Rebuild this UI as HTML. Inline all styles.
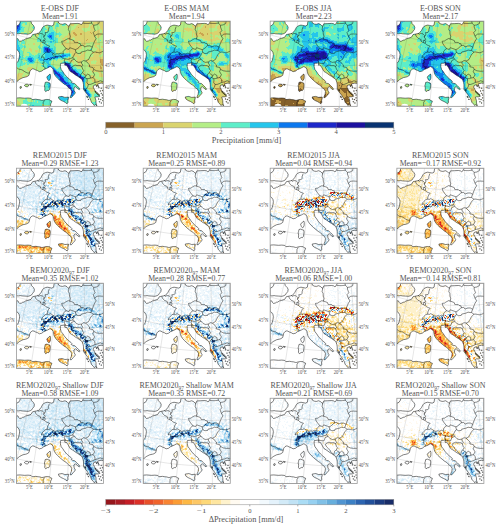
<!DOCTYPE html>
<html><head><meta charset="utf-8"><style>html,body{margin:0;padding:0;background:#fff;width:500px;height:528px;overflow:hidden}svg{display:block}</style></head><body><svg width="500" height="528" viewBox="0 0 500 528" font-family="Liberation Serif, serif" fill="#555"><defs><clipPath id="land"><path d="M0 17.5 L1.6 17.7 L2.2 19.1 L3.2 20.2 L5.1 19.9 L6.1 19.1 L7.6 18.9 L9.1 17.8 L11.6 17.2 L14.6 16.1 L16.2 13.5 L18 13.1 L20.1 12.7 L22.2 12.2 L24.6 9.4 L26.2 6.4 L27.2 5.3 L29.1 4.4 L30.8 4 L32.7 4.3 L35.3 4.9 L37.2 4 L37.8 0 L41.9 0 L42.2 1.9 L44.1 2.9 L46.1 3.2 L48.6 2.5 L50.6 3.5 L52.1 5.1 L53.1 4.4 L53.6 2.7 L57.6 2.5 L61.6 2.3 L63.6 2.7 L64.6 3.5 L65.6 3.1 L66.4 1.7 L67.1 0 L87.05 0 L87.05 62.3 L84.8 62 L82 62.6 L81.2 62.9 L81.8 64.2 L82.3 65.6 L81.5 65 L80.9 63.9 L80.3 64.6 L80.6 65.8 L79.9 65 L79.6 63.5 L77.4 64.3 L76.8 66 L78 68.3 L79.1 70.5 L80.2 72.2 L82.5 73.9 L83.6 75.1 L81.9 75.7 L79.6 75.7 L78.5 76.1 L79.1 77.9 L79.6 79.6 L79.6 81.9 L80.2 83.6 L80.5 84.8 L79.6 84.3 L79 83.3 L78.5 83.8 L77.9 84.5 L76.8 83 L75.1 81.3 L74.5 79.6 L74 77.9 L73.1 76.8 L72.8 76.2 L71.7 74.5 L70.5 72.8 L68.3 70 L67.1 68.3 L67.1 63.7 L66.8 61.6 L65.7 58.4 L63.4 56.7 L61.5 55.3 L59.4 54.1 L57.4 52.6 L55.8 51.5 L54 50.5 L52.8 48.7 L51.8 46.7 L50.6 44.9 L49.6 43.7 L48.6 44.3 L48.2 42.9 L48.9 41.6 L46.6 42.1 L44.4 42.2 L44.1 43.1 L44 45.7 L44.8 48.5 L46.4 50.5 L47.8 52.7 L48.6 53.7 L50.3 55.6 L52.5 57.7 L54.6 59.3 L55.5 60.5 L54.8 61.3 L56.4 62.1 L58.3 62.5 L60.4 64.5 L62.4 66.5 L63.4 68.1 L62.8 68.7 L61.1 67.3 L59.4 65.7 L58.2 65.9 L57.5 67.5 L57.8 69.7 L58.9 71.5 L58.4 72.7 L56.9 74.3 L55 76.5 L53.7 76.5 L54.1 75.1 L55 73 L55.3 70.3 L54.3 68.2 L52.5 66.9 L51 65.5 L49.3 63.7 L48.2 63.3 L45.8 61.4 L43.2 59.2 L41.1 57.2 L39.3 55.2 L37.8 52.9 L37.2 50.3 L36.8 48.1 L35.5 46.5 L33.8 45.5 L32.9 45.8 L31.2 46.8 L29.2 47.7 L27.4 48.4 L25.4 50 L22.9 50.6 L21 49.4 L19.2 48.8 L17.6 47.9 L16.1 47.7 L14.8 48.5 L13.6 49.9 L13 52.1 L12.6 54.2 L10.7 55.5 L9.1 56 L6.6 56.5 L4.8 57.4 L2.9 58.4 L1.2 59.9 L0 60.7 L0 41.7 L1.4 40.9 L2.2 38.9 L2.9 35.9 L3.2 33.4 L2.8 31.4 L1.6 29.4 L0 28.3Z M0 4.9 L2.1 4.1 L3.6 1.9 L3.8 0 L14.6 0 L15.2 2.5 L17.2 4.5 L18 6.3 L17.6 8.5 L16.2 10.1 L15.4 11.5 L13.8 12.5 L11.7 13.1 L8.6 12.9 L5.6 12.7 L4 12.4 L1.8 12.7 L0 12.5Z M0 76.9 L3.6 76.7 L8.3 77.1 L11.6 76.9 L14.6 77.2 L15.8 78.5 L19.4 78.1 L21.6 78.5 L23.6 78.7 L25.1 79.2 L26.6 79.2 L28.1 78.7 L30.5 78.3 L32 78.5 L32.9 78.3 L33.8 79.5 L35.5 80 L35 81.5 L34.2 82.9 L34.2 84.3 L34.6 85.25 L0 85.25Z M33.7 52.9 L34.1 54.3 L34 57.2 L33.2 59.1 L32.4 59.6 L31.3 58.5 L30.8 57 L30.4 56.1 L31 55.1 L32.4 54.2 L33.1 53.2Z M28.8 61.3 L30.6 60.9 L32 61.5 L33.5 61.9 L33.9 63.7 L33.7 65.7 L33.3 68.1 L32.2 69.5 L31.1 69.3 L29.2 70.5 L28.3 69.1 L28.5 66.9 L28 64.7 L28.5 63.1Z M42 75.9 L44.1 75.5 L45.6 75.3 L48.5 76.3 L52.1 76 L52 77.5 L51.5 79.1 L51.6 81.3 L50.6 82.7 L49.1 81.5 L47.2 80.4 L44.9 79.4 L42.7 77.9Z M7.9 64.3 L9.4 63.2 L10.9 63.1 L12.2 63.7 L12.2 64.8 L10.8 65.8 L9.2 65.4Z M13.4 63.1 L15.2 63.5 L14.7 64.2 L13.4 63.9Z M3.5 65.8 L4.8 65.3 L5.1 66.7 L3.9 67.5Z M68.2 68.3 L69.2 68.7 L69.4 70.1 L68.6 69.7Z M78.5 70 L80.1 70.9 L81.8 72.3 L83.1 73.9 L82.2 74.1 L80.4 72.7 L78.9 71.2Z M70.2 74.9 L71.2 75.5 L71.3 76.7 L70.5 76.3Z M71.6 77.9 L72.4 78.2 L72.2 78.9Z M82.9 66.6 L82.7 66.95 L82.3 66.95 L82.1 66.6 L82.3 66.25 L82.7 66.25Z M85.2 67.1 L85 67.45 L84.6 67.45 L84.4 67.1 L84.6 66.75 L85 66.75Z M85.2 72.2 L85 72.55 L84.6 72.55 L84.4 72.2 L84.6 71.85 L85 71.85Z M86.3 73.9 L86.1 74.25 L85.7 74.25 L85.5 73.9 L85.7 73.55 L86.1 73.55Z M84.6 78.5 L84.4 78.85 L84 78.85 L83.8 78.5 L84 78.15 L84.4 78.15Z M86.3 76.8 L86.1 77.15 L85.7 77.15 L85.5 76.8 L85.7 76.45 L86.1 76.45Z M85.2 81.9 L85 82.25 L84.6 82.25 L84.4 81.9 L84.6 81.55 L85 81.55Z M86.9 79.6 L86.7 79.95 L86.3 79.95 L86.1 79.6 L86.3 79.25 L86.7 79.25Z M83.5 80.7 L83.3 81.05 L82.9 81.05 L82.7 80.7 L82.9 80.35 L83.3 80.35Z M82.6 77.9 L82.4 78.25 L82 78.25 L81.8 77.9 L82 77.55 L82.4 77.55Z M86.6 69.5 L86.4 69.85 L86 69.85 L85.8 69.5 L86 69.15 L86.4 69.15Z M84.2 69.9 L84 70.25 L83.6 70.25 L83.4 69.9 L83.6 69.55 L84 69.55Z"/></clipPath><clipPath id="frm"><rect x="0" y="0" width="87.05" height="85.25"/></clipPath><path id="coast" d="M0 17.5 L1.6 17.7 L2.2 19.1 L3.2 20.2 L5.1 19.9 L6.1 19.1 L7.6 18.9 L9.1 17.8 L11.6 17.2 L14.6 16.1 L16.2 13.5 L18 13.1 L20.1 12.7 L22.2 12.2 L24.6 9.4 L26.2 6.4 L27.2 5.3 L29.1 4.4 L30.8 4 L32.7 4.3 L35.3 4.9 L37.2 4 L37.8 0 L41.9 0 L42.2 1.9 L44.1 2.9 L46.1 3.2 L48.6 2.5 L50.6 3.5 L52.1 5.1 L53.1 4.4 L53.6 2.7 L57.6 2.5 L61.6 2.3 L63.6 2.7 L64.6 3.5 L65.6 3.1 L66.4 1.7 L67.1 0 L87.05 0 L87.05 62.3 L84.8 62 L82 62.6 L81.2 62.9 L81.8 64.2 L82.3 65.6 L81.5 65 L80.9 63.9 L80.3 64.6 L80.6 65.8 L79.9 65 L79.6 63.5 L77.4 64.3 L76.8 66 L78 68.3 L79.1 70.5 L80.2 72.2 L82.5 73.9 L83.6 75.1 L81.9 75.7 L79.6 75.7 L78.5 76.1 L79.1 77.9 L79.6 79.6 L79.6 81.9 L80.2 83.6 L80.5 84.8 L79.6 84.3 L79 83.3 L78.5 83.8 L77.9 84.5 L76.8 83 L75.1 81.3 L74.5 79.6 L74 77.9 L73.1 76.8 L72.8 76.2 L71.7 74.5 L70.5 72.8 L68.3 70 L67.1 68.3 L67.1 63.7 L66.8 61.6 L65.7 58.4 L63.4 56.7 L61.5 55.3 L59.4 54.1 L57.4 52.6 L55.8 51.5 L54 50.5 L52.8 48.7 L51.8 46.7 L50.6 44.9 L49.6 43.7 L48.6 44.3 L48.2 42.9 L48.9 41.6 L46.6 42.1 L44.4 42.2 L44.1 43.1 L44 45.7 L44.8 48.5 L46.4 50.5 L47.8 52.7 L48.6 53.7 L50.3 55.6 L52.5 57.7 L54.6 59.3 L55.5 60.5 L54.8 61.3 L56.4 62.1 L58.3 62.5 L60.4 64.5 L62.4 66.5 L63.4 68.1 L62.8 68.7 L61.1 67.3 L59.4 65.7 L58.2 65.9 L57.5 67.5 L57.8 69.7 L58.9 71.5 L58.4 72.7 L56.9 74.3 L55 76.5 L53.7 76.5 L54.1 75.1 L55 73 L55.3 70.3 L54.3 68.2 L52.5 66.9 L51 65.5 L49.3 63.7 L48.2 63.3 L45.8 61.4 L43.2 59.2 L41.1 57.2 L39.3 55.2 L37.8 52.9 L37.2 50.3 L36.8 48.1 L35.5 46.5 L33.8 45.5 L32.9 45.8 L31.2 46.8 L29.2 47.7 L27.4 48.4 L25.4 50 L22.9 50.6 L21 49.4 L19.2 48.8 L17.6 47.9 L16.1 47.7 L14.8 48.5 L13.6 49.9 L13 52.1 L12.6 54.2 L10.7 55.5 L9.1 56 L6.6 56.5 L4.8 57.4 L2.9 58.4 L1.2 59.9 L0 60.7 L0 41.7 L1.4 40.9 L2.2 38.9 L2.9 35.9 L3.2 33.4 L2.8 31.4 L1.6 29.4 L0 28.3Z M0 4.9 L2.1 4.1 L3.6 1.9 L3.8 0 L14.6 0 L15.2 2.5 L17.2 4.5 L18 6.3 L17.6 8.5 L16.2 10.1 L15.4 11.5 L13.8 12.5 L11.7 13.1 L8.6 12.9 L5.6 12.7 L4 12.4 L1.8 12.7 L0 12.5Z M0 76.9 L3.6 76.7 L8.3 77.1 L11.6 76.9 L14.6 77.2 L15.8 78.5 L19.4 78.1 L21.6 78.5 L23.6 78.7 L25.1 79.2 L26.6 79.2 L28.1 78.7 L30.5 78.3 L32 78.5 L32.9 78.3 L33.8 79.5 L35.5 80 L35 81.5 L34.2 82.9 L34.2 84.3 L34.6 85.25 L0 85.25Z M33.7 52.9 L34.1 54.3 L34 57.2 L33.2 59.1 L32.4 59.6 L31.3 58.5 L30.8 57 L30.4 56.1 L31 55.1 L32.4 54.2 L33.1 53.2Z M28.8 61.3 L30.6 60.9 L32 61.5 L33.5 61.9 L33.9 63.7 L33.7 65.7 L33.3 68.1 L32.2 69.5 L31.1 69.3 L29.2 70.5 L28.3 69.1 L28.5 66.9 L28 64.7 L28.5 63.1Z M42 75.9 L44.1 75.5 L45.6 75.3 L48.5 76.3 L52.1 76 L52 77.5 L51.5 79.1 L51.6 81.3 L50.6 82.7 L49.1 81.5 L47.2 80.4 L44.9 79.4 L42.7 77.9Z M7.9 64.3 L9.4 63.2 L10.9 63.1 L12.2 63.7 L12.2 64.8 L10.8 65.8 L9.2 65.4Z M13.4 63.1 L15.2 63.5 L14.7 64.2 L13.4 63.9Z M3.5 65.8 L4.8 65.3 L5.1 66.7 L3.9 67.5Z M68.2 68.3 L69.2 68.7 L69.4 70.1 L68.6 69.7Z M78.5 70 L80.1 70.9 L81.8 72.3 L83.1 73.9 L82.2 74.1 L80.4 72.7 L78.9 71.2Z M70.2 74.9 L71.2 75.5 L71.3 76.7 L70.5 76.3Z M71.6 77.9 L72.4 78.2 L72.2 78.9Z M82.9 66.6 L82.7 66.95 L82.3 66.95 L82.1 66.6 L82.3 66.25 L82.7 66.25Z M85.2 67.1 L85 67.45 L84.6 67.45 L84.4 67.1 L84.6 66.75 L85 66.75Z M85.2 72.2 L85 72.55 L84.6 72.55 L84.4 72.2 L84.6 71.85 L85 71.85Z M86.3 73.9 L86.1 74.25 L85.7 74.25 L85.5 73.9 L85.7 73.55 L86.1 73.55Z M84.6 78.5 L84.4 78.85 L84 78.85 L83.8 78.5 L84 78.15 L84.4 78.15Z M86.3 76.8 L86.1 77.15 L85.7 77.15 L85.5 76.8 L85.7 76.45 L86.1 76.45Z M85.2 81.9 L85 82.25 L84.6 82.25 L84.4 81.9 L84.6 81.55 L85 81.55Z M86.9 79.6 L86.7 79.95 L86.3 79.95 L86.1 79.6 L86.3 79.25 L86.7 79.25Z M83.5 80.7 L83.3 81.05 L82.9 81.05 L82.7 80.7 L82.9 80.35 L83.3 80.35Z M82.6 77.9 L82.4 78.25 L82 78.25 L81.8 77.9 L82 77.55 L82.4 77.55Z M86.6 69.5 L86.4 69.85 L86 69.85 L85.8 69.5 L86 69.15 L86.4 69.15Z M84.2 69.9 L84 70.25 L83.6 70.25 L83.4 69.9 L83.6 69.55 L84 69.55Z"/><path id="bord" d="M18.54 13.07 L19.2 14.95 L20.17 16.05 L21.15 17.14 L21.84 17.38 L22.54 17.61 L23.34 18.1 L24.14 18.57 L24.07 19.94 L24.79 20.51 L25.51 21.09 L26.64 21.49 M21.17 12.17 L21.8 12.66 L22.44 13.14 L23.74 12.3 L24.72 12.47 L25.7 12.63 L26.47 13.21 L27.24 13.79 L27.73 14.32 L27.18 16.07 M27.18 16.07 L28.21 16.92 L28.87 18.39 L27.88 19.16 L27.05 18.8 M27.05 18.8 L26.67 20.35 L26.64 21.49 M27.88 19.16 L28.84 20.67 L28.32 22.2 L27.48 21.85 L26.64 21.49 M27.18 16.07 L28.2 15.08 L28.65 14 L29.09 12.92 L28.6 11.48 L29.41 11.44 L30.22 11.41 L31.03 11.37 L31.91 10.12 L32.02 8.31 L32.5 6.89 L32.97 5.46 M28.32 22.2 L29.1 23 L29.88 23.79 L30.73 24.11 L31.59 24.43 L32.44 24.75 L33.3 25.06 L31.91 26.58 L31.47 27.66 L31.03 28.75 L30.88 29.87 L30.74 30.99 M30.74 30.99 L29.79 31.21 L28.84 31.42 L28.44 32.05 L27.04 33.23 L25.56 34.84 L24.99 36.59 L26.05 35.83 L26.82 35.94 L27.58 36.05 L27.65 37.89 L27.89 38.38 M27.89 38.38 L27.15 39.19 L27.46 40.38 L27.78 41.57 L26.97 41.68 L26.15 41.8 L27.16 43.77 L26.66 45.07 L27.45 45.64 L28.24 46.2 L29.04 46.76 L28.21 48.12 M30.74 30.99 L31.64 31.11 L32.55 31.22 L33.86 30.47 L35.01 31.06 L35.87 31.61 L36.73 32.16 M27.89 38.38 L28.83 38.43 L29.77 38.48 L30.71 38.53 L31.59 37.84 L32.45 37.14 L33.12 38.14 L33.79 39.13 L34.57 37.85 L35.95 36.63 L36.82 37.18 L37.71 37.72 L38.74 36.69 L39.05 35.12 M36.73 32.16 L36.23 33.93 L37.36 34.96 L38.2 35.04 L39.05 35.12 M36.73 32.16 L37.59 32.7 L38.46 33.25 L39.56 32.9 L40.67 32.55 L41.57 32.74 L42.47 32.93 L43.58 32.45 L44.68 31.97 L45.46 32.33 L46.25 32.69 L47.04 33.05 L46.81 31.89 L46.58 30.74 L47.57 29.45 L48.55 28.15 L49.78 27.54 M39.05 35.12 L39.87 35.43 L40.69 35.73 L41.65 35.36 L42.61 34.99 L43.53 34.95 L44.46 34.91 L45.15 35.98 L45.85 37.05 L46.61 37.22 L47.38 37.38 L48.14 37.54 L48.91 37.7 M48.91 37.7 L47.9 39 L48.42 40.85 L48.84 41.78 M48.91 37.7 L49.83 37.9 L50.75 38.1 L51.67 38.3 L52.46 37.99 L53.25 37.69 L54.03 37.38 L54.82 37.06 L56.05 37.1 L56.39 36.21 M48.34 42.21 L49.28 42.26 L50.23 42.31 L51.17 42.36 L52.01 42.47 L52.84 42.58 L53.68 42.69 L54.37 41.13 L55.05 39.34 L56 38.92 L56.94 38.49 L57.88 38.06 M56.39 36.21 L57.13 37.13 L57.88 38.06 M56.39 36.21 L57.03 35.09 L57.67 33.98 L58.31 32.63 L59.54 31.29 M49.78 27.54 L50.66 27.81 L51.55 28.08 L52.43 28.35 L53.4 26.58 L54.13 26.84 L54.86 27.09 L55.6 27.34 L56.33 27.59 L57.22 27.92 L58.1 28.24 L58.99 28.57 M58.99 28.57 L59.26 29.93 L59.54 31.29 M49.78 27.54 L49.04 26.66 L48.3 25.79 L47.57 24.91 L46.77 23.72 L45.97 22.53 L45.62 21.36 L45.27 20.2 L46.05 20.11 L46.83 20.01 L47.61 19.91 L48.52 19.29 L49.42 18.67 L50.21 18.26 L51 17.85 L51.78 17.44 L52.48 17.7 L53.19 17.96 M53.19 17.96 L53.53 16.61 L53.87 15.26 L53.5 14.11 L53.13 12.96 L53.05 11.6 L52.98 10.24 L51.96 8.37 L52.22 7.02 L52.47 5.67 L52.72 4.33 M53.19 17.96 L54.18 18.22 L55.17 18.49 L55.92 18.82 L56.68 19.14 L57.44 19.47 L57.97 21.29 L58.69 21.31 L59.42 21.32 L60.43 21.34 L61.45 21.35 L62.31 22.26 L63.18 22.49 L64.06 22.72 L64.65 24.53 M58.99 28.57 L59.89 28.13 L60.79 27.69 L61.69 27.02 L62.58 26.34 L63.32 25.44 L64.06 24.53 L64.65 24.53 M64.65 24.53 L65.67 24.3 L66.7 24.06 L67.44 24.96 L68.19 25.85 L69.07 25.53 L69.95 25.21 L70.82 24.89 L71.7 24.86 L72.59 24.83 L73.47 24.8 L74.27 25.22 L75.08 25.63 L75.89 26.05 M75.89 26.05 L76.27 24.9 L76.65 23.74 L77.17 22.5 L77.69 21.27 L78.19 20.03 L78.99 18.84 L79.77 17.66 L78.97 16.35 L78.18 15.03 M78.18 15.03 L77.73 13.85 L77.29 12.67 L76.85 11.48 L77.76 10.52 L78.67 9.56 L78.23 8.37 L77.79 7.19 L77.35 6.01 L77.24 4.2 M77.24 4.2 L76.23 3.12 L75.24 2.04 L74.55 2.12 L73.86 2.2 L73.16 2.27 L72.47 2.34 L71.78 2.42 L71.11 2.4 L70.44 2.38 L69.77 2.36 L69.11 2.34 L68.44 2.32 L67.77 2.3 L66.7 2.09 M75.24 2.04 L75.05 0.91 L74.85 -0.21 M77.24 4.2 L77.91 4.1 L78.58 4 L79.25 3.9 L79.92 3.79 L80.57 3.46 L81.21 3.13 L81.86 2.79 L82.51 2.46 L82.77 0.84 L83.03 -0.77 M78.18 15.03 L78.99 14.38 L79.79 13.72 L80.59 13.06 L81.29 13.01 L81.99 12.95 L82.69 12.9 L83.39 12.84 L84.1 12.89 L84.81 12.95 L85.52 12.99 L86.23 13.04 L86.95 13.2 L87.67 13.35 L88.4 13.51 L89.12 13.66 M59.54 31.29 L60.59 31.88 L61.64 32.45 L62.55 32.38 L63.46 32.31 L64.37 32.24 L64.97 30.87 L66.02 30.64 L67.07 30.4 L68.12 30.16 L69.16 29.91 L70.2 29.44 L71.24 28.95 L72.29 29.15 L73.35 29.34 L74.54 29.29 M74.54 29.29 L75.22 27.67 L75.89 26.05 M74.54 29.29 L75.37 29.85 L76.2 30.42 L77.03 30.98 M77.03 30.98 L76.17 31.93 L75.3 32.88 L74.43 33.83 L73.87 34.98 L73.29 36.14 L72.72 37.29 L72.14 38.44 L71.22 38.93 L70.3 39.4 L69.38 39.88 M69.38 39.88 L68.28 39.67 L67.19 39.46 L66.1 40.15 L65.02 40.84 M65.02 40.84 L64.08 41 L63.14 41.15 L62.2 41.29 L61.11 40.83 L60.02 40.36 L58.94 39.21 L57.88 38.06 M65.02 40.84 L65.34 42.65 L66.61 44 L65.35 45.37 M65.35 45.37 L64.56 44.92 L63.76 44.47 L62.97 44.47 L62.18 44.46 L61.39 44.46 L60.59 44.45 L59.65 44.21 L58.7 43.97 L57.74 44.4 L56.78 44.83 L55.96 45.49 L55.15 46.14 L55.75 47.29 L56.36 48.45 L57.31 49.38 L58.26 50.3 L59.05 51.22 L59.85 52.14 L60.81 53.74 M61.14 54.2 L62.12 54.66 L62.94 55.57 L63.76 56.48 M77.03 30.98 L77.93 30.93 L78.84 30.88 L79.69 31.06 L80.55 31.23 L81.41 31.4 L82.27 31.56 L83.14 31.72 L83.95 31.38 L84.75 31.03 L85.56 30.68 L86.36 30.32 L87.21 29.67 L88.05 29.03 M69.38 39.88 L70.18 40.77 L70.98 41.65 L72.12 42.75 L73.26 43.85 L73 45.67 L73.89 45.86 L74.77 46.06 L75.66 46.24 L76.55 46.43 L77.28 48.21 M77.28 48.21 L78.16 48.69 L79.05 49.17 L79.94 49.65 L80.76 49.77 L81.58 49.89 L82.4 50.01 L83.22 50.12 L84.03 50.12 L84.84 50.11 L85.66 50.1 L86.47 50.09 L87.25 49.63 L88.02 49.16 L88.79 48.69 L89.56 48.22 L90.4 47.99 L91.24 47.75 L92.08 47.52 M65.35 45.37 L65.84 46.73 L66.33 48.08 L67.32 49.43 L66.36 51.25 L66.04 51.71 M66.04 51.71 L65.23 52.39 L64.42 53.08 L64.2 54.21 L63.98 55.34 L63.76 56.48 M66.04 51.71 L67.03 52.61 L68.02 53.5 L68.85 53.94 L69.68 54.37 L69.05 55.75 L68.06 56.22 M68.06 56.22 L66.76 58.05 L66.6 59.09 M68.06 56.22 L69.24 56.88 L70.41 57.53 L70.78 58.88 L70.64 60.24 L70.51 61.61 L71.91 63.38 M71.91 63.38 L71.6 64.53 L71.29 65.67 L70.63 66.82 L69.97 67.96 L68.95 68.89 M77.28 48.21 L76.85 49.36 L76.41 50.52 L77.3 52.06 L78.2 53.61 L77.44 55.01 L76.68 56.4 M70.41 57.53 L71.57 57.5 L72.74 57.47 L74.05 56.97 L74.93 56.78 L75.81 56.59 L76.68 56.4 M69.68 54.37 L70.49 53.68 L71.29 52.98 L72.45 53.62 L73.62 54.26 L73.84 55.61 L74.05 56.97 M71.91 63.38 L72.92 63.35 L73.94 63.32 L74.83 62.98 L75.72 62.64 L76.61 62.3 L77.61 61.8 L78.59 61.3 M78.59 61.3 L78.52 59.94 L78.45 58.58 L77.57 57.49 L76.68 56.4 M78.59 61.3 L79.6 61.09 L80.6 60.88 L81.6 60.67 L82.74 60.14 L83.88 59.61 L84.81 60 L85.74 60.38 L86.67 60.76 L87.63 60.07 L88.58 59.39 L89.53 58.69 M13.26 51.95 L12.13 51.92 L11.01 51.89 L10.18 51.5 L9.36 51.11 L8.54 50.71 L7.65 50.07 L6.61 49.39 L5.57 48.71 L4.77 48.54 L3.96 48.36 L3.16 48.18 L2.36 48 L1.33 47.31 L0.31 46.6 L-0.39 45.86 L-1.1 45.12 L-1.79 44.38 M37.67 -1.48 L38.32 -1.34 L38.97 -1.21 L39.62 -1.08 L40.28 -0.96 L41.04 -0.65 M28.17 79.29 L26.86 81.19 L26.81 82.32 L26.76 83.46 L26.72 84.59 L26.68 85.73 L26.29 86.9 L25.9 88.07 L25.5 89.24"/><path id="grid" d="M-9.16 104.85 L-8.16 100.43 L-7.17 96 L-6.18 91.58 L-5.2 87.16 L-4.22 82.73 L-3.25 78.31 L-2.28 73.88 L-1.31 69.46 L-0.35 65.04 L0.62 60.61 L1.58 56.19 L2.55 51.76 L3.51 47.34 L4.48 42.91 L5.45 38.49 L6.42 34.06 L7.39 29.64 L8.37 25.21 L9.35 20.79 L10.33 16.37 L11.32 11.94 L12.32 7.52 L13.32 3.1 L14.33 -1.32 L15.34 -5.74 L16.37 -10.16 L17.4 -14.57 L18.45 -18.99 M10.29 108.58 L11.03 104.11 L11.76 99.64 L12.49 95.16 L13.22 90.69 L13.94 86.22 L14.66 81.75 L15.37 77.27 L16.09 72.8 L16.8 68.32 L17.51 63.85 L18.22 59.38 L18.93 54.9 L19.64 50.43 L20.35 45.95 L21.06 41.48 L21.77 37.01 L22.49 32.53 L23.2 28.06 L23.92 23.59 L24.64 19.11 L25.37 14.64 L26.1 10.17 L26.83 5.7 L27.57 1.23 L28.32 -3.25 L29.07 -7.72 L29.83 -12.19 L30.59 -16.66 M29.98 111.17 L30.45 106.66 L30.92 102.16 L31.38 97.65 L31.84 93.14 L32.3 88.63 L32.75 84.13 L33.21 79.62 L33.66 75.11 L34.11 70.6 L34.56 66.09 L35.01 61.59 L35.46 57.08 L35.91 52.57 L36.36 48.06 L36.81 43.55 L37.26 39.05 L37.71 34.54 L38.17 30.03 L38.62 25.52 L39.08 21.01 L39.54 16.51 L40 12 L40.46 7.49 L40.93 2.98 L41.4 -1.52 L41.87 -6.03 L42.35 -10.54 L42.83 -15.04 M49.82 112.59 L50.02 108.07 L50.21 103.54 L50.4 99.01 L50.59 94.49 L50.78 89.96 L50.97 85.43 L51.16 80.91 L51.35 76.38 L51.53 71.85 L51.72 67.32 L51.91 62.8 L52.09 58.27 L52.28 53.74 L52.46 49.22 L52.65 44.69 L52.84 40.16 L53.02 35.64 L53.21 31.11 L53.4 26.58 L53.59 22.05 L53.78 17.53 L53.97 13 L54.16 8.47 L54.35 3.95 L54.55 -0.58 L54.74 -5.11 L54.94 -9.63 L55.14 -14.16 M69.73 112.83 L69.65 108.3 L69.57 103.77 L69.49 99.24 L69.4 94.71 L69.32 90.18 L69.24 85.65 L69.16 81.12 L69.08 76.59 L69 72.06 L68.92 67.53 L68.84 63 L68.77 58.47 L68.69 53.94 L68.61 49.41 L68.53 44.88 L68.45 40.35 L68.37 35.82 L68.29 31.29 L68.21 26.76 L68.13 22.23 L68.05 17.7 L67.97 13.17 L67.88 8.64 L67.8 4.11 L67.72 -0.42 L67.64 -4.95 L67.55 -9.48 L67.47 -14.01 M89.61 111.89 L89.25 107.37 L88.9 102.85 L88.54 98.33 L88.19 93.82 L87.84 89.3 L87.49 84.78 L87.14 80.27 L86.8 75.75 L86.45 71.23 L86.11 66.71 L85.76 62.19 L85.42 57.68 L85.08 53.16 L84.73 48.64 L84.39 44.12 L84.04 39.61 L83.7 35.09 L83.35 30.57 L83 26.05 L82.66 21.54 L82.31 17.02 L81.95 12.5 L81.6 7.98 L81.24 3.47 L80.88 -1.05 L80.52 -5.57 L80.16 -10.08 L79.79 -14.6 M-39.73 72.69 L-36.23 73.87 L-32.73 75.01 L-29.21 76.12 L-25.68 77.18 L-22.13 78.21 L-18.57 79.2 L-15 80.14 L-11.42 81.05 L-7.83 81.91 L-4.22 82.73 L-0.61 83.51 L3.01 84.25 L6.65 84.95 L10.29 85.61 L13.94 86.22 L17.6 86.79 L21.26 87.31 L24.93 87.8 L28.61 88.24 L32.3 88.63 L35.99 88.99 L39.68 89.3 L43.38 89.56 L47.08 89.78 L50.78 89.96 L54.49 90.09 L58.2 90.18 L61.91 90.23 L65.61 90.23 L69.32 90.18 L73.03 90.09 L76.74 89.96 L80.44 89.79 L84.14 89.56 L87.84 89.3 L91.53 88.99 L95.22 88.64 L98.91 88.24 L102.59 87.8 L106.26 87.32 L109.92 86.79 L113.58 86.23 M-32.47 51.25 L-29.21 52.35 L-25.94 53.42 L-22.65 54.45 L-19.36 55.44 L-16.06 56.4 L-12.74 57.32 L-9.41 58.2 L-6.08 59.04 L-2.73 59.84 L0.62 60.61 L3.98 61.34 L7.35 62.02 L10.73 62.67 L14.12 63.28 L17.51 63.85 L20.91 64.38 L24.31 64.87 L27.72 65.32 L31.14 65.73 L34.56 66.09 L37.99 66.42 L41.42 66.71 L44.85 66.96 L48.28 67.16 L51.72 67.32 L55.16 67.45 L58.6 67.53 L62.04 67.57 L65.48 67.57 L68.92 67.53 L72.36 67.45 L75.8 67.33 L79.24 67.16 L82.68 66.96 L86.11 66.71 L89.54 66.43 L92.96 66.1 L96.38 65.73 L99.8 65.32 L103.21 64.87 L106.62 64.39 L110.02 63.86 M-25.19 29.81 L-22.17 30.84 L-19.13 31.83 L-16.09 32.78 L-13.04 33.7 L-9.98 34.59 L-6.91 35.44 L-3.84 36.25 L-0.75 37.03 L2.35 37.78 L5.45 38.49 L8.56 39.16 L11.67 39.79 L14.8 40.39 L17.92 40.96 L21.06 41.48 L24.2 41.97 L27.35 42.42 L30.5 42.84 L33.65 43.21 L36.81 43.55 L39.97 43.86 L43.14 44.12 L46.31 44.35 L49.48 44.54 L52.65 44.69 L55.82 44.8 L59 44.88 L62.18 44.92 L65.35 44.92 L68.53 44.88 L71.7 44.8 L74.88 44.69 L78.05 44.54 L81.22 44.35 L84.39 44.12 L87.55 43.86 L90.72 43.56 L93.88 43.22 L97.03 42.84 L100.18 42.43 L103.33 41.98 L106.47 41.49 M-17.79 8.4 L-15.01 9.34 L-12.23 10.25 L-9.44 11.13 L-6.63 11.98 L-3.83 12.79 L-1.01 13.57 L1.82 14.32 L4.65 15.03 L7.49 15.72 L10.33 16.37 L13.18 16.98 L16.04 17.57 L18.9 18.12 L21.77 18.63 L24.64 19.11 L27.52 19.56 L30.41 19.98 L33.29 20.36 L36.18 20.7 L39.08 21.01 L41.98 21.29 L44.88 21.53 L47.78 21.74 L50.68 21.92 L53.59 22.05 L56.49 22.16 L59.4 22.23 L62.31 22.26 L65.22 22.26 L68.13 22.23 L71.04 22.16 L73.94 22.06 L76.85 21.92 L79.75 21.74 L82.66 21.54 L85.56 21.29 L88.45 21.02 L91.35 20.71 L94.24 20.36 L97.12 19.98 L100.01 19.57 L102.89 19.12 M-10.16 -12.97 L-7.64 -12.12 L-5.11 -11.29 L-2.58 -10.49 L-0.04 -9.72 L2.51 -8.99 L5.06 -8.28 L7.62 -7.6 L10.19 -6.95 L12.76 -6.33 L15.34 -5.74 L17.93 -5.18 L20.52 -4.65 L23.11 -4.15 L25.71 -3.68 L28.32 -3.25 L30.93 -2.84 L33.54 -2.46 L36.16 -2.12 L38.78 -1.81 L41.4 -1.52 L44.02 -1.27 L46.65 -1.05 L49.28 -0.86 L51.91 -0.71 L54.55 -0.58 L57.18 -0.49 L59.81 -0.42 L62.45 -0.39 L65.08 -0.39 L67.72 -0.42 L70.35 -0.48 L72.99 -0.58 L75.62 -0.7 L78.25 -0.86 L80.88 -1.05 L83.51 -1.27 L86.14 -1.52 L88.76 -1.8 L91.38 -2.11 L93.99 -2.46 L96.61 -2.83 L99.22 -3.24"/><filter id="gb" filterUnits="userSpaceOnUse" x="-12" y="-12" width="111" height="110" color-interpolation-filters="sRGB"><feGaussianBlur stdDeviation="4.2"/></filter><filter id="rb" filterUnits="userSpaceOnUse" x="-12" y="-12" width="111" height="110" color-interpolation-filters="sRGB"><feGaussianBlur stdDeviation="0.9"/></filter><filter id="fE" filterUnits="userSpaceOnUse" x="-4" y="-4" width="95" height="94" color-interpolation-filters="sRGB">
<feGaussianBlur in="SourceGraphic" stdDeviation="0.7" result="b"/>
<feColorMatrix in="b" type="matrix" values="1 0 0 0 0 1 0 0 0 0 1 0 0 0 0 0 0 0 0 1" result="v"/>
<feColorMatrix in="b" type="matrix" values="0 1 0 0 0 0 1 0 0 0 0 1 0 0 0 0 0 0 0 1" result="a"/>
<feTurbulence type="fractalNoise" baseFrequency="0.18" numOctaves="2" seed="3" result="t"/>
<feColorMatrix in="t" type="matrix" values="1 0 0 0 0 1 0 0 0 0 1 0 0 0 0 0 0 0 0 1" result="n"/>
<feComposite in="a" in2="n" operator="arithmetic" k1="0.3" k2="-0.15" k3="0" k4="0.5" result="m"/>
<feComposite in="v" in2="m" operator="arithmetic" k1="0" k2="1" k3="1" k4="-0.5" result="fv"/>
<feComponentTransfer in="fv"><feFuncR type="discrete" tableValues="0.525 0.797 0.858 0.706 0.366 0.146 0.047 0.115 0.110 0.031"/><feFuncG type="discrete" tableValues="0.380 0.647 0.831 0.933 0.933 0.779 0.471 0.159 0.069 0.200"/><feFuncB type="discrete" tableValues="0.165 0.316 0.438 0.529 0.791 0.925 0.933 0.790 0.626 0.443"/><feFuncA type="linear" slope="0" intercept="1"/></feComponentTransfer>
</filter><filter id="fD" filterUnits="userSpaceOnUse" x="-4" y="-4" width="95" height="94" color-interpolation-filters="sRGB">
<feGaussianBlur in="SourceGraphic" stdDeviation="0.45" result="b"/>
<feColorMatrix in="b" type="matrix" values="1 0 0 0 0 1 0 0 0 0 1 0 0 0 0 0 0 0 0 1" result="v"/>
<feColorMatrix in="b" type="matrix" values="0 1 0 0 0 0 1 0 0 0 0 1 0 0 0 0 0 0 0 1" result="a"/>
<feTurbulence type="fractalNoise" baseFrequency="0.42" numOctaves="2" seed="7" result="t"/>
<feColorMatrix in="t" type="matrix" values="1 0 0 0 0 1 0 0 0 0 1 0 0 0 0 0 0 0 0 1" result="n"/>
<feComposite in="a" in2="n" operator="arithmetic" k1="5.0" k2="-2.5" k3="0" k4="0.5" result="m"/>
<feComposite in="v" in2="m" operator="arithmetic" k1="0" k2="1" k3="1" k4="-0.5" result="fv"/>
<feComponentTransfer in="fv"><feFuncR type="discrete" tableValues="0.588 0.667 0.769 0.863 0.910 0.941 0.973 0.984 0.992 0.992 0.992 0.996 0.996 1.000 1.000 1.000 0.949 0.894 0.824 0.753 0.667 0.588 0.502 0.400 0.314 0.235 0.173 0.133 0.110 0.094"/><feFuncG type="discrete" tableValues="0.086 0.110 0.118 0.188 0.314 0.392 0.518 0.612 0.722 0.784 0.847 0.902 0.949 0.980 1.000 1.000 0.976 0.949 0.918 0.886 0.863 0.816 0.753 0.682 0.580 0.502 0.392 0.314 0.235 0.173"/><feFuncB type="discrete" tableValues="0.110 0.141 0.149 0.157 0.165 0.173 0.196 0.204 0.267 0.400 0.471 0.627 0.800 0.941 1.000 1.000 0.992 0.984 0.969 0.957 0.957 0.941 0.902 0.863 0.816 0.769 0.690 0.604 0.502 0.408"/><feFuncA type="linear" slope="0" intercept="1"/></feComponentTransfer>
</filter></defs><rect width="500" height="528" fill="#fff"/><g transform="translate(16.4 21.1)"><g clip-path="url(#frm)"><g clip-path="url(#land)"><g filter="url(#fE)"><g filter="url(#gb)"><g transform="translate(-8.71 -8.53) scale(8.71 8.53)"><path fill="#800000" d="M0 0h2v1h-2zM0 1h2v1h-2zM5 2h1v1h-1zM3 5h1v1h-1zM4 8h1v1h-1zM7 9h1v1h-1z"/><path fill="#520000" d="M2 0h1v1h-1zM10 0h2v1h-2zM2 1h1v1h-1zM10 1h2v1h-2zM2 2h1v1h-1zM6 2h1v1h-1zM2 4h1v1h-1zM4 6h1v1h-1zM9 6h1v1h-1zM0 10h2v1h-2zM0 11h2v1h-2z"/><path fill="#700000" d="M3 0h2v1h-2zM3 1h2v1h-2zM0 3h2v1h-2zM0 4h2v1h-2zM6 7h1v1h-1zM3 8h1v1h-1zM7 10h1v1h-1zM7 11h1v1h-1z"/><path fill="#610000" d="M5 0h2v1h-2zM5 1h2v1h-2zM3 4h1v1h-1zM8 7h1v1h-1zM8 9h1v1h-1z"/><path fill="#4c0000" d="M7 0h1v1h-1zM7 1h1v1h-1zM2 3h1v1h-1zM6 3h1v1h-1zM9 3h1v1h-1zM6 4h1v1h-1zM10 4h2v1h-2zM3 6h1v1h-1zM2 7h1v1h-1zM9 7h1v1h-1z"/><path fill="#470000" d="M8 0h2v1h-2zM8 1h2v1h-2zM7 2h1v1h-1zM10 2h2v1h-2zM8 3h1v1h-1zM7 5h1v1h-1zM9 5h1v1h-1zM10 6h2v1h-2zM10 7h2v1h-2zM9 8h3v1h-3z"/><path fill="#660000" d="M0 2h2v1h-2zM9 4h1v1h-1zM3 7h1v1h-1zM6 8h1v1h-1zM2 9h1v1h-1zM4 10h1v1h-1zM8 10h4v1h-4zM4 11h1v1h-1zM8 11h4v1h-4z"/><path fill="#6b0000" d="M3 2h1v1h-1zM5 3h1v1h-1zM2 5h1v1h-1zM7 6h1v1h-1z"/><path fill="#7a0000" d="M4 2h1v1h-1zM4 3h1v1h-1zM5 4h1v1h-1zM0 5h2v1h-2zM2 10h1v1h-1zM6 10h1v1h-1zM2 11h1v1h-1zM6 11h1v1h-1z"/><path fill="#420000" d="M8 2h2v1h-2zM8 5h1v1h-1zM5 6h1v1h-1z"/><path fill="#5c0000" d="M3 3h1v1h-1zM5 5h2v1h-2zM8 6h1v1h-1zM0 8h3v1h-3zM0 9h2v1h-2zM9 9h3v1h-3z"/><path fill="#3d0000" d="M7 3h1v1h-1zM7 4h1v1h-1z"/><path fill="#570000" d="M10 3h2v1h-2zM8 4h1v1h-1zM2 6h1v1h-1zM8 8h1v1h-1z"/><path fill="#8a0000" d="M4 4h1v1h-1z"/><path fill="#990000" d="M4 5h1v1h-1zM5 7h1v1h-1z"/><path fill="#330000" d="M10 5h2v1h-2z"/><path fill="#750000" d="M0 6h2v1h-2zM3 9h2v1h-2zM3 10h1v1h-1zM5 10h1v1h-1zM3 11h1v1h-1zM5 11h1v1h-1z"/><path fill="#8f0000" d="M6 6h1v1h-1zM4 7h1v1h-1zM7 7h1v1h-1z"/><path fill="#2e0000" d="M0 7h2v1h-2z"/><path fill="#a30000" d="M5 8h1v1h-1z"/><path fill="#850000" d="M7 8h1v1h-1zM5 9h1v1h-1z"/><path fill="#a80000" d="M6 9h1v1h-1z"/></g></g><g filter="url(#rb)"><path d="M28.82 38.51 L31.84 37.07 L33.89 36.86 L35.95 36.63 L38.02 36.16 L40.08 35.68 L41.64 35.51 L43.19 35.34 L44.75 35.16 L46.92 34.85 L49.09 34.53 L51.1 34.19 L53.1 33.82" fill="none" stroke="rgb(168,0,0)" stroke-width="3" stroke-linecap="round" stroke-linejoin="round"/><path d="M52.15 41.49 L53.97 43.38 L55.81 45.26 L57.52 47.11 L59.25 48.96 L61.17 50.35 L63.11 51.72 L64.74 53.08 L66.39 54.43 L69.08 57.56" fill="none" stroke="rgb(117,0,0)" stroke-width="3" stroke-linecap="round" stroke-linejoin="round"/><path d="M32.74 45.62 L34.57 46.62 L36.41 47.61 L38.73 50.57 L40.24 52.07 L41.76 53.56 L44.46 57.39 L46.03 59.09 L47.61 60.77 L49.22 62.22 L50.85 63.66 L53.13 66.47 L54.73 70.16 L54.96 74.24" fill="none" stroke="rgb(199,0,0)" stroke-width="3.5" stroke-linecap="round" stroke-linejoin="round"/><ellipse cx="14.73" cy="39" rx="4" ry="3" fill="rgb(153,0,0)"/><ellipse cx="29.24" cy="28.51" rx="2" ry="3" fill="rgb(189,0,0)"/><ellipse cx="32.47" cy="29.39" rx="2" ry="3" fill="rgb(189,0,0)"/><ellipse cx="55.74" cy="71.54" rx="2" ry="3" fill="rgb(184,0,0)"/><ellipse cx="32.58" cy="55.86" rx="1.5" ry="3" fill="rgb(163,0,0)"/><path d="M0 0 L4 0 L4 4 L0 8Z" fill="rgb(184,0,0)"/><ellipse cx="34.17" cy="15.67" rx="2.2" ry="1.8" fill="rgb(199,0,0)"/><path d="M49.23 43.16 L51.38 44.63 L53.18 47.43 L55.34 50.23 L58.22 52.12 L59.83 53.28 L61.46 54.43 L64.09 56.7 L66.44 58.96" fill="none" stroke="rgb(219,0,0)" stroke-width="4.0" stroke-linecap="round" stroke-linejoin="round"/><path d="M61.46 54.43 L64.09 56.7 L66.44 58.96 L67.14 62.12 L67.18 65.74 L69.65 69.33 L71.8 72 L73.28 74.67" fill="none" stroke="rgb(173,0,0)" stroke-width="3.0" stroke-linecap="round" stroke-linejoin="round"/><path d="M0 0 L3 0 L2.6 6 L2.2 11 L0 12.5Z" fill="rgb(189,0,0)"/><path d="M0 18 L2.2 19 L2.8 28 L2.4 36 L0 40Z" fill="rgb(153,0,0)"/></g><rect x="-4" y="-4" width="95" height="94" fill="rgb(0,255,0)" style="mix-blend-mode:lighten"/></g></g><ellipse cx="7.8" cy="84.3" rx="3.3" ry="1.7" fill="#fff"/><use href="#grid" fill="none" stroke="#000" stroke-opacity="0.22" stroke-width="0.45"/><use href="#coast" fill="none" stroke="#000" stroke-width="0.5"/><use href="#bord" fill="none" stroke="#111" stroke-width="0.5"/></g><rect x="0" y="0" width="87.05" height="85.25" fill="none" stroke="#999" stroke-width="0.8"/><text x="-1.8" y="15.1" font-size="5.1" text-anchor="end" textLength="9.76" lengthAdjust="spacingAndGlyphs">50°N</text><text x="-1.8" y="38.4" font-size="5.1" text-anchor="end" textLength="9.76" lengthAdjust="spacingAndGlyphs">45°N</text><text x="-1.8" y="62.4" font-size="5.1" text-anchor="end" textLength="9.76" lengthAdjust="spacingAndGlyphs">40°N</text><text x="-1.8" y="84.9" font-size="5.1" text-anchor="end" textLength="9.76" lengthAdjust="spacingAndGlyphs">35°N</text><text x="88.6" y="22.7" font-size="5.1" textLength="9.76" lengthAdjust="spacingAndGlyphs">50°N</text><text x="88.6" y="45.7" font-size="5.1" textLength="9.76" lengthAdjust="spacingAndGlyphs">45°N</text><text x="88.6" y="68.3" font-size="5.1" textLength="9.76" lengthAdjust="spacingAndGlyphs">40°N</text><text x="13" y="90.7" font-size="5.1" text-anchor="middle" textLength="6.95" lengthAdjust="spacingAndGlyphs">5°E</text><text x="32.1" y="90.7" font-size="5.1" text-anchor="middle" textLength="9.25" lengthAdjust="spacingAndGlyphs">10°E</text><text x="50.7" y="90.7" font-size="5.1" text-anchor="middle" textLength="9.25" lengthAdjust="spacingAndGlyphs">15°E</text><text x="68.2" y="90.7" font-size="5.1" text-anchor="middle" textLength="9.25" lengthAdjust="spacingAndGlyphs">20°E</text><text x="43.52" y="-10.3" font-size="9.2" text-anchor="middle" textLength="38.21" lengthAdjust="spacingAndGlyphs">E-OBS DJF</text><text x="43.52" y="-1.95" font-size="9.2" text-anchor="middle" textLength="35.81" lengthAdjust="spacingAndGlyphs">Mean=1.91</text></g><g transform="translate(143.2 21.1)"><g clip-path="url(#frm)"><g clip-path="url(#land)"><g filter="url(#fE)"><g filter="url(#gb)"><g transform="translate(-8.71 -8.53) scale(8.71 8.53)"><path fill="#700000" d="M0 0h2v1h-2zM0 1h2v1h-2zM4 2h1v1h-1zM4 7h1v1h-1z"/><path fill="#4c0000" d="M2 0h1v1h-1zM6 0h1v1h-1zM2 1h1v1h-1zM6 1h1v1h-1zM2 7h1v1h-1zM9 7h3v1h-3zM2 9h1v1h-1zM3 10h1v1h-1zM6 10h1v1h-1zM3 11h1v1h-1zM6 11h1v1h-1z"/><path fill="#5c0000" d="M3 0h2v1h-2zM3 1h2v1h-2zM0 2h2v1h-2zM3 2h1v1h-1zM5 2h1v1h-1zM3 3h1v1h-1zM6 3h1v1h-1zM5 6h1v1h-1zM3 8h2v1h-2zM7 9h1v1h-1zM2 10h1v1h-1zM2 11h1v1h-1z"/><path fill="#570000" d="M5 0h1v1h-1zM5 1h1v1h-1zM2 2h1v1h-1zM3 9h1v1h-1z"/><path fill="#450000" d="M7 0h2v1h-2zM7 1h2v1h-2zM7 2h1v1h-1zM9 2h1v1h-1zM7 3h1v1h-1zM10 5h2v1h-2z"/><path fill="#4a0000" d="M9 0h1v1h-1zM9 1h1v1h-1z"/><path fill="#540000" d="M10 0h2v1h-2zM10 1h2v1h-2zM10 2h2v1h-2zM8 5h1v1h-1zM10 6h2v1h-2z"/><path fill="#520000" d="M6 2h1v1h-1zM2 3h1v1h-1zM2 4h1v1h-1zM6 8h1v1h-1zM4 9h1v1h-1z"/><path fill="#400000" d="M8 2h1v1h-1z"/><path fill="#610000" d="M0 3h2v1h-2zM5 3h1v1h-1zM0 4h2v1h-2zM3 4h1v1h-1z"/><path fill="#750000" d="M4 3h1v1h-1zM6 7h1v1h-1z"/><path fill="#590000" d="M8 3h1v1h-1zM10 3h2v1h-2zM7 5h1v1h-1zM9 5h1v1h-1z"/><path fill="#5e0000" d="M9 3h1v1h-1zM7 4h1v1h-1zM9 6h1v1h-1z"/><path fill="#8a0000" d="M4 4h1v1h-1zM3 5h1v1h-1zM6 5h1v1h-1z"/><path fill="#7a0000" d="M5 4h1v1h-1zM0 6h2v1h-2zM7 7h1v1h-1z"/><path fill="#660000" d="M6 4h1v1h-1zM2 6h2v1h-2zM3 7h1v1h-1zM8 7h1v1h-1zM5 8h1v1h-1zM7 8h1v1h-1zM5 9h2v1h-2z"/><path fill="#7d0000" d="M8 4h1v1h-1z"/><path fill="#820000" d="M9 4h1v1h-1z"/><path fill="#630000" d="M10 4h2v1h-2z"/><path fill="#800000" d="M0 5h2v1h-2zM4 6h1v1h-1zM5 7h1v1h-1z"/><path fill="#850000" d="M2 5h1v1h-1z"/><path fill="#b80000" d="M4 5h1v1h-1z"/><path fill="#b20000" d="M5 5h1v1h-1z"/><path fill="#8f0000" d="M6 6h1v1h-1z"/><path fill="#8c0000" d="M7 6h1v1h-1z"/><path fill="#6e0000" d="M8 6h1v1h-1z"/><path fill="#3d0000" d="M0 7h2v1h-2zM9 8h3v1h-3zM8 9h1v1h-1zM5 10h1v1h-1zM7 10h2v1h-2zM5 11h1v1h-1zM7 11h2v1h-2z"/><path fill="#420000" d="M0 8h2v1h-2zM0 10h2v1h-2zM4 10h1v1h-1zM0 11h2v1h-2zM4 11h1v1h-1z"/><path fill="#470000" d="M2 8h1v1h-1zM8 8h1v1h-1zM0 9h2v1h-2z"/><path fill="#330000" d="M9 9h1v1h-1z"/><path fill="#380000" d="M10 9h2v1h-2zM9 10h3v1h-3zM9 11h3v1h-3z"/></g></g><g filter="url(#rb)"><path d="M26.54 45.97 L27.35 42.42 L28.82 38.51 L31.84 37.07 L33.89 36.86 L35.95 36.63 L38.02 36.16 L40.08 35.68 L41.64 35.51 L43.19 35.34 L44.75 35.16 L46.92 34.85 L49.09 34.53 L51.1 34.19 L53.1 33.82 L55.58 32.56" fill="none" stroke="rgb(194,0,0)" stroke-width="4.5" stroke-linecap="round" stroke-linejoin="round"/><path d="M49.23 43.16 L51.38 44.63 L53.18 47.43 L55.34 50.23 L58.22 52.12 L59.83 53.28 L61.46 54.43 L64.09 56.7 L66.44 58.96 L67.14 62.12 L67.18 65.74 L69.65 69.33 L71.8 72 L73.28 74.67" fill="none" stroke="rgb(189,0,0)" stroke-width="2.5" stroke-linecap="round" stroke-linejoin="round"/><path d="M52.15 41.49 L53.97 43.38 L55.81 45.26 L57.52 47.11 L59.25 48.96 L61.17 50.35 L63.11 51.72 L64.74 53.08 L66.39 54.43 L69.08 57.56" fill="none" stroke="rgb(117,0,0)" stroke-width="3" stroke-linecap="round" stroke-linejoin="round"/><path d="M31.07 46.1 L33.03 45.88 L34.99 45.64 L36.52 46.48 L38.05 47.32 L39.74 48.38 L41.43 49.44 L42.95 50.92 L44.48 52.4 L46.9 55.74 L49.38 59.05 L50.97 60.94 L52.58 62.83 L54.52 66.07 L55.44 69.72 L55.69 73.36" fill="none" stroke="rgb(158,0,0)" stroke-width="2.5" stroke-linecap="round" stroke-linejoin="round"/><path d="M-1.4 45.27 L0.2 46.35 L1.81 47.42 L3.48 48.26 L5.16 49.09 L6.7 49.76 L8.26 50.43 L9.84 50.97 L11.42 51.51" fill="none" stroke="rgb(184,0,0)" stroke-width="3" stroke-linecap="round" stroke-linejoin="round"/><ellipse cx="14.73" cy="39" rx="4" ry="3" fill="rgb(178,0,0)"/><path d="M61.69 27.24 L63.77 26.35 L65.83 25.43 L67.75 25.63 L69.67 25.82 L71.15 26.08 L72.64 26.34 L74.13 26.58 L76.11 27.63 L78.11 28.65 L79.85 30.14 L81.61 31.61 L84.31 35.04 L85.26 37.24 L86.22 39.43 L85.47 41.77 L83.76 42.13 L82.05 42.48 L80 42.61 L77.95 42.73 L75.79 43.74" fill="none" stroke="rgb(143,0,0)" stroke-width="3" stroke-linecap="round" stroke-linejoin="round"/><ellipse cx="29.24" cy="28.51" rx="2" ry="3" fill="rgb(153,0,0)"/><ellipse cx="25.94" cy="34.44" rx="2" ry="3" fill="rgb(173,0,0)"/><ellipse cx="34.17" cy="15.67" rx="2.2" ry="1.8" fill="rgb(153,0,0)"/><path d="M45.91 19.34 L47.65 19.24 L49.39 19.12 L50.94 18.98 L52.48 18.83 L54.02 18.67 L56 19.54 L57.99 20.39 L60 21.11 L62.02 21.81" fill="none" stroke="rgb(133,0,0)" stroke-width="2.5" stroke-linecap="round" stroke-linejoin="round"/></g><rect x="-4" y="-4" width="95" height="94" fill="rgb(0,255,0)" style="mix-blend-mode:lighten"/></g></g><ellipse cx="7.8" cy="84.3" rx="3.3" ry="1.7" fill="#fff"/><use href="#grid" fill="none" stroke="#000" stroke-opacity="0.22" stroke-width="0.45"/><use href="#coast" fill="none" stroke="#000" stroke-width="0.5"/><use href="#bord" fill="none" stroke="#111" stroke-width="0.5"/></g><rect x="0" y="0" width="87.05" height="85.25" fill="none" stroke="#999" stroke-width="0.8"/><text x="-1.8" y="15.1" font-size="5.1" text-anchor="end" textLength="9.76" lengthAdjust="spacingAndGlyphs">50°N</text><text x="-1.8" y="38.4" font-size="5.1" text-anchor="end" textLength="9.76" lengthAdjust="spacingAndGlyphs">45°N</text><text x="-1.8" y="62.4" font-size="5.1" text-anchor="end" textLength="9.76" lengthAdjust="spacingAndGlyphs">40°N</text><text x="-1.8" y="84.9" font-size="5.1" text-anchor="end" textLength="9.76" lengthAdjust="spacingAndGlyphs">35°N</text><text x="88.6" y="22.7" font-size="5.1" textLength="9.76" lengthAdjust="spacingAndGlyphs">50°N</text><text x="88.6" y="45.7" font-size="5.1" textLength="9.76" lengthAdjust="spacingAndGlyphs">45°N</text><text x="88.6" y="68.3" font-size="5.1" textLength="9.76" lengthAdjust="spacingAndGlyphs">40°N</text><text x="13" y="90.7" font-size="5.1" text-anchor="middle" textLength="6.95" lengthAdjust="spacingAndGlyphs">5°E</text><text x="32.1" y="90.7" font-size="5.1" text-anchor="middle" textLength="9.25" lengthAdjust="spacingAndGlyphs">10°E</text><text x="50.7" y="90.7" font-size="5.1" text-anchor="middle" textLength="9.25" lengthAdjust="spacingAndGlyphs">15°E</text><text x="68.2" y="90.7" font-size="5.1" text-anchor="middle" textLength="9.25" lengthAdjust="spacingAndGlyphs">20°E</text><text x="43.52" y="-10.3" font-size="9.2" text-anchor="middle" textLength="44.84" lengthAdjust="spacingAndGlyphs">E-OBS MAM</text><text x="43.52" y="-1.95" font-size="9.2" text-anchor="middle" textLength="35.81" lengthAdjust="spacingAndGlyphs">Mean=1.94</text></g><g transform="translate(270.15 21.1)"><g clip-path="url(#frm)"><g clip-path="url(#land)"><g filter="url(#fE)"><g filter="url(#gb)"><g transform="translate(-8.71 -8.53) scale(8.71 8.53)"><path fill="#700000" d="M0 0h2v1h-2zM3 0h1v1h-1zM8 0h1v1h-1zM0 1h2v1h-2zM3 1h1v1h-1zM8 1h1v1h-1zM3 3h1v1h-1zM10 5h2v1h-2z"/><path fill="#5c0000" d="M2 0h1v1h-1zM2 1h1v1h-1zM2 2h1v1h-1zM10 7h2v1h-2z"/><path fill="#7a0000" d="M4 0h1v1h-1zM9 0h1v1h-1zM4 1h1v1h-1zM9 1h1v1h-1zM6 2h1v1h-1zM10 2h2v1h-2zM2 5h1v1h-1zM9 5h1v1h-1z"/><path fill="#850000" d="M5 0h1v1h-1zM5 1h1v1h-1zM4 2h1v1h-1zM9 2h1v1h-1zM4 3h2v1h-2zM7 3h1v1h-1zM7 5h1v1h-1zM7 6h1v1h-1z"/><path fill="#800000" d="M6 0h1v1h-1zM10 0h2v1h-2zM6 1h1v1h-1zM10 1h2v1h-2zM8 3h1v1h-1zM10 3h2v1h-2z"/><path fill="#750000" d="M7 0h1v1h-1zM7 1h1v1h-1zM3 2h1v1h-1zM7 2h2v1h-2zM3 4h1v1h-1zM8 5h1v1h-1zM8 6h4v1h-4z"/><path fill="#610000" d="M0 2h2v1h-2zM2 4h1v1h-1z"/><path fill="#8a0000" d="M5 2h1v1h-1zM9 3h1v1h-1z"/><path fill="#520000" d="M0 3h2v1h-2z"/><path fill="#570000" d="M2 3h1v1h-1zM9 7h1v1h-1z"/><path fill="#8f0000" d="M6 3h1v1h-1zM7 4h1v1h-1zM3 5h1v1h-1zM6 6h1v1h-1z"/><path fill="#4c0000" d="M0 4h2v1h-2z"/><path fill="#940000" d="M4 4h1v1h-1z"/><path fill="#a30000" d="M5 4h1v1h-1zM8 4h1v1h-1z"/><path fill="#990000" d="M6 4h1v1h-1zM10 4h2v1h-2z"/><path fill="#b80000" d="M9 4h1v1h-1z"/><path fill="#660000" d="M0 5h2v1h-2zM0 6h2v1h-2zM7 7h2v1h-2z"/><path fill="#cc0000" d="M4 5h1v1h-1z"/><path fill="#d60000" d="M5 5h1v1h-1z"/><path fill="#c20000" d="M6 5h1v1h-1z"/><path fill="#470000" d="M2 6h1v1h-1zM6 7h1v1h-1z"/><path fill="#330000" d="M3 6h1v1h-1z"/><path fill="#420000" d="M4 6h2v1h-2z"/><path fill="#290000" d="M0 7h2v1h-2zM4 7h1v1h-1zM5 8h2v1h-2zM6 9h2v1h-2z"/><path fill="#1f0000" d="M2 7h2v1h-2zM0 8h5v1h-5zM5 9h1v1h-1z"/><path fill="#3d0000" d="M5 7h1v1h-1zM7 8h1v1h-1z"/><path fill="#2e0000" d="M8 8h1v1h-1z"/><path fill="#240000" d="M9 8h3v1h-3z"/><path fill="#1a0000" d="M0 9h5v1h-5zM8 9h4v1h-4zM5 10h2v1h-2zM5 11h2v1h-2z"/><path fill="#0f0000" d="M0 10h4v1h-4zM0 11h4v1h-4z"/><path fill="#140000" d="M4 10h1v1h-1zM7 10h5v1h-5zM4 11h1v1h-1zM7 11h5v1h-5z"/></g></g><g filter="url(#rb)"><path d="M49.23 43.16 L51.38 44.63 L53.18 47.43 L55.34 50.23 L58.22 52.12 L59.83 53.28 L61.46 54.43 L64.09 56.7 L66.44 58.96 L67.14 62.12 L67.18 65.74 L69.65 69.33 L71.8 72 L73.28 74.67" fill="none" stroke="rgb(51,0,0)" stroke-width="2.5" stroke-linecap="round" stroke-linejoin="round"/><path d="M28.82 38.51 L31.84 37.07 L33.89 36.86 L35.95 36.63 L38.02 36.16 L40.08 35.68 L41.64 35.51 L43.19 35.34 L44.75 35.16 L46.92 34.85 L49.09 34.53 L51.1 34.19 L53.1 33.82" fill="none" stroke="rgb(224,0,0)" stroke-width="8.0" stroke-linecap="round" stroke-linejoin="round"/><path d="M26.54 45.97 L27.35 42.42 L28.82 38.51 L31.84 37.07 L33.89 36.86 L35.95 36.63 L38.02 36.16 L40.08 35.68" fill="none" stroke="rgb(168,0,0)" stroke-width="3" stroke-linecap="round" stroke-linejoin="round"/><path d="M60.81 25.87 L62.49 25.74 L64.16 25.59 L65.83 25.43 L67.9 25.86 L69.97 26.27 L72.05 26.43 L74.13 26.58 L76.09 27.17 L78.06 27.75 L79.9 28.55 L81.75 29.33" fill="none" stroke="rgb(209,0,0)" stroke-width="4" stroke-linecap="round" stroke-linejoin="round"/><path d="M52.15 41.49 L53.97 43.38 L55.81 45.26 L57.52 47.11 L59.25 48.96 L61.17 50.35 L63.11 51.72 L64.74 53.08 L66.39 54.43 L69.08 57.56" fill="none" stroke="rgb(143,0,0)" stroke-width="3" stroke-linecap="round" stroke-linejoin="round"/><path d="M-1.4 45.27 L0.2 46.35 L1.81 47.42 L3.48 48.26 L5.16 49.09 L6.7 49.76 L8.26 50.43 L9.84 50.97 L11.42 51.51" fill="none" stroke="rgb(148,0,0)" stroke-width="3" stroke-linecap="round" stroke-linejoin="round"/><ellipse cx="14.73" cy="39" rx="4" ry="3" fill="rgb(143,0,0)"/><ellipse cx="34.17" cy="15.67" rx="2.2" ry="1.8" fill="rgb(153,0,0)"/><path d="M45.91 19.34 L47.65 19.24 L49.39 19.12 L50.94 18.98 L52.48 18.83 L54.02 18.67 L56 19.54 L57.99 20.39 L60 21.11 L62.02 21.81" fill="none" stroke="rgb(173,0,0)" stroke-width="2.5" stroke-linecap="round" stroke-linejoin="round"/></g><rect x="-4" y="-4" width="95" height="94" fill="rgb(0,255,0)" style="mix-blend-mode:lighten"/></g></g><ellipse cx="7.8" cy="84.3" rx="3.3" ry="1.7" fill="#fff"/><use href="#grid" fill="none" stroke="#000" stroke-opacity="0.22" stroke-width="0.45"/><use href="#coast" fill="none" stroke="#000" stroke-width="0.5"/><use href="#bord" fill="none" stroke="#111" stroke-width="0.5"/></g><rect x="0" y="0" width="87.05" height="85.25" fill="none" stroke="#999" stroke-width="0.8"/><text x="-1.8" y="15.1" font-size="5.1" text-anchor="end" textLength="9.76" lengthAdjust="spacingAndGlyphs">50°N</text><text x="-1.8" y="38.4" font-size="5.1" text-anchor="end" textLength="9.76" lengthAdjust="spacingAndGlyphs">45°N</text><text x="-1.8" y="62.4" font-size="5.1" text-anchor="end" textLength="9.76" lengthAdjust="spacingAndGlyphs">40°N</text><text x="-1.8" y="84.9" font-size="5.1" text-anchor="end" textLength="9.76" lengthAdjust="spacingAndGlyphs">35°N</text><text x="88.6" y="22.7" font-size="5.1" textLength="9.76" lengthAdjust="spacingAndGlyphs">50°N</text><text x="88.6" y="45.7" font-size="5.1" textLength="9.76" lengthAdjust="spacingAndGlyphs">45°N</text><text x="88.6" y="68.3" font-size="5.1" textLength="9.76" lengthAdjust="spacingAndGlyphs">40°N</text><text x="13" y="90.7" font-size="5.1" text-anchor="middle" textLength="6.95" lengthAdjust="spacingAndGlyphs">5°E</text><text x="32.1" y="90.7" font-size="5.1" text-anchor="middle" textLength="9.25" lengthAdjust="spacingAndGlyphs">10°E</text><text x="50.7" y="90.7" font-size="5.1" text-anchor="middle" textLength="9.25" lengthAdjust="spacingAndGlyphs">15°E</text><text x="68.2" y="90.7" font-size="5.1" text-anchor="middle" textLength="9.25" lengthAdjust="spacingAndGlyphs">20°E</text><text x="43.52" y="-10.3" font-size="9.2" text-anchor="middle" textLength="36.89" lengthAdjust="spacingAndGlyphs">E-OBS JJA</text><text x="43.52" y="-1.95" font-size="9.2" text-anchor="middle" textLength="35.81" lengthAdjust="spacingAndGlyphs">Mean=2.23</text></g><g transform="translate(396.85 21.1)"><g clip-path="url(#frm)"><g clip-path="url(#land)"><g filter="url(#fE)"><g filter="url(#gb)"><g transform="translate(-8.71 -8.53) scale(8.71 8.53)"><path fill="#990000" d="M0 0h2v1h-2zM0 1h2v1h-2zM5 5h1v1h-1zM5 7h1v1h-1zM6 9h1v1h-1z"/><path fill="#610000" d="M2 0h1v1h-1zM2 1h1v1h-1zM6 3h1v1h-1zM2 9h1v1h-1zM3 10h1v1h-1zM3 11h1v1h-1z"/><path fill="#660000" d="M3 0h1v1h-1zM5 0h1v1h-1zM3 1h1v1h-1zM5 1h1v1h-1zM5 2h1v1h-1zM2 7h1v1h-1zM7 10h1v1h-1zM7 11h1v1h-1z"/><path fill="#6b0000" d="M4 0h1v1h-1zM4 1h1v1h-1zM6 4h1v1h-1zM6 8h1v1h-1zM3 9h1v1h-1z"/><path fill="#5c0000" d="M6 0h1v1h-1zM6 1h1v1h-1zM6 2h1v1h-1zM0 8h3v1h-3zM8 8h1v1h-1zM0 9h2v1h-2zM2 10h1v1h-1zM8 10h1v1h-1zM2 11h1v1h-1zM8 11h1v1h-1z"/><path fill="#590000" d="M7 0h1v1h-1zM7 1h1v1h-1zM3 3h1v1h-1zM10 6h2v1h-2z"/><path fill="#4f0000" d="M8 0h1v1h-1zM8 1h1v1h-1zM2 3h1v1h-1zM8 5h1v1h-1z"/><path fill="#540000" d="M9 0h1v1h-1zM9 1h1v1h-1zM7 2h1v1h-1zM9 3h1v1h-1zM2 4h1v1h-1zM9 5h1v1h-1z"/><path fill="#630000" d="M10 0h2v1h-2zM10 1h2v1h-2zM10 2h2v1h-2zM0 3h2v1h-2zM10 3h2v1h-2zM7 4h1v1h-1zM7 5h1v1h-1zM9 6h1v1h-1zM10 7h2v1h-2z"/><path fill="#690000" d="M0 2h2v1h-2zM10 4h2v1h-2z"/><path fill="#5e0000" d="M2 2h2v1h-2zM8 3h1v1h-1zM0 4h2v1h-2zM3 4h1v1h-1zM9 7h1v1h-1z"/><path fill="#850000" d="M4 2h1v1h-1zM4 3h1v1h-1zM2 6h1v1h-1zM4 7h1v1h-1z"/><path fill="#450000" d="M8 2h1v1h-1z"/><path fill="#4a0000" d="M9 2h1v1h-1zM7 3h1v1h-1z"/><path fill="#700000" d="M5 3h1v1h-1zM3 8h1v1h-1zM4 9h1v1h-1zM5 10h2v1h-2zM5 11h2v1h-2z"/><path fill="#940000" d="M4 4h1v1h-1z"/><path fill="#800000" d="M5 4h1v1h-1zM3 7h1v1h-1zM7 9h1v1h-1z"/><path fill="#780000" d="M8 4h1v1h-1zM8 7h1v1h-1z"/><path fill="#7d0000" d="M9 4h1v1h-1zM2 5h2v1h-2z"/><path fill="#730000" d="M0 5h2v1h-2z"/><path fill="#b80000" d="M4 5h1v1h-1zM6 6h1v1h-1z"/><path fill="#8f0000" d="M6 5h1v1h-1zM3 6h1v1h-1zM5 8h1v1h-1z"/><path fill="#400000" d="M10 5h2v1h-2z"/><path fill="#750000" d="M0 6h2v1h-2zM5 6h1v1h-1zM6 7h1v1h-1zM4 8h1v1h-1z"/><path fill="#a30000" d="M4 6h1v1h-1z"/><path fill="#a10000" d="M7 6h1v1h-1z"/><path fill="#6e0000" d="M8 6h1v1h-1z"/><path fill="#420000" d="M0 7h2v1h-2zM9 9h3v1h-3z"/><path fill="#ab0000" d="M7 7h1v1h-1z"/><path fill="#8a0000" d="M7 8h1v1h-1z"/><path fill="#470000" d="M9 8h3v1h-3zM0 10h2v1h-2zM0 11h2v1h-2z"/><path fill="#7a0000" d="M5 9h1v1h-1z"/><path fill="#4c0000" d="M8 9h1v1h-1z"/><path fill="#520000" d="M4 10h1v1h-1zM9 10h3v1h-3zM4 11h1v1h-1zM9 11h3v1h-3z"/></g></g><g filter="url(#rb)"><path d="M26.54 45.97 L27.35 42.42 L28.82 38.51 L31.84 37.07 L33.89 36.86 L35.95 36.63 L38.02 36.16 L40.08 35.68 L41.64 35.51 L43.19 35.34 L44.75 35.16 L46.92 34.85 L49.09 34.53 L51.1 34.19 L53.1 33.82 L55.58 32.56" fill="none" stroke="rgb(194,0,0)" stroke-width="4.5" stroke-linecap="round" stroke-linejoin="round"/><path d="M28.72 46.72 L31.76 45.73 L33.35 45.92 L34.94 46.09 L37.05 47.68" fill="none" stroke="rgb(199,0,0)" stroke-width="3" stroke-linecap="round" stroke-linejoin="round"/><path d="M52.15 41.49 L53.97 43.38 L55.81 45.26 L57.52 47.11 L59.25 48.96 L61.17 50.35 L63.11 51.72 L64.74 53.08 L66.39 54.43 L69.08 57.56" fill="none" stroke="rgb(143,0,0)" stroke-width="3" stroke-linecap="round" stroke-linejoin="round"/><path d="M32.74 45.62 L34.57 46.62 L36.41 47.61 L38.73 50.57 L40.24 52.07 L41.76 53.56 L44.46 57.39 L46.03 59.09 L47.61 60.77 L49.22 62.22 L50.85 63.66 L53.13 66.47 L54.73 70.16 L54.96 74.24" fill="none" stroke="rgb(184,0,0)" stroke-width="3.5" stroke-linecap="round" stroke-linejoin="round"/><ellipse cx="17.07" cy="44.03" rx="3" ry="2.5" fill="rgb(199,0,0)"/><path d="M-1.4 45.27 L0.2 46.35 L1.81 47.42 L3.48 48.26 L5.16 49.09 L6.7 49.76 L8.26 50.43 L9.84 50.97 L11.42 51.51" fill="none" stroke="rgb(143,0,0)" stroke-width="2.5" stroke-linecap="round" stroke-linejoin="round"/><ellipse cx="55.74" cy="71.54" rx="2" ry="3" fill="rgb(178,0,0)"/><path d="M0 0 L4 0 L4 4 L0 8Z" fill="rgb(184,0,0)"/><ellipse cx="34.17" cy="15.67" rx="2.2" ry="1.8" fill="rgb(189,0,0)"/><path d="M49.23 43.16 L51.38 44.63 L53.18 47.43 L55.34 50.23 L58.22 52.12 L59.83 53.28 L61.46 54.43 L64.09 56.7 L66.44 58.96" fill="none" stroke="rgb(219,0,0)" stroke-width="4.0" stroke-linecap="round" stroke-linejoin="round"/><path d="M61.46 54.43 L64.09 56.7 L66.44 58.96 L67.14 62.12 L67.18 65.74 L69.65 69.33 L71.8 72 L73.28 74.67" fill="none" stroke="rgb(168,0,0)" stroke-width="3.0" stroke-linecap="round" stroke-linejoin="round"/><ellipse cx="20.14" cy="43.17" rx="4" ry="2.5" transform="rotate(-20 20.14 43.17)" fill="rgb(168,0,0)"/><path d="M0 0 L3 0 L2.6 6 L2.2 11 L0 12.5Z" fill="rgb(194,0,0)"/><path d="M0 18 L2.2 19 L2.8 28 L2.4 36 L0 40Z" fill="rgb(153,0,0)"/></g><rect x="-4" y="-4" width="95" height="94" fill="rgb(0,255,0)" style="mix-blend-mode:lighten"/></g></g><ellipse cx="7.8" cy="84.3" rx="3.3" ry="1.7" fill="#fff"/><use href="#grid" fill="none" stroke="#000" stroke-opacity="0.22" stroke-width="0.45"/><use href="#coast" fill="none" stroke="#000" stroke-width="0.5"/><use href="#bord" fill="none" stroke="#111" stroke-width="0.5"/></g><rect x="0" y="0" width="87.05" height="85.25" fill="none" stroke="#999" stroke-width="0.8"/><text x="-1.8" y="15.1" font-size="5.1" text-anchor="end" textLength="9.76" lengthAdjust="spacingAndGlyphs">50°N</text><text x="-1.8" y="38.4" font-size="5.1" text-anchor="end" textLength="9.76" lengthAdjust="spacingAndGlyphs">45°N</text><text x="-1.8" y="62.4" font-size="5.1" text-anchor="end" textLength="9.76" lengthAdjust="spacingAndGlyphs">40°N</text><text x="-1.8" y="84.9" font-size="5.1" text-anchor="end" textLength="9.76" lengthAdjust="spacingAndGlyphs">35°N</text><text x="88.6" y="22.7" font-size="5.1" textLength="9.76" lengthAdjust="spacingAndGlyphs">50°N</text><text x="88.6" y="45.7" font-size="5.1" textLength="9.76" lengthAdjust="spacingAndGlyphs">45°N</text><text x="88.6" y="68.3" font-size="5.1" textLength="9.76" lengthAdjust="spacingAndGlyphs">40°N</text><text x="13" y="90.7" font-size="5.1" text-anchor="middle" textLength="6.95" lengthAdjust="spacingAndGlyphs">5°E</text><text x="32.1" y="90.7" font-size="5.1" text-anchor="middle" textLength="9.25" lengthAdjust="spacingAndGlyphs">10°E</text><text x="50.7" y="90.7" font-size="5.1" text-anchor="middle" textLength="9.25" lengthAdjust="spacingAndGlyphs">15°E</text><text x="68.2" y="90.7" font-size="5.1" text-anchor="middle" textLength="9.25" lengthAdjust="spacingAndGlyphs">20°E</text><text x="43.52" y="-10.3" font-size="9.2" text-anchor="middle" textLength="40.86" lengthAdjust="spacingAndGlyphs">E-OBS SON</text><text x="43.52" y="-1.95" font-size="9.2" text-anchor="middle" textLength="35.81" lengthAdjust="spacingAndGlyphs">Mean=2.17</text></g><g transform="translate(16.4 168.2)"><g clip-path="url(#frm)"><g clip-path="url(#land)"><g filter="url(#fD)"><g filter="url(#gb)"><g transform="translate(-8.71 -8.53) scale(8.71 8.53)"><path fill="#880000" d="M0 0h4v1h-4zM0 1h4v1h-4z"/><path fill="#930000" d="M4 0h3v1h-3zM4 1h3v1h-3zM4 2h3v1h-3zM4 3h3v1h-3zM4 4h3v1h-3z"/><path fill="#9d0000" d="M7 0h5v1h-5zM7 1h5v1h-5zM7 2h5v1h-5zM7 3h5v1h-5zM7 4h5v1h-5zM10 5h2v1h-2z"/><path fill="#950000" d="M0 2h4v1h-4zM0 3h4v1h-4zM0 4h4v1h-4zM0 5h4v1h-4zM6 5h1v1h-1zM2 6h2v1h-2zM7 6h1v1h-1zM10 6h2v1h-2zM7 7h5v1h-5zM7 8h5v1h-5zM7 9h5v1h-5zM7 10h5v1h-5zM7 11h5v1h-5z"/><path fill="#bb0000" d="M4 5h1v1h-1z"/><path fill="#b30000" d="M5 5h1v1h-1z"/><path fill="#8c0000" d="M7 5h3v1h-3zM8 6h2v1h-2z"/><path fill="#5e0000" d="M0 6h2v1h-2zM0 7h4v1h-4zM0 8h4v1h-4zM0 9h4v1h-4zM0 10h5v1h-5zM6 10h1v1h-1zM0 11h5v1h-5zM6 11h1v1h-1z"/><path fill="#730000" d="M4 6h2v1h-2z"/><path fill="#6a0000" d="M6 6h1v1h-1z"/><path fill="#400000" d="M4 7h1v1h-1zM4 8h1v1h-1zM4 9h1v1h-1z"/><path fill="#440000" d="M5 7h2v1h-2zM5 8h2v1h-2zM5 9h2v1h-2zM5 10h1v1h-1zM5 11h1v1h-1z"/></g></g><g filter="url(#rb)"><path d="M26.54 45.97 L27.35 42.42 L28.82 38.51 L31.84 37.07 L33.89 36.86 L35.95 36.63 L38.02 36.16 L40.08 35.68 L41.64 35.51 L43.19 35.34 L44.75 35.16 L46.92 34.85 L49.09 34.53 L51.1 34.19 L53.1 33.82 L55.58 32.56" fill="none" stroke="rgb(204,0,0)" stroke-width="5" stroke-linecap="round" stroke-linejoin="round"/><path d="M49.23 43.16 L51.38 44.63 L53.18 47.43 L55.34 50.23 L58.22 52.12 L59.83 53.28 L61.46 54.43 L64.09 56.7 L66.44 58.96 L67.14 62.12 L67.18 65.74 L69.65 69.33 L71.8 72 L73.28 74.67" fill="none" stroke="rgb(42,0,0)" stroke-width="2" stroke-linecap="round" stroke-linejoin="round"/><path d="M52.15 41.49 L53.97 43.38 L55.81 45.26 L57.52 47.11 L59.25 48.96 L61.17 50.35 L63.11 51.72 L64.74 53.08 L66.39 54.43 L69.08 57.56 L70.84 61.6 L72.31 65.64 L73.8 69.22 L75.33 72.79 L76.3 75.02 L77.28 77.24" fill="none" stroke="rgb(234,0,0)" stroke-width="3.5" stroke-linecap="round" stroke-linejoin="round"/><path d="M32.74 45.62 L34.57 46.62 L36.41 47.61 L38.73 50.57 L40.24 52.07 L41.76 53.56 L44.46 57.39 L46.03 59.09 L47.61 60.77 L49.22 62.22 L50.85 63.66 L53.13 66.47 L54.73 70.16 L54.96 74.24" fill="none" stroke="rgb(42,0,0)" stroke-width="2" stroke-linecap="round" stroke-linejoin="round"/><path d="M-1.4 45.27 L0.2 46.35 L1.81 47.42 L3.48 48.26 L5.16 49.09 L6.7 49.76 L8.26 50.43 L9.84 50.97 L11.42 51.51" fill="none" stroke="rgb(191,0,0)" stroke-width="2.5" stroke-linecap="round" stroke-linejoin="round"/><path d="M2.37 78.12 L4.23 78.03 L6.1 77.93 L7.96 77.82 L9.74 78.15 L11.52 78.46 L13.3 78.77 L15.13 78.76 L16.96 78.75 L18.79 78.72 L20.58 78.98 L22.37 79.23 L24.15 79.48 L25.96 79.56 L27.77 79.63 L29.58 79.68" fill="none" stroke="rgb(59,0,0)" stroke-width="2.5" stroke-linecap="round" stroke-linejoin="round"/><path d="M61.69 27.24 L63.77 26.35 L65.83 25.43 L67.75 25.63 L69.67 25.82 L71.15 26.08 L72.64 26.34 L74.13 26.58 L76.11 27.63 L78.11 28.65 L79.85 30.14 L81.61 31.61 L84.31 35.04 L85.26 37.24 L86.22 39.43 L85.47 41.77 L83.76 42.13 L82.05 42.48 L80 42.61 L77.95 42.73 L75.79 43.74" fill="none" stroke="rgb(179,0,0)" stroke-width="2.5" stroke-linecap="round" stroke-linejoin="round"/><path d="M0 0 L4 0 L4 4 L0 8Z" fill="rgb(85,0,0)"/><ellipse cx="34.17" cy="15.67" rx="3" ry="2.5" fill="rgb(140,0,0)"/></g><g style="mix-blend-mode:lighten"><g filter="url(#gb)"><g transform="translate(-8.71 -8.53) scale(8.71 8.53)"><path fill="#002200" d="M0 0h2v1h-2zM0 1h2v1h-2zM4 3h1v1h-1zM4 4h1v1h-1zM0 6h2v1h-2zM4 6h1v1h-1zM8 9h1v1h-1zM7 10h1v1h-1zM7 11h1v1h-1z"/><path fill="#000d00" d="M2 0h1v1h-1zM2 1h1v1h-1zM0 3h2v1h-2zM3 3h1v1h-1zM6 3h3v1h-3zM0 4h2v1h-2zM3 4h1v1h-1zM6 4h2v1h-2zM7 5h2v1h-2zM2 7h2v1h-2zM2 8h2v1h-2zM2 9h2v1h-2z"/><path fill="#000800" d="M3 0h9v1h-9zM3 1h9v1h-9zM2 2h2v1h-2zM6 2h6v1h-6zM2 3h1v1h-1zM9 3h3v1h-3zM2 4h1v1h-1z"/><path fill="#001100" d="M0 2h2v1h-2zM8 4h1v1h-1zM10 4h2v1h-2zM0 5h3v1h-3zM9 5h1v1h-1zM5 6h1v1h-1zM9 6h3v1h-3zM9 7h3v1h-3zM10 8h2v1h-2zM0 9h2v1h-2zM10 9h2v1h-2zM9 10h3v1h-3zM9 11h3v1h-3z"/><path fill="#001500" d="M4 2h2v1h-2zM5 3h1v1h-1zM9 4h1v1h-1zM2 6h2v1h-2zM8 6h1v1h-1zM0 7h2v1h-2zM6 7h1v1h-1zM8 7h1v1h-1zM0 8h2v1h-2zM9 8h1v1h-1zM9 9h1v1h-1zM6 10h1v1h-1zM6 11h1v1h-1z"/><path fill="#001900" d="M5 4h1v1h-1zM6 5h1v1h-1zM10 5h2v1h-2zM4 7h2v1h-2zM4 8h3v1h-3zM8 8h1v1h-1zM4 9h3v1h-3zM0 10h6v1h-6zM8 10h1v1h-1zM0 11h6v1h-6zM8 11h1v1h-1z"/><path fill="#002600" d="M3 5h1v1h-1z"/><path fill="#002a00" d="M4 5h2v1h-2zM6 6h2v1h-2zM7 7h1v1h-1zM7 8h1v1h-1zM7 9h1v1h-1z"/></g></g><g filter="url(#rb)"><path d="M26.54 45.97 L27.35 42.42 L28.82 38.51 L31.84 37.07 L33.89 36.86 L35.95 36.63 L38.02 36.16 L40.08 35.68 L41.64 35.51 L43.19 35.34 L44.75 35.16 L46.92 34.85 L49.09 34.53 L51.1 34.19 L53.1 33.82 L55.58 32.56" fill="none" stroke="rgb(0,126,0)" stroke-width="5" stroke-linecap="round" stroke-linejoin="round"/><path d="M49.23 43.16 L51.38 44.63 L53.18 47.43 L55.34 50.23 L58.22 52.12 L59.83 53.28 L61.46 54.43 L64.09 56.7 L66.44 58.96 L67.14 62.12 L67.18 65.74 L69.65 69.33 L71.8 72 L73.28 74.67" fill="none" stroke="rgb(0,34,0)" stroke-width="2" stroke-linecap="round" stroke-linejoin="round"/><path d="M52.15 41.49 L53.97 43.38 L55.81 45.26 L57.52 47.11 L59.25 48.96 L61.17 50.35 L63.11 51.72 L64.74 53.08 L66.39 54.43 L69.08 57.56 L70.84 61.6 L72.31 65.64 L73.8 69.22 L75.33 72.79 L76.3 75.02 L77.28 77.24" fill="none" stroke="rgb(0,84,0)" stroke-width="3.5" stroke-linecap="round" stroke-linejoin="round"/><path d="M32.74 45.62 L34.57 46.62 L36.41 47.61 L38.73 50.57 L40.24 52.07 L41.76 53.56 L44.46 57.39 L46.03 59.09 L47.61 60.77 L49.22 62.22 L50.85 63.66 L53.13 66.47 L54.73 70.16 L54.96 74.24" fill="none" stroke="rgb(0,34,0)" stroke-width="2" stroke-linecap="round" stroke-linejoin="round"/><path d="M-1.4 45.27 L0.2 46.35 L1.81 47.42 L3.48 48.26 L5.16 49.09 L6.7 49.76 L8.26 50.43 L9.84 50.97 L11.42 51.51" fill="none" stroke="rgb(0,42,0)" stroke-width="2.5" stroke-linecap="round" stroke-linejoin="round"/><path d="M2.37 78.12 L4.23 78.03 L6.1 77.93 L7.96 77.82 L9.74 78.15 L11.52 78.46 L13.3 78.77 L15.13 78.76 L16.96 78.75 L18.79 78.72 L20.58 78.98 L22.37 79.23 L24.15 79.48 L25.96 79.56 L27.77 79.63 L29.58 79.68" fill="none" stroke="rgb(0,34,0)" stroke-width="2.5" stroke-linecap="round" stroke-linejoin="round"/><path d="M61.69 27.24 L63.77 26.35 L65.83 25.43 L67.75 25.63 L69.67 25.82 L71.15 26.08 L72.64 26.34 L74.13 26.58 L76.11 27.63 L78.11 28.65 L79.85 30.14 L81.61 31.61 L84.31 35.04 L85.26 37.24 L86.22 39.43 L85.47 41.77 L83.76 42.13 L82.05 42.48 L80 42.61 L77.95 42.73 L75.79 43.74" fill="none" stroke="rgb(0,59,0)" stroke-width="2.5" stroke-linecap="round" stroke-linejoin="round"/><path d="M0 0 L4 0 L4 4 L0 8Z" fill="rgb(0,76,0)"/><ellipse cx="34.17" cy="15.67" rx="3" ry="2.5" fill="rgb(0,84,0)"/></g></g></g></g><ellipse cx="7.8" cy="84.3" rx="3.3" ry="1.7" fill="#fff"/><use href="#grid" fill="none" stroke="#000" stroke-opacity="0.22" stroke-width="0.45"/><use href="#coast" fill="none" stroke="#000" stroke-width="0.5"/><use href="#bord" fill="none" stroke="#111" stroke-width="0.5"/></g><rect x="0" y="0" width="87.05" height="85.25" fill="none" stroke="#999" stroke-width="0.8"/><text x="-1.8" y="15.1" font-size="5.1" text-anchor="end" textLength="9.76" lengthAdjust="spacingAndGlyphs">50°N</text><text x="-1.8" y="38.4" font-size="5.1" text-anchor="end" textLength="9.76" lengthAdjust="spacingAndGlyphs">45°N</text><text x="-1.8" y="62.4" font-size="5.1" text-anchor="end" textLength="9.76" lengthAdjust="spacingAndGlyphs">40°N</text><text x="-1.8" y="84.9" font-size="5.1" text-anchor="end" textLength="9.76" lengthAdjust="spacingAndGlyphs">35°N</text><text x="88.6" y="22.7" font-size="5.1" textLength="9.76" lengthAdjust="spacingAndGlyphs">50°N</text><text x="88.6" y="45.7" font-size="5.1" textLength="9.76" lengthAdjust="spacingAndGlyphs">45°N</text><text x="88.6" y="68.3" font-size="5.1" textLength="9.76" lengthAdjust="spacingAndGlyphs">40°N</text><text x="13" y="90.7" font-size="5.1" text-anchor="middle" textLength="6.95" lengthAdjust="spacingAndGlyphs">5°E</text><text x="32.1" y="90.7" font-size="5.1" text-anchor="middle" textLength="9.25" lengthAdjust="spacingAndGlyphs">10°E</text><text x="50.7" y="90.7" font-size="5.1" text-anchor="middle" textLength="9.25" lengthAdjust="spacingAndGlyphs">15°E</text><text x="68.2" y="90.7" font-size="5.1" text-anchor="middle" textLength="9.25" lengthAdjust="spacingAndGlyphs">20°E</text><text x="43.52" y="-10.3" font-size="9.2" text-anchor="middle" textLength="54.11" lengthAdjust="spacingAndGlyphs">REMO2015 DJF</text><text x="43.52" y="-1.95" font-size="9.2" text-anchor="middle" textLength="77.05" lengthAdjust="spacingAndGlyphs">Mean=0.29 RMSE=1.23</text></g><g transform="translate(143.2 168.2)"><g clip-path="url(#frm)"><g clip-path="url(#land)"><g filter="url(#fD)"><g filter="url(#gb)"><g transform="translate(-8.71 -8.53) scale(8.71 8.53)"><path fill="#880000" d="M0 0h7v1h-7zM0 1h7v1h-7zM4 2h3v1h-3zM4 3h3v1h-3zM4 4h3v1h-3z"/><path fill="#8e0000" d="M7 0h5v1h-5zM7 1h5v1h-5zM7 2h5v1h-5zM7 3h5v1h-5zM7 4h5v1h-5z"/><path fill="#8c0000" d="M0 2h4v1h-4zM0 3h4v1h-4zM0 4h4v1h-4zM0 5h4v1h-4zM2 6h2v1h-2z"/><path fill="#a20000" d="M4 5h1v1h-1zM10 5h2v1h-2z"/><path fill="#a60000" d="M5 5h1v1h-1z"/><path fill="#900000" d="M6 5h1v1h-1zM7 6h1v1h-1zM10 6h2v1h-2zM7 7h5v1h-5zM7 8h1v1h-1zM9 8h3v1h-3zM9 9h3v1h-3zM9 10h3v1h-3zM9 11h3v1h-3z"/><path fill="#840000" d="M7 5h3v1h-3zM8 6h2v1h-2z"/><path fill="#6e0000" d="M0 6h2v1h-2zM0 7h4v1h-4zM0 8h4v1h-4zM0 9h4v1h-4z"/><path fill="#730000" d="M4 6h2v1h-2zM6 10h1v1h-1zM6 11h1v1h-1z"/><path fill="#660000" d="M6 6h1v1h-1zM5 7h2v1h-2zM5 8h2v1h-2zM5 9h2v1h-2zM5 10h1v1h-1zM5 11h1v1h-1z"/><path fill="#5e0000" d="M4 7h1v1h-1zM4 8h1v1h-1zM4 9h1v1h-1z"/><path fill="#950000" d="M8 8h1v1h-1zM7 9h2v1h-2zM7 10h2v1h-2zM7 11h2v1h-2z"/><path fill="#6a0000" d="M0 10h5v1h-5zM0 11h5v1h-5z"/></g></g><g filter="url(#rb)"><path d="M26.54 45.97 L27.35 42.42 L28.82 38.51 L31.84 37.07 L33.89 36.86 L35.95 36.63 L38.02 36.16 L40.08 35.68 L41.64 35.51 L43.19 35.34 L44.75 35.16 L46.92 34.85 L49.09 34.53 L51.1 34.19 L53.1 33.82 L55.58 32.56" fill="none" stroke="rgb(187,0,0)" stroke-width="5" stroke-linecap="round" stroke-linejoin="round"/><path d="M49.23 43.16 L51.38 44.63 L53.18 47.43 L55.34 50.23 L58.22 52.12 L59.83 53.28 L61.46 54.43 L64.09 56.7 L66.44 58.96 L67.14 62.12 L67.18 65.74 L69.65 69.33 L71.8 72 L73.28 74.67" fill="none" stroke="rgb(47,0,0)" stroke-width="2.5" stroke-linecap="round" stroke-linejoin="round"/><path d="M52.15 41.49 L53.97 43.38 L55.81 45.26 L57.52 47.11 L59.25 48.96 L61.17 50.35 L63.11 51.72 L64.74 53.08 L66.39 54.43 L69.08 57.56 L70.84 61.6 L72.31 65.64 L73.8 69.22 L75.33 72.79 L76.3 75.02 L77.28 77.24" fill="none" stroke="rgb(212,0,0)" stroke-width="3.5" stroke-linecap="round" stroke-linejoin="round"/><path d="M31.07 46.1 L33.03 45.88 L34.99 45.64 L36.52 46.48 L38.05 47.32 L39.74 48.38 L41.43 49.44 L42.95 50.92 L44.48 52.4 L46.9 55.74 L49.38 59.05 L50.97 60.94 L52.58 62.83 L54.52 66.07 L55.44 69.72 L55.69 73.36" fill="none" stroke="rgb(59,0,0)" stroke-width="2.5" stroke-linecap="round" stroke-linejoin="round"/><path d="M-1.4 45.27 L0.2 46.35 L1.81 47.42 L3.48 48.26 L5.16 49.09 L6.7 49.76 L8.26 50.43 L9.84 50.97 L11.42 51.51" fill="none" stroke="rgb(212,0,0)" stroke-width="2.5" stroke-linecap="round" stroke-linejoin="round"/><path d="M61.69 27.24 L63.77 26.35 L65.83 25.43 L67.75 25.63 L69.67 25.82 L71.15 26.08 L72.64 26.34 L74.13 26.58 L76.11 27.63 L78.11 28.65 L79.85 30.14 L81.61 31.61 L84.31 35.04 L85.26 37.24 L86.22 39.43 L85.47 41.77 L83.76 42.13 L82.05 42.48 L80 42.61 L77.95 42.73 L75.79 43.74" fill="none" stroke="rgb(195,0,0)" stroke-width="3" stroke-linecap="round" stroke-linejoin="round"/><ellipse cx="34.17" cy="15.67" rx="3" ry="2.5" fill="rgb(128,0,0)"/></g><g style="mix-blend-mode:lighten"><g filter="url(#gb)"><g transform="translate(-8.71 -8.53) scale(8.71 8.53)"><path fill="#001500" d="M0 0h2v1h-2zM0 1h2v1h-2zM4 2h2v1h-2zM4 3h2v1h-2zM5 4h1v1h-1zM9 5h1v1h-1zM8 6h1v1h-1zM4 7h1v1h-1zM8 7h1v1h-1zM5 8h2v1h-2zM9 8h3v1h-3zM5 9h1v1h-1zM10 9h2v1h-2zM0 10h4v1h-4zM9 10h3v1h-3zM0 11h4v1h-4zM9 11h3v1h-3z"/><path fill="#000800" d="M2 0h10v1h-10zM2 1h10v1h-10zM2 2h1v1h-1zM7 2h5v1h-5zM2 3h1v1h-1zM8 3h2v1h-2z"/><path fill="#000d00" d="M0 2h2v1h-2zM3 2h1v1h-1zM6 2h1v1h-1zM0 3h2v1h-2zM3 3h1v1h-1zM6 3h2v1h-2zM10 3h2v1h-2zM0 4h4v1h-4zM6 4h2v1h-2zM0 5h2v1h-2zM7 5h2v1h-2zM2 7h2v1h-2zM2 8h2v1h-2zM2 9h2v1h-2z"/><path fill="#001900" d="M4 4h1v1h-1zM9 4h3v1h-3zM4 6h1v1h-1zM5 7h1v1h-1zM8 8h1v1h-1zM6 9h1v1h-1zM9 9h1v1h-1zM8 10h1v1h-1zM8 11h1v1h-1z"/><path fill="#001100" d="M8 4h1v1h-1zM2 5h1v1h-1zM2 6h2v1h-2zM5 6h1v1h-1zM9 6h3v1h-3zM0 7h2v1h-2zM6 7h1v1h-1zM9 7h3v1h-3zM0 8h2v1h-2zM4 8h1v1h-1zM0 9h2v1h-2zM4 9h1v1h-1zM4 10h3v1h-3zM4 11h3v1h-3z"/><path fill="#002600" d="M3 5h1v1h-1zM7 7h1v1h-1z"/><path fill="#002a00" d="M4 5h2v1h-2zM6 6h2v1h-2zM7 8h1v1h-1zM7 9h1v1h-1z"/><path fill="#001d00" d="M6 5h1v1h-1zM10 5h2v1h-2z"/><path fill="#002200" d="M0 6h2v1h-2zM8 9h1v1h-1zM7 10h1v1h-1zM7 11h1v1h-1z"/></g></g><g filter="url(#rb)"><path d="M26.54 45.97 L27.35 42.42 L28.82 38.51 L31.84 37.07 L33.89 36.86 L35.95 36.63 L38.02 36.16 L40.08 35.68 L41.64 35.51 L43.19 35.34 L44.75 35.16 L46.92 34.85 L49.09 34.53 L51.1 34.19 L53.1 33.82 L55.58 32.56" fill="none" stroke="rgb(0,126,0)" stroke-width="5" stroke-linecap="round" stroke-linejoin="round"/><path d="M49.23 43.16 L51.38 44.63 L53.18 47.43 L55.34 50.23 L58.22 52.12 L59.83 53.28 L61.46 54.43 L64.09 56.7 L66.44 58.96 L67.14 62.12 L67.18 65.74 L69.65 69.33 L71.8 72 L73.28 74.67" fill="none" stroke="rgb(0,42,0)" stroke-width="2.5" stroke-linecap="round" stroke-linejoin="round"/><path d="M52.15 41.49 L53.97 43.38 L55.81 45.26 L57.52 47.11 L59.25 48.96 L61.17 50.35 L63.11 51.72 L64.74 53.08 L66.39 54.43 L69.08 57.56 L70.84 61.6 L72.31 65.64 L73.8 69.22 L75.33 72.79 L76.3 75.02 L77.28 77.24" fill="none" stroke="rgb(0,84,0)" stroke-width="3.5" stroke-linecap="round" stroke-linejoin="round"/><path d="M31.07 46.1 L33.03 45.88 L34.99 45.64 L36.52 46.48 L38.05 47.32 L39.74 48.38 L41.43 49.44 L42.95 50.92 L44.48 52.4 L46.9 55.74 L49.38 59.05 L50.97 60.94 L52.58 62.83 L54.52 66.07 L55.44 69.72 L55.69 73.36" fill="none" stroke="rgb(0,50,0)" stroke-width="2.5" stroke-linecap="round" stroke-linejoin="round"/><path d="M-1.4 45.27 L0.2 46.35 L1.81 47.42 L3.48 48.26 L5.16 49.09 L6.7 49.76 L8.26 50.43 L9.84 50.97 L11.42 51.51" fill="none" stroke="rgb(0,63,0)" stroke-width="2.5" stroke-linecap="round" stroke-linejoin="round"/><path d="M61.69 27.24 L63.77 26.35 L65.83 25.43 L67.75 25.63 L69.67 25.82 L71.15 26.08 L72.64 26.34 L74.13 26.58 L76.11 27.63 L78.11 28.65 L79.85 30.14 L81.61 31.61 L84.31 35.04 L85.26 37.24 L86.22 39.43 L85.47 41.77 L83.76 42.13 L82.05 42.48 L80 42.61 L77.95 42.73 L75.79 43.74" fill="none" stroke="rgb(0,84,0)" stroke-width="3" stroke-linecap="round" stroke-linejoin="round"/><ellipse cx="34.17" cy="15.67" rx="3" ry="2.5" fill="rgb(0,67,0)"/></g></g></g></g><ellipse cx="7.8" cy="84.3" rx="3.3" ry="1.7" fill="#fff"/><use href="#grid" fill="none" stroke="#000" stroke-opacity="0.22" stroke-width="0.45"/><use href="#coast" fill="none" stroke="#000" stroke-width="0.5"/><use href="#bord" fill="none" stroke="#111" stroke-width="0.5"/></g><rect x="0" y="0" width="87.05" height="85.25" fill="none" stroke="#999" stroke-width="0.8"/><text x="-1.8" y="15.1" font-size="5.1" text-anchor="end" textLength="9.76" lengthAdjust="spacingAndGlyphs">50°N</text><text x="-1.8" y="38.4" font-size="5.1" text-anchor="end" textLength="9.76" lengthAdjust="spacingAndGlyphs">45°N</text><text x="-1.8" y="62.4" font-size="5.1" text-anchor="end" textLength="9.76" lengthAdjust="spacingAndGlyphs">40°N</text><text x="-1.8" y="84.9" font-size="5.1" text-anchor="end" textLength="9.76" lengthAdjust="spacingAndGlyphs">35°N</text><text x="88.6" y="22.7" font-size="5.1" textLength="9.76" lengthAdjust="spacingAndGlyphs">50°N</text><text x="88.6" y="45.7" font-size="5.1" textLength="9.76" lengthAdjust="spacingAndGlyphs">45°N</text><text x="88.6" y="68.3" font-size="5.1" textLength="9.76" lengthAdjust="spacingAndGlyphs">40°N</text><text x="13" y="90.7" font-size="5.1" text-anchor="middle" textLength="6.95" lengthAdjust="spacingAndGlyphs">5°E</text><text x="32.1" y="90.7" font-size="5.1" text-anchor="middle" textLength="9.25" lengthAdjust="spacingAndGlyphs">10°E</text><text x="50.7" y="90.7" font-size="5.1" text-anchor="middle" textLength="9.25" lengthAdjust="spacingAndGlyphs">15°E</text><text x="68.2" y="90.7" font-size="5.1" text-anchor="middle" textLength="9.25" lengthAdjust="spacingAndGlyphs">20°E</text><text x="43.52" y="-10.3" font-size="9.2" text-anchor="middle" textLength="60.74" lengthAdjust="spacingAndGlyphs">REMO2015 MAM</text><text x="43.52" y="-1.95" font-size="9.2" text-anchor="middle" textLength="77.05" lengthAdjust="spacingAndGlyphs">Mean=0.25 RMSE=0.89</text></g><g transform="translate(270.15 168.2)"><g clip-path="url(#frm)"><g clip-path="url(#land)"><g filter="url(#fD)"><g filter="url(#gb)"><g transform="translate(-8.71 -8.53) scale(8.71 8.53)"><path fill="#800000" d="M0 0h4v1h-4zM0 1h4v1h-4zM4 5h2v1h-2zM0 6h2v1h-2zM0 7h5v1h-5zM0 8h5v1h-5zM0 9h5v1h-5zM0 10h5v1h-5zM0 11h5v1h-5z"/><path fill="#880000" d="M4 0h8v1h-8zM4 1h8v1h-8zM4 2h8v1h-8zM4 3h8v1h-8zM4 4h8v1h-8zM6 10h1v1h-1zM6 11h1v1h-1z"/><path fill="#7b0000" d="M0 2h4v1h-4zM0 3h4v1h-4zM0 4h4v1h-4zM0 5h4v1h-4zM2 6h2v1h-2z"/><path fill="#740000" d="M6 5h1v1h-1z"/><path fill="#660000" d="M7 5h3v1h-3zM8 6h2v1h-2z"/><path fill="#900000" d="M10 5h2v1h-2zM5 7h2v1h-2zM5 8h2v1h-2zM5 9h2v1h-2zM5 10h1v1h-1zM5 11h1v1h-1z"/><path fill="#840000" d="M4 6h2v1h-2z"/><path fill="#6e0000" d="M6 6h1v1h-1z"/><path fill="#950000" d="M7 6h1v1h-1zM10 6h2v1h-2zM7 7h5v1h-5zM7 8h1v1h-1zM9 8h3v1h-3zM9 9h3v1h-3zM9 10h3v1h-3zM9 11h3v1h-3z"/><path fill="#a60000" d="M8 8h1v1h-1zM7 9h2v1h-2zM7 10h2v1h-2zM7 11h2v1h-2z"/></g></g><g filter="url(#rb)"><path d="M26.73 35.47 L28.38 34.79 L30.03 34.1 L31.65 33.54 L33.26 32.98 L34.86 32.41 L36.41 32.28 L37.96 32.13 L39.5 31.98 L41.04 31.82 L42.57 31.65 L44.11 31.47 L45.63 31.43 L47.15 31.39 L48.67 31.33 L50.18 31.27 L51.7 31.19 L53.21 31.11" fill="none" stroke="rgb(89,0,0)" stroke-width="4" stroke-linecap="round" stroke-linejoin="round"/><path d="M28.82 38.51 L31.84 37.07 L33.89 36.86 L35.95 36.63 L38.02 36.16 L40.08 35.68 L41.64 35.51 L43.19 35.34 L44.75 35.16 L46.92 34.85 L49.09 34.53 L51.1 34.19 L53.1 33.82" fill="none" stroke="rgb(115,0,0)" stroke-width="6.5" stroke-linecap="round" stroke-linejoin="round"/><path d="M26.54 45.97 L27.35 42.42 L28.82 38.51 L31.84 37.07 L33.89 36.86 L35.95 36.63 L38.02 36.16 L40.08 35.68" fill="none" stroke="rgb(128,0,0)" stroke-width="5" stroke-linecap="round" stroke-linejoin="round"/><path d="M60.81 25.87 L62.49 25.74 L64.16 25.59 L65.83 25.43 L67.9 25.86 L69.97 26.27 L72.05 26.43 L74.13 26.58 L76.09 27.17 L78.06 27.75 L79.9 28.55 L81.75 29.33" fill="none" stroke="rgb(102,0,0)" stroke-width="4" stroke-linecap="round" stroke-linejoin="round"/><path d="M52.15 41.49 L53.97 43.38 L55.81 45.26 L57.52 47.11 L59.25 48.96 L61.17 50.35 L63.11 51.72 L64.74 53.08 L66.39 54.43 L69.08 57.56 L70.84 61.6 L72.31 65.64 L73.8 69.22 L75.33 72.79 L76.3 75.02 L77.28 77.24" fill="none" stroke="rgb(162,0,0)" stroke-width="3" stroke-linecap="round" stroke-linejoin="round"/><path d="M-1.4 45.27 L0.2 46.35 L1.81 47.42 L3.48 48.26 L5.16 49.09 L6.7 49.76 L8.26 50.43 L9.84 50.97 L11.42 51.51" fill="none" stroke="rgb(204,0,0)" stroke-width="2" stroke-linecap="round" stroke-linejoin="round"/><path d="M70.97 66.58 L72.79 70.16 L74.64 73.27 L76.19 76.83 L77.4 79.96" fill="none" stroke="rgb(179,0,0)" stroke-width="3" stroke-linecap="round" stroke-linejoin="round"/><path d="M49.23 43.16 L51.38 44.63 L53.18 47.43 L55.34 50.23 L58.22 52.12 L59.83 53.28 L61.46 54.43" fill="none" stroke="rgb(195,0,0)" stroke-width="2" stroke-linecap="round" stroke-linejoin="round"/></g><g style="mix-blend-mode:lighten"><g filter="url(#gb)"><g transform="translate(-8.71 -8.53) scale(8.71 8.53)"><path fill="#000d00" d="M0 0h2v1h-2zM0 1h2v1h-2zM4 2h2v1h-2zM4 3h2v1h-2zM8 3h1v1h-1zM10 3h2v1h-2zM3 4h1v1h-1zM2 6h2v1h-2zM0 7h2v1h-2zM0 8h2v1h-2zM5 9h1v1h-1zM5 10h2v1h-2zM5 11h2v1h-2z"/><path fill="#000a00" d="M2 0h1v1h-1zM4 0h2v1h-2zM2 1h1v1h-1zM4 1h2v1h-2zM0 2h2v1h-2zM3 2h1v1h-1zM0 3h4v1h-4zM6 3h1v1h-1zM0 4h3v1h-3z"/><path fill="#000700" d="M3 0h1v1h-1zM6 0h1v1h-1zM3 1h1v1h-1zM6 1h1v1h-1zM2 2h1v1h-1zM6 2h1v1h-1z"/><path fill="#000800" d="M7 0h5v1h-5zM7 1h5v1h-5zM7 2h5v1h-5zM9 3h1v1h-1zM2 7h3v1h-3zM2 8h3v1h-3zM0 9h5v1h-5zM0 10h5v1h-5zM0 11h5v1h-5z"/><path fill="#001100" d="M7 3h1v1h-1zM4 4h3v1h-3zM0 5h2v1h-2zM7 5h2v1h-2zM4 6h2v1h-2zM9 6h3v1h-3zM5 7h2v1h-2zM9 7h3v1h-3zM5 8h2v1h-2zM10 8h2v1h-2zM6 9h1v1h-1zM10 9h2v1h-2zM10 10h2v1h-2zM10 11h2v1h-2z"/><path fill="#001500" d="M7 4h1v1h-1zM2 5h1v1h-1zM9 5h1v1h-1zM9 8h1v1h-1zM9 10h1v1h-1zM9 11h1v1h-1z"/><path fill="#001d00" d="M8 4h1v1h-1zM10 5h2v1h-2zM8 8h1v1h-1zM8 10h1v1h-1zM8 11h1v1h-1z"/><path fill="#002200" d="M9 4h1v1h-1zM0 6h2v1h-2zM6 6h2v1h-2zM7 7h1v1h-1zM8 9h1v1h-1zM7 10h1v1h-1zM7 11h1v1h-1z"/><path fill="#001900" d="M10 4h2v1h-2zM8 6h1v1h-1zM8 7h1v1h-1zM9 9h1v1h-1z"/><path fill="#002600" d="M3 5h1v1h-1zM7 8h1v1h-1zM7 9h1v1h-1z"/><path fill="#003200" d="M4 5h2v1h-2z"/><path fill="#002a00" d="M6 5h1v1h-1z"/></g></g><g filter="url(#rb)"><path d="M26.73 35.47 L28.38 34.79 L30.03 34.1 L31.65 33.54 L33.26 32.98 L34.86 32.41 L36.41 32.28 L37.96 32.13 L39.5 31.98 L41.04 31.82 L42.57 31.65 L44.11 31.47 L45.63 31.43 L47.15 31.39 L48.67 31.33 L50.18 31.27 L51.7 31.19 L53.21 31.11" fill="none" stroke="rgb(0,63,0)" stroke-width="4" stroke-linecap="round" stroke-linejoin="round"/><path d="M28.82 38.51 L31.84 37.07 L33.89 36.86 L35.95 36.63 L38.02 36.16 L40.08 35.68 L41.64 35.51 L43.19 35.34 L44.75 35.16 L46.92 34.85 L49.09 34.53 L51.1 34.19 L53.1 33.82" fill="none" stroke="rgb(0,252,0)" stroke-width="6.5" stroke-linecap="round" stroke-linejoin="round"/><path d="M26.54 45.97 L27.35 42.42 L28.82 38.51 L31.84 37.07 L33.89 36.86 L35.95 36.63 L38.02 36.16 L40.08 35.68" fill="none" stroke="rgb(0,126,0)" stroke-width="5" stroke-linecap="round" stroke-linejoin="round"/><path d="M60.81 25.87 L62.49 25.74 L64.16 25.59 L65.83 25.43 L67.9 25.86 L69.97 26.27 L72.05 26.43 L74.13 26.58 L76.09 27.17 L78.06 27.75 L79.9 28.55 L81.75 29.33" fill="none" stroke="rgb(0,126,0)" stroke-width="4" stroke-linecap="round" stroke-linejoin="round"/><path d="M52.15 41.49 L53.97 43.38 L55.81 45.26 L57.52 47.11 L59.25 48.96 L61.17 50.35 L63.11 51.72 L64.74 53.08 L66.39 54.43 L69.08 57.56 L70.84 61.6 L72.31 65.64 L73.8 69.22 L75.33 72.79 L76.3 75.02 L77.28 77.24" fill="none" stroke="rgb(0,76,0)" stroke-width="3" stroke-linecap="round" stroke-linejoin="round"/><path d="M-1.4 45.27 L0.2 46.35 L1.81 47.42 L3.48 48.26 L5.16 49.09 L6.7 49.76 L8.26 50.43 L9.84 50.97 L11.42 51.51" fill="none" stroke="rgb(0,42,0)" stroke-width="2" stroke-linecap="round" stroke-linejoin="round"/><path d="M70.97 66.58 L72.79 70.16 L74.64 73.27 L76.19 76.83 L77.4 79.96" fill="none" stroke="rgb(0,50,0)" stroke-width="3" stroke-linecap="round" stroke-linejoin="round"/><path d="M49.23 43.16 L51.38 44.63 L53.18 47.43 L55.34 50.23 L58.22 52.12 L59.83 53.28 L61.46 54.43" fill="none" stroke="rgb(0,63,0)" stroke-width="2" stroke-linecap="round" stroke-linejoin="round"/></g></g></g></g><ellipse cx="7.8" cy="84.3" rx="3.3" ry="1.7" fill="#fff"/><use href="#grid" fill="none" stroke="#000" stroke-opacity="0.22" stroke-width="0.45"/><use href="#coast" fill="none" stroke="#000" stroke-width="0.5"/><use href="#bord" fill="none" stroke="#111" stroke-width="0.5"/></g><rect x="0" y="0" width="87.05" height="85.25" fill="none" stroke="#999" stroke-width="0.8"/><text x="-1.8" y="15.1" font-size="5.1" text-anchor="end" textLength="9.76" lengthAdjust="spacingAndGlyphs">50°N</text><text x="-1.8" y="38.4" font-size="5.1" text-anchor="end" textLength="9.76" lengthAdjust="spacingAndGlyphs">45°N</text><text x="-1.8" y="62.4" font-size="5.1" text-anchor="end" textLength="9.76" lengthAdjust="spacingAndGlyphs">40°N</text><text x="-1.8" y="84.9" font-size="5.1" text-anchor="end" textLength="9.76" lengthAdjust="spacingAndGlyphs">35°N</text><text x="88.6" y="22.7" font-size="5.1" textLength="9.76" lengthAdjust="spacingAndGlyphs">50°N</text><text x="88.6" y="45.7" font-size="5.1" textLength="9.76" lengthAdjust="spacingAndGlyphs">45°N</text><text x="88.6" y="68.3" font-size="5.1" textLength="9.76" lengthAdjust="spacingAndGlyphs">40°N</text><text x="13" y="90.7" font-size="5.1" text-anchor="middle" textLength="6.95" lengthAdjust="spacingAndGlyphs">5°E</text><text x="32.1" y="90.7" font-size="5.1" text-anchor="middle" textLength="9.25" lengthAdjust="spacingAndGlyphs">10°E</text><text x="50.7" y="90.7" font-size="5.1" text-anchor="middle" textLength="9.25" lengthAdjust="spacingAndGlyphs">15°E</text><text x="68.2" y="90.7" font-size="5.1" text-anchor="middle" textLength="9.25" lengthAdjust="spacingAndGlyphs">20°E</text><text x="43.52" y="-10.3" font-size="9.2" text-anchor="middle" textLength="52.79" lengthAdjust="spacingAndGlyphs">REMO2015 JJA</text><text x="43.52" y="-1.95" font-size="9.2" text-anchor="middle" textLength="77.05" lengthAdjust="spacingAndGlyphs">Mean=0.04 RMSE=0.94</text></g><g transform="translate(396.85 168.2)"><g clip-path="url(#frm)"><g clip-path="url(#land)"><g filter="url(#fD)"><g filter="url(#gb)"><g transform="translate(-8.71 -8.53) scale(8.71 8.53)"><path fill="#6a0000" d="M0 0h4v1h-4zM0 1h4v1h-4z"/><path fill="#770000" d="M4 0h3v1h-3zM4 1h3v1h-3zM4 2h3v1h-3zM4 3h3v1h-3zM4 4h3v1h-3z"/><path fill="#840000" d="M7 0h5v1h-5zM7 1h5v1h-5zM7 2h5v1h-5zM7 3h5v1h-5zM7 4h5v1h-5z"/><path fill="#660000" d="M0 2h4v1h-4zM0 3h4v1h-4zM0 4h4v1h-4zM0 5h4v1h-4zM2 6h2v1h-2z"/><path fill="#900000" d="M4 5h1v1h-1zM10 5h2v1h-2z"/><path fill="#880000" d="M5 5h1v1h-1zM8 8h1v1h-1zM7 9h2v1h-2zM7 10h2v1h-2zM7 11h2v1h-2z"/><path fill="#6e0000" d="M6 5h1v1h-1zM7 6h1v1h-1zM10 6h2v1h-2zM7 7h5v1h-5zM7 8h1v1h-1zM9 8h3v1h-3zM9 9h3v1h-3zM9 10h3v1h-3zM9 11h3v1h-3z"/><path fill="#7b0000" d="M7 5h3v1h-3zM8 6h2v1h-2z"/><path fill="#5e0000" d="M0 6h2v1h-2zM4 6h2v1h-2zM0 7h4v1h-4zM0 8h4v1h-4zM0 9h4v1h-4zM0 10h5v1h-5zM6 10h1v1h-1zM0 11h5v1h-5zM6 11h1v1h-1z"/><path fill="#400000" d="M6 6h1v1h-1z"/><path fill="#4c0000" d="M4 7h1v1h-1zM4 8h1v1h-1zM4 9h1v1h-1z"/><path fill="#480000" d="M5 7h2v1h-2zM5 8h2v1h-2zM5 9h2v1h-2zM5 10h1v1h-1zM5 11h1v1h-1z"/></g></g><g filter="url(#rb)"><path d="M26.54 45.97 L27.35 42.42 L28.82 38.51 L31.84 37.07 L33.89 36.86 L35.95 36.63 L38.02 36.16 L40.08 35.68 L41.64 35.51 L43.19 35.34 L44.75 35.16 L46.92 34.85 L49.09 34.53 L51.1 34.19 L53.1 33.82 L55.58 32.56" fill="none" stroke="rgb(153,0,0)" stroke-width="5" stroke-linecap="round" stroke-linejoin="round"/><path d="M49.23 43.16 L51.38 44.63 L53.18 47.43 L55.34 50.23 L58.22 52.12 L59.83 53.28 L61.46 54.43 L64.09 56.7 L66.44 58.96 L67.14 62.12 L67.18 65.74 L69.65 69.33 L71.8 72 L73.28 74.67" fill="none" stroke="rgb(34,0,0)" stroke-width="2.5" stroke-linecap="round" stroke-linejoin="round"/><path d="M52.15 41.49 L53.97 43.38 L55.81 45.26 L57.52 47.11 L59.25 48.96 L61.17 50.35 L63.11 51.72 L64.74 53.08 L66.39 54.43 L69.08 57.56 L70.84 61.6 L72.31 65.64 L73.8 69.22 L75.33 72.79 L76.3 75.02 L77.28 77.24" fill="none" stroke="rgb(149,0,0)" stroke-width="3" stroke-linecap="round" stroke-linejoin="round"/><path d="M32.74 45.62 L34.57 46.62 L36.41 47.61 L38.73 50.57 L40.24 52.07 L41.76 53.56 L44.46 57.39 L46.03 59.09 L47.61 60.77 L49.22 62.22 L50.85 63.66 L53.13 66.47 L54.73 70.16 L54.96 74.24" fill="none" stroke="rgb(42,0,0)" stroke-width="2.5" stroke-linecap="round" stroke-linejoin="round"/><path d="M28.72 46.72 L31.76 45.73 L33.35 45.92 L34.94 46.09 L37.05 47.68" fill="none" stroke="rgb(42,0,0)" stroke-width="3" stroke-linecap="round" stroke-linejoin="round"/><ellipse cx="17.07" cy="44.03" rx="3" ry="2.5" fill="rgb(51,0,0)"/><path d="M0 0 L4 0 L4 4 L0 8Z" fill="rgb(42,0,0)"/><ellipse cx="34.17" cy="15.67" rx="3" ry="2.5" fill="rgb(128,0,0)"/></g><g style="mix-blend-mode:lighten"><g filter="url(#gb)"><g transform="translate(-8.71 -8.53) scale(8.71 8.53)"><path fill="#001200" d="M0 0h2v1h-2zM0 1h2v1h-2zM4 4h1v1h-1zM9 4h1v1h-1zM3 5h1v1h-1zM10 5h2v1h-2zM4 7h1v1h-1zM4 8h1v1h-1zM6 8h1v1h-1zM8 8h1v1h-1zM4 9h2v1h-2zM5 10h1v1h-1zM8 10h1v1h-1zM5 11h1v1h-1zM8 11h1v1h-1z"/><path fill="#000800" d="M2 0h1v1h-1zM2 1h1v1h-1zM0 3h2v1h-2zM0 4h2v1h-2zM3 4h1v1h-1z"/><path fill="#000600" d="M3 0h1v1h-1zM6 0h6v1h-6zM3 1h1v1h-1zM6 1h6v1h-6zM2 2h2v1h-2zM7 2h5v1h-5zM2 3h2v1h-2zM8 3h4v1h-4zM2 4h1v1h-1z"/><path fill="#000900" d="M4 0h2v1h-2zM4 1h2v1h-2zM6 2h1v1h-1zM6 3h2v1h-2zM7 4h1v1h-1zM7 5h2v1h-2z"/><path fill="#000a00" d="M0 2h2v1h-2zM0 5h3v1h-3z"/><path fill="#000c00" d="M4 2h2v1h-2zM5 3h1v1h-1zM6 4h1v1h-1zM8 4h1v1h-1zM9 5h1v1h-1zM2 6h2v1h-2zM9 6h3v1h-3zM2 7h2v1h-2zM9 7h3v1h-3zM2 8h2v1h-2zM10 8h2v1h-2zM0 9h4v1h-4zM10 9h2v1h-2zM9 10h3v1h-3zM9 11h3v1h-3z"/><path fill="#000f00" d="M4 3h1v1h-1zM5 4h1v1h-1zM10 4h2v1h-2zM5 6h1v1h-1zM8 6h1v1h-1zM0 7h2v1h-2zM6 7h1v1h-1zM8 7h1v1h-1zM0 8h2v1h-2zM9 8h1v1h-1zM9 9h1v1h-1zM0 10h5v1h-5zM6 10h1v1h-1zM0 11h5v1h-5zM6 11h1v1h-1z"/><path fill="#002000" d="M4 5h2v1h-2z"/><path fill="#001800" d="M6 5h1v1h-1zM4 6h1v1h-1zM7 6h1v1h-1zM8 9h1v1h-1zM7 10h1v1h-1zM7 11h1v1h-1z"/><path fill="#000e00" d="M0 6h2v1h-2z"/><path fill="#001d00" d="M6 6h1v1h-1zM7 8h1v1h-1zM7 9h1v1h-1z"/><path fill="#001500" d="M5 7h1v1h-1zM5 8h1v1h-1zM6 9h1v1h-1z"/><path fill="#001a00" d="M7 7h1v1h-1z"/></g></g><g filter="url(#rb)"><path d="M26.54 45.97 L27.35 42.42 L28.82 38.51 L31.84 37.07 L33.89 36.86 L35.95 36.63 L38.02 36.16 L40.08 35.68 L41.64 35.51 L43.19 35.34 L44.75 35.16 L46.92 34.85 L49.09 34.53 L51.1 34.19 L53.1 33.82 L55.58 32.56" fill="none" stroke="rgb(0,134,0)" stroke-width="5" stroke-linecap="round" stroke-linejoin="round"/><path d="M49.23 43.16 L51.38 44.63 L53.18 47.43 L55.34 50.23 L58.22 52.12 L59.83 53.28 L61.46 54.43 L64.09 56.7 L66.44 58.96 L67.14 62.12 L67.18 65.74 L69.65 69.33 L71.8 72 L73.28 74.67" fill="none" stroke="rgb(0,42,0)" stroke-width="2.5" stroke-linecap="round" stroke-linejoin="round"/><path d="M52.15 41.49 L53.97 43.38 L55.81 45.26 L57.52 47.11 L59.25 48.96 L61.17 50.35 L63.11 51.72 L64.74 53.08 L66.39 54.43 L69.08 57.56 L70.84 61.6 L72.31 65.64 L73.8 69.22 L75.33 72.79 L76.3 75.02 L77.28 77.24" fill="none" stroke="rgb(0,84,0)" stroke-width="3" stroke-linecap="round" stroke-linejoin="round"/><path d="M32.74 45.62 L34.57 46.62 L36.41 47.61 L38.73 50.57 L40.24 52.07 L41.76 53.56 L44.46 57.39 L46.03 59.09 L47.61 60.77 L49.22 62.22 L50.85 63.66 L53.13 66.47 L54.73 70.16 L54.96 74.24" fill="none" stroke="rgb(0,42,0)" stroke-width="2.5" stroke-linecap="round" stroke-linejoin="round"/><path d="M28.72 46.72 L31.76 45.73 L33.35 45.92 L34.94 46.09 L37.05 47.68" fill="none" stroke="rgb(0,42,0)" stroke-width="3" stroke-linecap="round" stroke-linejoin="round"/><ellipse cx="17.07" cy="44.03" rx="3" ry="2.5" fill="rgb(0,50,0)"/><path d="M0 0 L4 0 L4 4 L0 8Z" fill="rgb(0,50,0)"/><ellipse cx="34.17" cy="15.67" rx="3" ry="2.5" fill="rgb(0,67,0)"/></g></g></g></g><ellipse cx="7.8" cy="84.3" rx="3.3" ry="1.7" fill="#fff"/><use href="#grid" fill="none" stroke="#000" stroke-opacity="0.22" stroke-width="0.45"/><use href="#coast" fill="none" stroke="#000" stroke-width="0.5"/><use href="#bord" fill="none" stroke="#111" stroke-width="0.5"/></g><rect x="0" y="0" width="87.05" height="85.25" fill="none" stroke="#999" stroke-width="0.8"/><text x="-1.8" y="15.1" font-size="5.1" text-anchor="end" textLength="9.76" lengthAdjust="spacingAndGlyphs">50°N</text><text x="-1.8" y="38.4" font-size="5.1" text-anchor="end" textLength="9.76" lengthAdjust="spacingAndGlyphs">45°N</text><text x="-1.8" y="62.4" font-size="5.1" text-anchor="end" textLength="9.76" lengthAdjust="spacingAndGlyphs">40°N</text><text x="-1.8" y="84.9" font-size="5.1" text-anchor="end" textLength="9.76" lengthAdjust="spacingAndGlyphs">35°N</text><text x="88.6" y="22.7" font-size="5.1" textLength="9.76" lengthAdjust="spacingAndGlyphs">50°N</text><text x="88.6" y="45.7" font-size="5.1" textLength="9.76" lengthAdjust="spacingAndGlyphs">45°N</text><text x="88.6" y="68.3" font-size="5.1" textLength="9.76" lengthAdjust="spacingAndGlyphs">40°N</text><text x="13" y="90.7" font-size="5.1" text-anchor="middle" textLength="6.95" lengthAdjust="spacingAndGlyphs">5°E</text><text x="32.1" y="90.7" font-size="5.1" text-anchor="middle" textLength="9.25" lengthAdjust="spacingAndGlyphs">10°E</text><text x="50.7" y="90.7" font-size="5.1" text-anchor="middle" textLength="9.25" lengthAdjust="spacingAndGlyphs">15°E</text><text x="68.2" y="90.7" font-size="5.1" text-anchor="middle" textLength="9.25" lengthAdjust="spacingAndGlyphs">20°E</text><text x="43.52" y="-10.3" font-size="9.2" text-anchor="middle" textLength="56.76" lengthAdjust="spacingAndGlyphs">REMO2015 SON</text><text x="43.52" y="-1.95" font-size="9.2" text-anchor="middle" textLength="81.45" lengthAdjust="spacingAndGlyphs">Mean=−0.17 RMSE=0.92</text></g><g transform="translate(16.4 283.2)"><g clip-path="url(#frm)"><g clip-path="url(#land)"><g filter="url(#fD)"><g filter="url(#gb)"><g transform="translate(-8.71 -8.53) scale(8.71 8.53)"><path fill="#8c0000" d="M0 0h4v1h-4zM0 1h4v1h-4zM7 5h3v1h-3zM8 6h2v1h-2z"/><path fill="#950000" d="M4 0h3v1h-3zM4 1h3v1h-3zM0 2h7v1h-7zM0 3h7v1h-7zM0 4h7v1h-7zM0 5h4v1h-4zM2 6h2v1h-2zM7 6h1v1h-1zM10 6h2v1h-2zM7 7h5v1h-5zM7 8h1v1h-1zM9 8h3v1h-3zM9 9h3v1h-3zM9 10h3v1h-3zM9 11h3v1h-3z"/><path fill="#990000" d="M7 0h5v1h-5zM7 1h5v1h-5zM7 2h5v1h-5zM7 3h5v1h-5zM7 4h5v1h-5zM6 5h1v1h-1zM8 8h1v1h-1zM7 9h2v1h-2zM7 10h2v1h-2zM7 11h2v1h-2z"/><path fill="#c30000" d="M4 5h1v1h-1z"/><path fill="#b70000" d="M5 5h1v1h-1z"/><path fill="#aa0000" d="M10 5h2v1h-2z"/><path fill="#6a0000" d="M0 6h2v1h-2zM0 7h4v1h-4zM0 8h4v1h-4zM0 9h4v1h-4z"/><path fill="#770000" d="M4 6h2v1h-2z"/><path fill="#6e0000" d="M6 6h1v1h-1z"/><path fill="#480000" d="M4 7h1v1h-1zM4 8h1v1h-1zM4 9h1v1h-1z"/><path fill="#4c0000" d="M5 7h2v1h-2zM5 8h2v1h-2zM5 9h2v1h-2zM5 10h1v1h-1zM5 11h1v1h-1z"/><path fill="#620000" d="M0 10h5v1h-5zM0 11h5v1h-5z"/><path fill="#5e0000" d="M6 10h1v1h-1zM6 11h1v1h-1z"/></g></g><g filter="url(#rb)"><path d="M26.54 45.97 L27.35 42.42 L28.82 38.51 L31.84 37.07 L33.89 36.86 L35.95 36.63 L38.02 36.16 L40.08 35.68 L41.64 35.51 L43.19 35.34 L44.75 35.16 L46.92 34.85 L49.09 34.53 L51.1 34.19 L53.1 33.82 L55.58 32.56" fill="none" stroke="rgb(212,0,0)" stroke-width="5" stroke-linecap="round" stroke-linejoin="round"/><path d="M49.23 43.16 L51.38 44.63 L53.18 47.43 L55.34 50.23 L58.22 52.12 L59.83 53.28 L61.46 54.43 L64.09 56.7 L66.44 58.96 L67.14 62.12 L67.18 65.74 L69.65 69.33 L71.8 72 L73.28 74.67" fill="none" stroke="rgb(64,0,0)" stroke-width="2" stroke-linecap="round" stroke-linejoin="round"/><path d="M52.15 41.49 L53.97 43.38 L55.81 45.26 L57.52 47.11 L59.25 48.96 L61.17 50.35 L63.11 51.72 L64.74 53.08 L66.39 54.43 L69.08 57.56 L70.84 61.6 L72.31 65.64 L73.8 69.22 L75.33 72.79 L76.3 75.02 L77.28 77.24" fill="none" stroke="rgb(238,0,0)" stroke-width="3.5" stroke-linecap="round" stroke-linejoin="round"/><path d="M32.74 45.62 L34.57 46.62 L36.41 47.61 L38.73 50.57 L40.24 52.07 L41.76 53.56 L44.46 57.39 L46.03 59.09 L47.61 60.77 L49.22 62.22 L50.85 63.66 L53.13 66.47 L54.73 70.16 L54.96 74.24" fill="none" stroke="rgb(59,0,0)" stroke-width="2" stroke-linecap="round" stroke-linejoin="round"/><path d="M-1.4 45.27 L0.2 46.35 L1.81 47.42 L3.48 48.26 L5.16 49.09 L6.7 49.76 L8.26 50.43 L9.84 50.97 L11.42 51.51" fill="none" stroke="rgb(191,0,0)" stroke-width="2.5" stroke-linecap="round" stroke-linejoin="round"/><path d="M2.37 78.12 L4.23 78.03 L6.1 77.93 L7.96 77.82 L9.74 78.15 L11.52 78.46 L13.3 78.77 L15.13 78.76 L16.96 78.75 L18.79 78.72 L20.58 78.98 L22.37 79.23 L24.15 79.48 L25.96 79.56 L27.77 79.63 L29.58 79.68" fill="none" stroke="rgb(72,0,0)" stroke-width="2.5" stroke-linecap="round" stroke-linejoin="round"/><path d="M61.69 27.24 L63.77 26.35 L65.83 25.43 L67.75 25.63 L69.67 25.82 L71.15 26.08 L72.64 26.34 L74.13 26.58 L76.11 27.63 L78.11 28.65 L79.85 30.14 L81.61 31.61 L84.31 35.04 L85.26 37.24 L86.22 39.43 L85.47 41.77 L83.76 42.13 L82.05 42.48 L80 42.61 L77.95 42.73 L75.79 43.74" fill="none" stroke="rgb(191,0,0)" stroke-width="2.5" stroke-linecap="round" stroke-linejoin="round"/><path d="M0 0 L4 0 L4 4 L0 8Z" fill="rgb(85,0,0)"/><ellipse cx="34.17" cy="15.67" rx="3" ry="2.5" fill="rgb(140,0,0)"/></g><g style="mix-blend-mode:lighten"><g filter="url(#gb)"><g transform="translate(-8.71 -8.53) scale(8.71 8.53)"><path fill="#001500" d="M0 0h2v1h-2zM0 1h2v1h-2zM6 5h1v1h-1zM8 6h1v1h-1zM6 7h1v1h-1zM8 7h1v1h-1zM9 8h1v1h-1zM9 9h1v1h-1zM6 10h1v1h-1zM6 11h1v1h-1z"/><path fill="#000800" d="M2 0h10v1h-10zM2 1h10v1h-10zM2 2h2v1h-2zM6 2h6v1h-6zM0 3h4v1h-4zM6 3h6v1h-6zM0 4h3v1h-3zM7 4h1v1h-1z"/><path fill="#000d00" d="M0 2h2v1h-2zM4 2h2v1h-2zM5 3h1v1h-1zM3 4h1v1h-1zM6 4h1v1h-1zM8 4h1v1h-1zM0 5h2v1h-2zM7 5h2v1h-2zM2 7h2v1h-2zM2 8h2v1h-2zM2 9h2v1h-2z"/><path fill="#001100" d="M4 3h1v1h-1zM5 4h1v1h-1zM9 4h1v1h-1zM2 5h1v1h-1zM9 5h1v1h-1zM2 6h2v1h-2zM5 6h1v1h-1zM9 6h3v1h-3zM0 7h2v1h-2zM9 7h3v1h-3zM0 8h2v1h-2zM10 8h2v1h-2zM0 9h2v1h-2zM10 9h2v1h-2zM9 10h3v1h-3zM9 11h3v1h-3z"/><path fill="#001900" d="M4 4h1v1h-1zM10 4h2v1h-2zM4 7h2v1h-2zM4 8h3v1h-3zM8 8h1v1h-1zM4 9h3v1h-3zM0 10h6v1h-6zM8 10h1v1h-1zM0 11h6v1h-6zM8 11h1v1h-1z"/><path fill="#002200" d="M3 5h1v1h-1zM8 9h1v1h-1zM7 10h1v1h-1zM7 11h1v1h-1z"/><path fill="#002a00" d="M4 5h1v1h-1zM6 6h2v1h-2zM7 7h1v1h-1zM7 8h1v1h-1zM7 9h1v1h-1z"/><path fill="#002600" d="M5 5h1v1h-1z"/><path fill="#001d00" d="M10 5h2v1h-2zM0 6h2v1h-2zM4 6h1v1h-1z"/></g></g><g filter="url(#rb)"><path d="M26.54 45.97 L27.35 42.42 L28.82 38.51 L31.84 37.07 L33.89 36.86 L35.95 36.63 L38.02 36.16 L40.08 35.68 L41.64 35.51 L43.19 35.34 L44.75 35.16 L46.92 34.85 L49.09 34.53 L51.1 34.19 L53.1 33.82 L55.58 32.56" fill="none" stroke="rgb(0,118,0)" stroke-width="5" stroke-linecap="round" stroke-linejoin="round"/><path d="M49.23 43.16 L51.38 44.63 L53.18 47.43 L55.34 50.23 L58.22 52.12 L59.83 53.28 L61.46 54.43 L64.09 56.7 L66.44 58.96 L67.14 62.12 L67.18 65.74 L69.65 69.33 L71.8 72 L73.28 74.67" fill="none" stroke="rgb(0,34,0)" stroke-width="2" stroke-linecap="round" stroke-linejoin="round"/><path d="M52.15 41.49 L53.97 43.38 L55.81 45.26 L57.52 47.11 L59.25 48.96 L61.17 50.35 L63.11 51.72 L64.74 53.08 L66.39 54.43 L69.08 57.56 L70.84 61.6 L72.31 65.64 L73.8 69.22 L75.33 72.79 L76.3 75.02 L77.28 77.24" fill="none" stroke="rgb(0,76,0)" stroke-width="3.5" stroke-linecap="round" stroke-linejoin="round"/><path d="M32.74 45.62 L34.57 46.62 L36.41 47.61 L38.73 50.57 L40.24 52.07 L41.76 53.56 L44.46 57.39 L46.03 59.09 L47.61 60.77 L49.22 62.22 L50.85 63.66 L53.13 66.47 L54.73 70.16 L54.96 74.24" fill="none" stroke="rgb(0,34,0)" stroke-width="2" stroke-linecap="round" stroke-linejoin="round"/><path d="M-1.4 45.27 L0.2 46.35 L1.81 47.42 L3.48 48.26 L5.16 49.09 L6.7 49.76 L8.26 50.43 L9.84 50.97 L11.42 51.51" fill="none" stroke="rgb(0,42,0)" stroke-width="2.5" stroke-linecap="round" stroke-linejoin="round"/><path d="M2.37 78.12 L4.23 78.03 L6.1 77.93 L7.96 77.82 L9.74 78.15 L11.52 78.46 L13.3 78.77 L15.13 78.76 L16.96 78.75 L18.79 78.72 L20.58 78.98 L22.37 79.23 L24.15 79.48 L25.96 79.56 L27.77 79.63 L29.58 79.68" fill="none" stroke="rgb(0,34,0)" stroke-width="2.5" stroke-linecap="round" stroke-linejoin="round"/><path d="M61.69 27.24 L63.77 26.35 L65.83 25.43 L67.75 25.63 L69.67 25.82 L71.15 26.08 L72.64 26.34 L74.13 26.58 L76.11 27.63 L78.11 28.65 L79.85 30.14 L81.61 31.61 L84.31 35.04 L85.26 37.24 L86.22 39.43 L85.47 41.77 L83.76 42.13 L82.05 42.48 L80 42.61 L77.95 42.73 L75.79 43.74" fill="none" stroke="rgb(0,59,0)" stroke-width="2.5" stroke-linecap="round" stroke-linejoin="round"/><path d="M0 0 L4 0 L4 4 L0 8Z" fill="rgb(0,76,0)"/><ellipse cx="34.17" cy="15.67" rx="3" ry="2.5" fill="rgb(0,84,0)"/></g></g></g></g><ellipse cx="7.8" cy="84.3" rx="3.3" ry="1.7" fill="#fff"/><use href="#grid" fill="none" stroke="#000" stroke-opacity="0.22" stroke-width="0.45"/><use href="#coast" fill="none" stroke="#000" stroke-width="0.5"/><use href="#bord" fill="none" stroke="#111" stroke-width="0.5"/></g><rect x="0" y="0" width="87.05" height="85.25" fill="none" stroke="#999" stroke-width="0.8"/><text x="-1.8" y="15.1" font-size="5.1" text-anchor="end" textLength="9.76" lengthAdjust="spacingAndGlyphs">50°N</text><text x="-1.8" y="38.4" font-size="5.1" text-anchor="end" textLength="9.76" lengthAdjust="spacingAndGlyphs">45°N</text><text x="-1.8" y="62.4" font-size="5.1" text-anchor="end" textLength="9.76" lengthAdjust="spacingAndGlyphs">40°N</text><text x="-1.8" y="84.9" font-size="5.1" text-anchor="end" textLength="9.76" lengthAdjust="spacingAndGlyphs">35°N</text><text x="88.6" y="22.7" font-size="5.1" textLength="9.76" lengthAdjust="spacingAndGlyphs">50°N</text><text x="88.6" y="45.7" font-size="5.1" textLength="9.76" lengthAdjust="spacingAndGlyphs">45°N</text><text x="88.6" y="68.3" font-size="5.1" textLength="9.76" lengthAdjust="spacingAndGlyphs">40°N</text><text x="13" y="90.7" font-size="5.1" text-anchor="middle" textLength="6.95" lengthAdjust="spacingAndGlyphs">5°E</text><text x="32.1" y="90.7" font-size="5.1" text-anchor="middle" textLength="9.25" lengthAdjust="spacingAndGlyphs">10°E</text><text x="50.7" y="90.7" font-size="5.1" text-anchor="middle" textLength="9.25" lengthAdjust="spacingAndGlyphs">15°E</text><text x="68.2" y="90.7" font-size="5.1" text-anchor="middle" textLength="9.25" lengthAdjust="spacingAndGlyphs">20°E</text><text x="43.52" y="-10.3" font-size="9.2" text-anchor="middle" textLength="59.71" lengthAdjust="spacingAndGlyphs">REMO2020<tspan font-size="6.2" dy="1.7">97</tspan><tspan dy="-1.7"> DJF</tspan></text><text x="43.52" y="-1.95" font-size="9.2" text-anchor="middle" textLength="77.05" lengthAdjust="spacingAndGlyphs">Mean=0.35 RMSE=1.02</text></g><g transform="translate(143.2 283.2)"><g clip-path="url(#frm)"><g clip-path="url(#land)"><g filter="url(#fD)"><g filter="url(#gb)"><g transform="translate(-8.71 -8.53) scale(8.71 8.53)"><path fill="#8c0000" d="M0 0h4v1h-4zM7 0h5v1h-5zM0 1h4v1h-4zM7 1h5v1h-5zM0 2h4v1h-4zM7 2h5v1h-5zM0 3h4v1h-4zM7 3h5v1h-5zM0 4h4v1h-4zM7 4h5v1h-5zM0 5h4v1h-4zM2 6h2v1h-2z"/><path fill="#880000" d="M4 0h3v1h-3zM4 1h3v1h-3zM4 2h3v1h-3zM4 3h3v1h-3zM4 4h3v1h-3z"/><path fill="#a60000" d="M4 5h2v1h-2z"/><path fill="#900000" d="M6 5h1v1h-1z"/><path fill="#840000" d="M7 5h3v1h-3zM8 6h2v1h-2z"/><path fill="#aa0000" d="M10 5h2v1h-2z"/><path fill="#800000" d="M0 6h2v1h-2zM0 7h4v1h-4zM0 8h4v1h-4zM0 9h4v1h-4z"/><path fill="#770000" d="M4 6h2v1h-2zM6 10h1v1h-1zM6 11h1v1h-1z"/><path fill="#6a0000" d="M6 6h1v1h-1zM4 7h1v1h-1zM4 8h1v1h-1zM4 9h1v1h-1z"/><path fill="#950000" d="M7 6h1v1h-1zM10 6h2v1h-2zM7 7h5v1h-5zM7 8h1v1h-1zM9 8h3v1h-3zM9 9h3v1h-3zM9 10h3v1h-3zM9 11h3v1h-3z"/><path fill="#710000" d="M5 7h2v1h-2zM5 8h2v1h-2zM5 9h2v1h-2zM5 10h1v1h-1zM5 11h1v1h-1z"/><path fill="#990000" d="M8 8h1v1h-1zM7 9h2v1h-2zM7 10h2v1h-2zM7 11h2v1h-2z"/><path fill="#730000" d="M0 10h5v1h-5zM0 11h5v1h-5z"/></g></g><g filter="url(#rb)"><path d="M26.54 45.97 L27.35 42.42 L28.82 38.51 L31.84 37.07 L33.89 36.86 L35.95 36.63 L38.02 36.16 L40.08 35.68 L41.64 35.51 L43.19 35.34 L44.75 35.16 L46.92 34.85 L49.09 34.53 L51.1 34.19 L53.1 33.82 L55.58 32.56" fill="none" stroke="rgb(191,0,0)" stroke-width="5" stroke-linecap="round" stroke-linejoin="round"/><path d="M49.23 43.16 L51.38 44.63 L53.18 47.43 L55.34 50.23 L58.22 52.12 L59.83 53.28 L61.46 54.43 L64.09 56.7 L66.44 58.96 L67.14 62.12 L67.18 65.74 L69.65 69.33 L71.8 72 L73.28 74.67" fill="none" stroke="rgb(59,0,0)" stroke-width="2.5" stroke-linecap="round" stroke-linejoin="round"/><path d="M52.15 41.49 L53.97 43.38 L55.81 45.26 L57.52 47.11 L59.25 48.96 L61.17 50.35 L63.11 51.72 L64.74 53.08 L66.39 54.43 L69.08 57.56 L70.84 61.6 L72.31 65.64 L73.8 69.22 L75.33 72.79 L76.3 75.02 L77.28 77.24" fill="none" stroke="rgb(221,0,0)" stroke-width="3.5" stroke-linecap="round" stroke-linejoin="round"/><path d="M31.07 46.1 L33.03 45.88 L34.99 45.64 L36.52 46.48 L38.05 47.32 L39.74 48.38 L41.43 49.44 L42.95 50.92 L44.48 52.4 L46.9 55.74 L49.38 59.05 L50.97 60.94 L52.58 62.83 L54.52 66.07 L55.44 69.72 L55.69 73.36" fill="none" stroke="rgb(64,0,0)" stroke-width="2.5" stroke-linecap="round" stroke-linejoin="round"/><path d="M-1.4 45.27 L0.2 46.35 L1.81 47.42 L3.48 48.26 L5.16 49.09 L6.7 49.76 L8.26 50.43 L9.84 50.97 L11.42 51.51" fill="none" stroke="rgb(221,0,0)" stroke-width="2.5" stroke-linecap="round" stroke-linejoin="round"/><path d="M61.69 27.24 L63.77 26.35 L65.83 25.43 L67.75 25.63 L69.67 25.82 L71.15 26.08 L72.64 26.34 L74.13 26.58 L76.11 27.63 L78.11 28.65 L79.85 30.14 L81.61 31.61 L84.31 35.04 L85.26 37.24 L86.22 39.43 L85.47 41.77 L83.76 42.13 L82.05 42.48 L80 42.61 L77.95 42.73 L75.79 43.74" fill="none" stroke="rgb(208,0,0)" stroke-width="3" stroke-linecap="round" stroke-linejoin="round"/><ellipse cx="34.17" cy="15.67" rx="3" ry="2.5" fill="rgb(128,0,0)"/></g><g style="mix-blend-mode:lighten"><g filter="url(#gb)"><g transform="translate(-8.71 -8.53) scale(8.71 8.53)"><path fill="#000d00" d="M0 0h2v1h-2zM0 1h2v1h-2zM4 2h2v1h-2zM3 3h1v1h-1zM6 3h1v1h-1zM2 4h2v1h-2zM7 4h1v1h-1zM0 5h2v1h-2zM7 5h2v1h-2zM2 6h2v1h-2zM0 7h2v1h-2zM0 8h2v1h-2zM4 8h1v1h-1zM0 9h2v1h-2zM4 9h1v1h-1zM4 10h3v1h-3zM4 11h3v1h-3z"/><path fill="#000800" d="M2 0h10v1h-10zM2 1h10v1h-10zM0 2h4v1h-4zM6 2h6v1h-6zM0 3h3v1h-3zM7 3h5v1h-5zM0 4h2v1h-2zM2 7h2v1h-2zM2 8h2v1h-2zM2 9h2v1h-2z"/><path fill="#001100" d="M4 3h2v1h-2zM5 4h2v1h-2zM8 4h1v1h-1zM2 5h1v1h-1zM5 6h1v1h-1zM9 6h3v1h-3zM4 7h1v1h-1zM6 7h1v1h-1zM9 7h3v1h-3zM5 9h1v1h-1zM0 10h4v1h-4zM0 11h4v1h-4z"/><path fill="#001500" d="M4 4h1v1h-1zM9 4h1v1h-1zM9 5h1v1h-1zM4 6h1v1h-1zM8 6h1v1h-1zM5 7h1v1h-1zM8 7h1v1h-1zM5 8h2v1h-2zM9 8h3v1h-3zM6 9h1v1h-1zM10 9h2v1h-2zM9 10h3v1h-3zM9 11h3v1h-3z"/><path fill="#001d00" d="M10 4h2v1h-2zM10 5h2v1h-2z"/><path fill="#002200" d="M3 5h1v1h-1zM0 6h2v1h-2zM8 9h1v1h-1zM7 10h1v1h-1zM7 11h1v1h-1z"/><path fill="#002a00" d="M4 5h2v1h-2zM7 6h1v1h-1zM7 8h1v1h-1zM7 9h1v1h-1z"/><path fill="#001900" d="M6 5h1v1h-1zM8 8h1v1h-1zM9 9h1v1h-1zM8 10h1v1h-1zM8 11h1v1h-1z"/><path fill="#002600" d="M6 6h1v1h-1zM7 7h1v1h-1z"/></g></g><g filter="url(#rb)"><path d="M26.54 45.97 L27.35 42.42 L28.82 38.51 L31.84 37.07 L33.89 36.86 L35.95 36.63 L38.02 36.16 L40.08 35.68 L41.64 35.51 L43.19 35.34 L44.75 35.16 L46.92 34.85 L49.09 34.53 L51.1 34.19 L53.1 33.82 L55.58 32.56" fill="none" stroke="rgb(0,118,0)" stroke-width="5" stroke-linecap="round" stroke-linejoin="round"/><path d="M49.23 43.16 L51.38 44.63 L53.18 47.43 L55.34 50.23 L58.22 52.12 L59.83 53.28 L61.46 54.43 L64.09 56.7 L66.44 58.96 L67.14 62.12 L67.18 65.74 L69.65 69.33 L71.8 72 L73.28 74.67" fill="none" stroke="rgb(0,42,0)" stroke-width="2.5" stroke-linecap="round" stroke-linejoin="round"/><path d="M52.15 41.49 L53.97 43.38 L55.81 45.26 L57.52 47.11 L59.25 48.96 L61.17 50.35 L63.11 51.72 L64.74 53.08 L66.39 54.43 L69.08 57.56 L70.84 61.6 L72.31 65.64 L73.8 69.22 L75.33 72.79 L76.3 75.02 L77.28 77.24" fill="none" stroke="rgb(0,76,0)" stroke-width="3.5" stroke-linecap="round" stroke-linejoin="round"/><path d="M31.07 46.1 L33.03 45.88 L34.99 45.64 L36.52 46.48 L38.05 47.32 L39.74 48.38 L41.43 49.44 L42.95 50.92 L44.48 52.4 L46.9 55.74 L49.38 59.05 L50.97 60.94 L52.58 62.83 L54.52 66.07 L55.44 69.72 L55.69 73.36" fill="none" stroke="rgb(0,50,0)" stroke-width="2.5" stroke-linecap="round" stroke-linejoin="round"/><path d="M-1.4 45.27 L0.2 46.35 L1.81 47.42 L3.48 48.26 L5.16 49.09 L6.7 49.76 L8.26 50.43 L9.84 50.97 L11.42 51.51" fill="none" stroke="rgb(0,63,0)" stroke-width="2.5" stroke-linecap="round" stroke-linejoin="round"/><path d="M61.69 27.24 L63.77 26.35 L65.83 25.43 L67.75 25.63 L69.67 25.82 L71.15 26.08 L72.64 26.34 L74.13 26.58 L76.11 27.63 L78.11 28.65 L79.85 30.14 L81.61 31.61 L84.31 35.04 L85.26 37.24 L86.22 39.43 L85.47 41.77 L83.76 42.13 L82.05 42.48 L80 42.61 L77.95 42.73 L75.79 43.74" fill="none" stroke="rgb(0,84,0)" stroke-width="3" stroke-linecap="round" stroke-linejoin="round"/><ellipse cx="34.17" cy="15.67" rx="3" ry="2.5" fill="rgb(0,67,0)"/></g></g></g></g><ellipse cx="7.8" cy="84.3" rx="3.3" ry="1.7" fill="#fff"/><use href="#grid" fill="none" stroke="#000" stroke-opacity="0.22" stroke-width="0.45"/><use href="#coast" fill="none" stroke="#000" stroke-width="0.5"/><use href="#bord" fill="none" stroke="#111" stroke-width="0.5"/></g><rect x="0" y="0" width="87.05" height="85.25" fill="none" stroke="#999" stroke-width="0.8"/><text x="-1.8" y="15.1" font-size="5.1" text-anchor="end" textLength="9.76" lengthAdjust="spacingAndGlyphs">50°N</text><text x="-1.8" y="38.4" font-size="5.1" text-anchor="end" textLength="9.76" lengthAdjust="spacingAndGlyphs">45°N</text><text x="-1.8" y="62.4" font-size="5.1" text-anchor="end" textLength="9.76" lengthAdjust="spacingAndGlyphs">40°N</text><text x="-1.8" y="84.9" font-size="5.1" text-anchor="end" textLength="9.76" lengthAdjust="spacingAndGlyphs">35°N</text><text x="88.6" y="22.7" font-size="5.1" textLength="9.76" lengthAdjust="spacingAndGlyphs">50°N</text><text x="88.6" y="45.7" font-size="5.1" textLength="9.76" lengthAdjust="spacingAndGlyphs">45°N</text><text x="88.6" y="68.3" font-size="5.1" textLength="9.76" lengthAdjust="spacingAndGlyphs">40°N</text><text x="13" y="90.7" font-size="5.1" text-anchor="middle" textLength="6.95" lengthAdjust="spacingAndGlyphs">5°E</text><text x="32.1" y="90.7" font-size="5.1" text-anchor="middle" textLength="9.25" lengthAdjust="spacingAndGlyphs">10°E</text><text x="50.7" y="90.7" font-size="5.1" text-anchor="middle" textLength="9.25" lengthAdjust="spacingAndGlyphs">15°E</text><text x="68.2" y="90.7" font-size="5.1" text-anchor="middle" textLength="9.25" lengthAdjust="spacingAndGlyphs">20°E</text><text x="43.52" y="-10.3" font-size="9.2" text-anchor="middle" textLength="66.34" lengthAdjust="spacingAndGlyphs">REMO2020<tspan font-size="6.2" dy="1.7">97</tspan><tspan dy="-1.7"> MAM</tspan></text><text x="43.52" y="-1.95" font-size="9.2" text-anchor="middle" textLength="77.05" lengthAdjust="spacingAndGlyphs">Mean=0.28 RMSE=0.77</text></g><g transform="translate(270.15 283.2)"><g clip-path="url(#frm)"><g clip-path="url(#land)"><g filter="url(#fD)"><g filter="url(#gb)"><g transform="translate(-8.71 -8.53) scale(8.71 8.53)"><path fill="#840000" d="M0 0h4v1h-4zM7 0h5v1h-5zM0 1h4v1h-4zM7 1h5v1h-5zM7 2h5v1h-5zM7 3h5v1h-5zM7 4h5v1h-5z"/><path fill="#7b0000" d="M4 0h3v1h-3zM4 1h3v1h-3zM4 2h3v1h-3zM4 3h3v1h-3zM4 4h3v1h-3z"/><path fill="#800000" d="M0 2h4v1h-4zM0 3h4v1h-4zM0 4h4v1h-4zM0 5h4v1h-4zM0 6h4v1h-4zM0 7h5v1h-5zM0 8h5v1h-5zM0 9h5v1h-5zM0 10h5v1h-5zM0 11h5v1h-5z"/><path fill="#680000" d="M4 5h3v1h-3z"/><path fill="#620000" d="M7 5h3v1h-3zM8 6h2v1h-2z"/><path fill="#900000" d="M10 5h2v1h-2z"/><path fill="#880000" d="M4 6h2v1h-2zM6 10h1v1h-1zM6 11h1v1h-1z"/><path fill="#6a0000" d="M6 6h2v1h-2zM10 6h2v1h-2zM7 7h5v1h-5zM8 8h4v1h-4zM9 9h3v1h-3zM9 10h3v1h-3zM9 11h3v1h-3z"/><path fill="#950000" d="M5 7h2v1h-2zM5 8h2v1h-2zM5 9h2v1h-2zM5 10h1v1h-1zM5 11h1v1h-1z"/><path fill="#a20000" d="M7 8h1v1h-1z"/><path fill="#a60000" d="M7 9h2v1h-2zM7 10h2v1h-2zM7 11h2v1h-2z"/></g></g><g filter="url(#rb)"><path d="M26.73 35.47 L28.38 34.79 L30.03 34.1 L31.65 33.54 L33.26 32.98 L34.86 32.41 L36.41 32.28 L37.96 32.13 L39.5 31.98 L41.04 31.82 L42.57 31.65 L44.11 31.47 L45.63 31.43 L47.15 31.39 L48.67 31.33 L50.18 31.27 L51.7 31.19 L53.21 31.11" fill="none" stroke="rgb(76,0,0)" stroke-width="4" stroke-linecap="round" stroke-linejoin="round"/><path d="M28.82 38.51 L31.84 37.07 L33.89 36.86 L35.95 36.63 L38.02 36.16 L40.08 35.68 L41.64 35.51 L43.19 35.34 L44.75 35.16 L46.92 34.85 L49.09 34.53 L51.1 34.19 L53.1 33.82" fill="none" stroke="rgb(72,0,0)" stroke-width="6.5" stroke-linecap="round" stroke-linejoin="round"/><path d="M26.54 45.97 L27.35 42.42 L28.82 38.51 L31.84 37.07 L33.89 36.86 L35.95 36.63 L38.02 36.16 L40.08 35.68" fill="none" stroke="rgb(110,0,0)" stroke-width="5" stroke-linecap="round" stroke-linejoin="round"/><path d="M60.81 25.87 L62.49 25.74 L64.16 25.59 L65.83 25.43 L67.9 25.86 L69.97 26.27 L72.05 26.43 L74.13 26.58 L76.09 27.17 L78.06 27.75 L79.9 28.55 L81.75 29.33" fill="none" stroke="rgb(85,0,0)" stroke-width="4" stroke-linecap="round" stroke-linejoin="round"/><path d="M52.15 41.49 L53.97 43.38 L55.81 45.26 L57.52 47.11 L59.25 48.96 L61.17 50.35 L63.11 51.72 L64.74 53.08 L66.39 54.43 L69.08 57.56 L70.84 61.6 L72.31 65.64 L73.8 69.22 L75.33 72.79 L76.3 75.02 L77.28 77.24" fill="none" stroke="rgb(119,0,0)" stroke-width="3" stroke-linecap="round" stroke-linejoin="round"/><path d="M-1.4 45.27 L0.2 46.35 L1.81 47.42 L3.48 48.26 L5.16 49.09 L6.7 49.76 L8.26 50.43 L9.84 50.97 L11.42 51.51" fill="none" stroke="rgb(212,0,0)" stroke-width="2" stroke-linecap="round" stroke-linejoin="round"/><path d="M70.97 66.58 L72.79 70.16 L74.64 73.27 L76.19 76.83 L77.4 79.96" fill="none" stroke="rgb(170,0,0)" stroke-width="3" stroke-linecap="round" stroke-linejoin="round"/><path d="M49.23 43.16 L51.38 44.63 L53.18 47.43 L55.34 50.23 L58.22 52.12 L59.83 53.28 L61.46 54.43" fill="none" stroke="rgb(204,0,0)" stroke-width="2" stroke-linecap="round" stroke-linejoin="round"/></g><g style="mix-blend-mode:lighten"><g filter="url(#gb)"><g transform="translate(-8.71 -8.53) scale(8.71 8.53)"><path fill="#000a00" d="M0 0h2v1h-2zM4 0h2v1h-2zM0 1h2v1h-2zM4 1h2v1h-2zM4 2h2v1h-2zM3 3h1v1h-1zM6 3h1v1h-1zM0 4h3v1h-3z"/><path fill="#000700" d="M2 0h2v1h-2zM6 0h1v1h-1zM2 1h2v1h-2zM6 1h1v1h-1zM0 2h4v1h-4zM6 2h1v1h-1zM0 3h3v1h-3z"/><path fill="#000800" d="M7 0h5v1h-5zM7 1h5v1h-5zM7 2h5v1h-5zM8 3h4v1h-4zM2 6h2v1h-2zM0 7h5v1h-5zM0 8h5v1h-5zM0 9h5v1h-5zM0 10h5v1h-5zM0 11h5v1h-5z"/><path fill="#000d00" d="M4 3h2v1h-2zM7 3h1v1h-1zM3 4h1v1h-1zM4 6h1v1h-1zM5 9h1v1h-1zM5 10h2v1h-2zM5 11h2v1h-2z"/><path fill="#001400" d="M4 4h3v1h-3z"/><path fill="#001500" d="M7 4h1v1h-1zM7 5h1v1h-1zM9 5h1v1h-1zM9 8h1v1h-1zM9 10h1v1h-1zM9 11h1v1h-1z"/><path fill="#001900" d="M8 4h1v1h-1zM10 4h2v1h-2zM2 5h1v1h-1zM8 6h1v1h-1zM8 7h1v1h-1zM9 9h1v1h-1z"/><path fill="#002200" d="M9 4h1v1h-1zM0 6h2v1h-2zM6 6h2v1h-2zM7 7h1v1h-1zM7 8h1v1h-1zM8 9h1v1h-1zM7 10h1v1h-1zM7 11h1v1h-1z"/><path fill="#001100" d="M0 5h2v1h-2zM8 5h1v1h-1zM5 6h1v1h-1zM9 6h3v1h-3zM5 7h2v1h-2zM9 7h3v1h-3zM5 8h2v1h-2zM10 8h2v1h-2zM6 9h1v1h-1zM10 9h2v1h-2zM10 10h2v1h-2zM10 11h2v1h-2z"/><path fill="#002a00" d="M3 5h1v1h-1z"/><path fill="#003700" d="M4 5h2v1h-2z"/><path fill="#002e00" d="M6 5h1v1h-1z"/><path fill="#001d00" d="M10 5h2v1h-2zM8 8h1v1h-1zM8 10h1v1h-1zM8 11h1v1h-1z"/><path fill="#002600" d="M7 9h1v1h-1z"/></g></g><g filter="url(#rb)"><path d="M26.73 35.47 L28.38 34.79 L30.03 34.1 L31.65 33.54 L33.26 32.98 L34.86 32.41 L36.41 32.28 L37.96 32.13 L39.5 31.98 L41.04 31.82 L42.57 31.65 L44.11 31.47 L45.63 31.43 L47.15 31.39 L48.67 31.33 L50.18 31.27 L51.7 31.19 L53.21 31.11" fill="none" stroke="rgb(0,63,0)" stroke-width="4" stroke-linecap="round" stroke-linejoin="round"/><path d="M28.82 38.51 L31.84 37.07 L33.89 36.86 L35.95 36.63 L38.02 36.16 L40.08 35.68 L41.64 35.51 L43.19 35.34 L44.75 35.16 L46.92 34.85 L49.09 34.53 L51.1 34.19 L53.1 33.82" fill="none" stroke="rgb(0,252,0)" stroke-width="6.5" stroke-linecap="round" stroke-linejoin="round"/><path d="M26.54 45.97 L27.35 42.42 L28.82 38.51 L31.84 37.07 L33.89 36.86 L35.95 36.63 L38.02 36.16 L40.08 35.68" fill="none" stroke="rgb(0,126,0)" stroke-width="5" stroke-linecap="round" stroke-linejoin="round"/><path d="M60.81 25.87 L62.49 25.74 L64.16 25.59 L65.83 25.43 L67.9 25.86 L69.97 26.27 L72.05 26.43 L74.13 26.58 L76.09 27.17 L78.06 27.75 L79.9 28.55 L81.75 29.33" fill="none" stroke="rgb(0,126,0)" stroke-width="4" stroke-linecap="round" stroke-linejoin="round"/><path d="M52.15 41.49 L53.97 43.38 L55.81 45.26 L57.52 47.11 L59.25 48.96 L61.17 50.35 L63.11 51.72 L64.74 53.08 L66.39 54.43 L69.08 57.56 L70.84 61.6 L72.31 65.64 L73.8 69.22 L75.33 72.79 L76.3 75.02 L77.28 77.24" fill="none" stroke="rgb(0,84,0)" stroke-width="3" stroke-linecap="round" stroke-linejoin="round"/><path d="M-1.4 45.27 L0.2 46.35 L1.81 47.42 L3.48 48.26 L5.16 49.09 L6.7 49.76 L8.26 50.43 L9.84 50.97 L11.42 51.51" fill="none" stroke="rgb(0,42,0)" stroke-width="2" stroke-linecap="round" stroke-linejoin="round"/><path d="M70.97 66.58 L72.79 70.16 L74.64 73.27 L76.19 76.83 L77.4 79.96" fill="none" stroke="rgb(0,50,0)" stroke-width="3" stroke-linecap="round" stroke-linejoin="round"/><path d="M49.23 43.16 L51.38 44.63 L53.18 47.43 L55.34 50.23 L58.22 52.12 L59.83 53.28 L61.46 54.43" fill="none" stroke="rgb(0,63,0)" stroke-width="2" stroke-linecap="round" stroke-linejoin="round"/></g></g></g></g><ellipse cx="7.8" cy="84.3" rx="3.3" ry="1.7" fill="#fff"/><use href="#grid" fill="none" stroke="#000" stroke-opacity="0.22" stroke-width="0.45"/><use href="#coast" fill="none" stroke="#000" stroke-width="0.5"/><use href="#bord" fill="none" stroke="#111" stroke-width="0.5"/></g><rect x="0" y="0" width="87.05" height="85.25" fill="none" stroke="#999" stroke-width="0.8"/><text x="-1.8" y="15.1" font-size="5.1" text-anchor="end" textLength="9.76" lengthAdjust="spacingAndGlyphs">50°N</text><text x="-1.8" y="38.4" font-size="5.1" text-anchor="end" textLength="9.76" lengthAdjust="spacingAndGlyphs">45°N</text><text x="-1.8" y="62.4" font-size="5.1" text-anchor="end" textLength="9.76" lengthAdjust="spacingAndGlyphs">40°N</text><text x="-1.8" y="84.9" font-size="5.1" text-anchor="end" textLength="9.76" lengthAdjust="spacingAndGlyphs">35°N</text><text x="88.6" y="22.7" font-size="5.1" textLength="9.76" lengthAdjust="spacingAndGlyphs">50°N</text><text x="88.6" y="45.7" font-size="5.1" textLength="9.76" lengthAdjust="spacingAndGlyphs">45°N</text><text x="88.6" y="68.3" font-size="5.1" textLength="9.76" lengthAdjust="spacingAndGlyphs">40°N</text><text x="13" y="90.7" font-size="5.1" text-anchor="middle" textLength="6.95" lengthAdjust="spacingAndGlyphs">5°E</text><text x="32.1" y="90.7" font-size="5.1" text-anchor="middle" textLength="9.25" lengthAdjust="spacingAndGlyphs">10°E</text><text x="50.7" y="90.7" font-size="5.1" text-anchor="middle" textLength="9.25" lengthAdjust="spacingAndGlyphs">15°E</text><text x="68.2" y="90.7" font-size="5.1" text-anchor="middle" textLength="9.25" lengthAdjust="spacingAndGlyphs">20°E</text><text x="43.52" y="-10.3" font-size="9.2" text-anchor="middle" textLength="58.39" lengthAdjust="spacingAndGlyphs">REMO2020<tspan font-size="6.2" dy="1.7">97</tspan><tspan dy="-1.7"> JJA</tspan></text><text x="43.52" y="-1.95" font-size="9.2" text-anchor="middle" textLength="77.05" lengthAdjust="spacingAndGlyphs">Mean=0.06 RMSE=1.00</text></g><g transform="translate(396.85 283.2)"><g clip-path="url(#frm)"><g clip-path="url(#land)"><g filter="url(#fD)"><g filter="url(#gb)"><g transform="translate(-8.71 -8.53) scale(8.71 8.53)"><path fill="#730000" d="M0 0h4v1h-4zM0 1h4v1h-4z"/><path fill="#770000" d="M4 0h3v1h-3zM4 1h3v1h-3zM4 2h3v1h-3zM4 3h3v1h-3zM4 4h3v1h-3zM7 5h3v1h-3zM8 6h2v1h-2z"/><path fill="#840000" d="M7 0h5v1h-5zM7 1h5v1h-5zM7 2h5v1h-5zM7 3h5v1h-5zM7 4h5v1h-5z"/><path fill="#6a0000" d="M0 2h4v1h-4zM0 3h4v1h-4zM0 4h4v1h-4zM0 5h4v1h-4zM2 6h2v1h-2z"/><path fill="#880000" d="M4 5h1v1h-1zM8 8h1v1h-1zM7 9h2v1h-2zM7 10h2v1h-2zM7 11h2v1h-2z"/><path fill="#800000" d="M5 5h1v1h-1z"/><path fill="#5e0000" d="M6 5h1v1h-1zM4 6h2v1h-2zM6 10h1v1h-1zM6 11h1v1h-1z"/><path fill="#990000" d="M10 5h2v1h-2z"/><path fill="#620000" d="M0 6h2v1h-2zM0 7h4v1h-4zM0 8h4v1h-4zM0 9h4v1h-4zM0 10h5v1h-5zM0 11h5v1h-5z"/><path fill="#3b0000" d="M6 6h1v1h-1z"/><path fill="#660000" d="M7 6h1v1h-1zM10 6h2v1h-2zM7 7h5v1h-5zM7 8h1v1h-1zM9 8h3v1h-3zM9 9h3v1h-3zM9 10h3v1h-3zM9 11h3v1h-3z"/><path fill="#550000" d="M4 7h1v1h-1zM4 8h1v1h-1zM4 9h1v1h-1z"/><path fill="#480000" d="M5 7h2v1h-2zM5 8h2v1h-2zM5 9h2v1h-2zM5 10h1v1h-1zM5 11h1v1h-1z"/></g></g><g filter="url(#rb)"><path d="M26.54 45.97 L27.35 42.42 L28.82 38.51 L31.84 37.07 L33.89 36.86 L35.95 36.63 L38.02 36.16 L40.08 35.68 L41.64 35.51 L43.19 35.34 L44.75 35.16 L46.92 34.85 L49.09 34.53 L51.1 34.19 L53.1 33.82 L55.58 32.56" fill="none" stroke="rgb(149,0,0)" stroke-width="5" stroke-linecap="round" stroke-linejoin="round"/><path d="M49.23 43.16 L51.38 44.63 L53.18 47.43 L55.34 50.23 L58.22 52.12 L59.83 53.28 L61.46 54.43 L64.09 56.7 L66.44 58.96 L67.14 62.12 L67.18 65.74 L69.65 69.33 L71.8 72 L73.28 74.67" fill="none" stroke="rgb(26,0,0)" stroke-width="2.5" stroke-linecap="round" stroke-linejoin="round"/><path d="M52.15 41.49 L53.97 43.38 L55.81 45.26 L57.52 47.11 L59.25 48.96 L61.17 50.35 L63.11 51.72 L64.74 53.08 L66.39 54.43 L69.08 57.56 L70.84 61.6 L72.31 65.64 L73.8 69.22 L75.33 72.79 L76.3 75.02 L77.28 77.24" fill="none" stroke="rgb(128,0,0)" stroke-width="3" stroke-linecap="round" stroke-linejoin="round"/><path d="M32.74 45.62 L34.57 46.62 L36.41 47.61 L38.73 50.57 L40.24 52.07 L41.76 53.56 L44.46 57.39 L46.03 59.09 L47.61 60.77 L49.22 62.22 L50.85 63.66 L53.13 66.47 L54.73 70.16 L54.96 74.24" fill="none" stroke="rgb(42,0,0)" stroke-width="2.5" stroke-linecap="round" stroke-linejoin="round"/><path d="M28.72 46.72 L31.76 45.73 L33.35 45.92 L34.94 46.09 L37.05 47.68" fill="none" stroke="rgb(34,0,0)" stroke-width="3" stroke-linecap="round" stroke-linejoin="round"/><ellipse cx="17.07" cy="44.03" rx="3" ry="2.5" fill="rgb(64,0,0)"/><path d="M0 0 L4 0 L4 4 L0 8Z" fill="rgb(64,0,0)"/><ellipse cx="34.17" cy="15.67" rx="3" ry="2.5" fill="rgb(128,0,0)"/></g><g style="mix-blend-mode:lighten"><g filter="url(#gb)"><g transform="translate(-8.71 -8.53) scale(8.71 8.53)"><path fill="#001000" d="M0 0h2v1h-2zM0 1h2v1h-2z"/><path fill="#000600" d="M2 0h1v1h-1zM4 0h8v1h-8zM2 1h1v1h-1zM4 1h8v1h-8zM6 2h6v1h-6zM0 3h2v1h-2zM3 3h1v1h-1zM7 3h5v1h-5zM2 4h1v1h-1z"/><path fill="#000400" d="M3 0h1v1h-1zM3 1h1v1h-1zM2 2h2v1h-2zM2 3h1v1h-1z"/><path fill="#000800" d="M0 2h2v1h-2zM0 4h2v1h-2zM3 4h1v1h-1z"/><path fill="#000900" d="M4 2h2v1h-2zM5 3h2v1h-2zM6 4h3v1h-3zM7 5h2v1h-2z"/><path fill="#000c00" d="M4 3h1v1h-1zM5 4h1v1h-1zM9 4h1v1h-1zM9 5h1v1h-1zM2 6h2v1h-2zM9 6h3v1h-3zM2 7h2v1h-2zM9 7h3v1h-3zM2 8h2v1h-2zM10 8h2v1h-2zM0 9h4v1h-4zM10 9h2v1h-2zM9 10h3v1h-3zM9 11h3v1h-3z"/><path fill="#001200" d="M4 4h1v1h-1zM3 5h1v1h-1zM10 5h2v1h-2zM4 7h1v1h-1zM4 8h1v1h-1zM6 8h1v1h-1zM8 8h1v1h-1zM4 9h2v1h-2zM5 10h1v1h-1zM8 10h1v1h-1zM5 11h1v1h-1zM8 11h1v1h-1z"/><path fill="#000f00" d="M10 4h2v1h-2zM5 6h1v1h-1zM8 6h1v1h-1zM0 7h2v1h-2zM6 7h1v1h-1zM8 7h1v1h-1zM0 8h2v1h-2zM9 8h1v1h-1zM9 9h1v1h-1zM0 10h5v1h-5zM6 10h1v1h-1zM0 11h5v1h-5zM6 11h1v1h-1z"/><path fill="#000a00" d="M0 5h3v1h-3z"/><path fill="#002000" d="M4 5h2v1h-2z"/><path fill="#001a00" d="M6 5h1v1h-1zM7 7h1v1h-1z"/><path fill="#000e00" d="M0 6h2v1h-2z"/><path fill="#001800" d="M4 6h1v1h-1zM7 6h1v1h-1zM8 9h1v1h-1zM7 10h1v1h-1zM7 11h1v1h-1z"/><path fill="#001d00" d="M6 6h1v1h-1zM7 8h1v1h-1zM7 9h1v1h-1z"/><path fill="#001500" d="M5 7h1v1h-1zM5 8h1v1h-1zM6 9h1v1h-1z"/></g></g><g filter="url(#rb)"><path d="M26.54 45.97 L27.35 42.42 L28.82 38.51 L31.84 37.07 L33.89 36.86 L35.95 36.63 L38.02 36.16 L40.08 35.68 L41.64 35.51 L43.19 35.34 L44.75 35.16 L46.92 34.85 L49.09 34.53 L51.1 34.19 L53.1 33.82 L55.58 32.56" fill="none" stroke="rgb(0,134,0)" stroke-width="5" stroke-linecap="round" stroke-linejoin="round"/><path d="M49.23 43.16 L51.38 44.63 L53.18 47.43 L55.34 50.23 L58.22 52.12 L59.83 53.28 L61.46 54.43 L64.09 56.7 L66.44 58.96 L67.14 62.12 L67.18 65.74 L69.65 69.33 L71.8 72 L73.28 74.67" fill="none" stroke="rgb(0,42,0)" stroke-width="2.5" stroke-linecap="round" stroke-linejoin="round"/><path d="M52.15 41.49 L53.97 43.38 L55.81 45.26 L57.52 47.11 L59.25 48.96 L61.17 50.35 L63.11 51.72 L64.74 53.08 L66.39 54.43 L69.08 57.56 L70.84 61.6 L72.31 65.64 L73.8 69.22 L75.33 72.79 L76.3 75.02 L77.28 77.24" fill="none" stroke="rgb(0,84,0)" stroke-width="3" stroke-linecap="round" stroke-linejoin="round"/><path d="M32.74 45.62 L34.57 46.62 L36.41 47.61 L38.73 50.57 L40.24 52.07 L41.76 53.56 L44.46 57.39 L46.03 59.09 L47.61 60.77 L49.22 62.22 L50.85 63.66 L53.13 66.47 L54.73 70.16 L54.96 74.24" fill="none" stroke="rgb(0,42,0)" stroke-width="2.5" stroke-linecap="round" stroke-linejoin="round"/><path d="M28.72 46.72 L31.76 45.73 L33.35 45.92 L34.94 46.09 L37.05 47.68" fill="none" stroke="rgb(0,42,0)" stroke-width="3" stroke-linecap="round" stroke-linejoin="round"/><ellipse cx="17.07" cy="44.03" rx="3" ry="2.5" fill="rgb(0,50,0)"/><path d="M0 0 L4 0 L4 4 L0 8Z" fill="rgb(0,50,0)"/><ellipse cx="34.17" cy="15.67" rx="3" ry="2.5" fill="rgb(0,67,0)"/></g></g></g></g><ellipse cx="7.8" cy="84.3" rx="3.3" ry="1.7" fill="#fff"/><use href="#grid" fill="none" stroke="#000" stroke-opacity="0.22" stroke-width="0.45"/><use href="#coast" fill="none" stroke="#000" stroke-width="0.5"/><use href="#bord" fill="none" stroke="#111" stroke-width="0.5"/></g><rect x="0" y="0" width="87.05" height="85.25" fill="none" stroke="#999" stroke-width="0.8"/><text x="-1.8" y="15.1" font-size="5.1" text-anchor="end" textLength="9.76" lengthAdjust="spacingAndGlyphs">50°N</text><text x="-1.8" y="38.4" font-size="5.1" text-anchor="end" textLength="9.76" lengthAdjust="spacingAndGlyphs">45°N</text><text x="-1.8" y="62.4" font-size="5.1" text-anchor="end" textLength="9.76" lengthAdjust="spacingAndGlyphs">40°N</text><text x="-1.8" y="84.9" font-size="5.1" text-anchor="end" textLength="9.76" lengthAdjust="spacingAndGlyphs">35°N</text><text x="88.6" y="22.7" font-size="5.1" textLength="9.76" lengthAdjust="spacingAndGlyphs">50°N</text><text x="88.6" y="45.7" font-size="5.1" textLength="9.76" lengthAdjust="spacingAndGlyphs">45°N</text><text x="88.6" y="68.3" font-size="5.1" textLength="9.76" lengthAdjust="spacingAndGlyphs">40°N</text><text x="13" y="90.7" font-size="5.1" text-anchor="middle" textLength="6.95" lengthAdjust="spacingAndGlyphs">5°E</text><text x="32.1" y="90.7" font-size="5.1" text-anchor="middle" textLength="9.25" lengthAdjust="spacingAndGlyphs">10°E</text><text x="50.7" y="90.7" font-size="5.1" text-anchor="middle" textLength="9.25" lengthAdjust="spacingAndGlyphs">15°E</text><text x="68.2" y="90.7" font-size="5.1" text-anchor="middle" textLength="9.25" lengthAdjust="spacingAndGlyphs">20°E</text><text x="43.52" y="-10.3" font-size="9.2" text-anchor="middle" textLength="62.36" lengthAdjust="spacingAndGlyphs">REMO2020<tspan font-size="6.2" dy="1.7">97</tspan><tspan dy="-1.7"> SON</tspan></text><text x="43.52" y="-1.95" font-size="9.2" text-anchor="middle" textLength="81.45" lengthAdjust="spacingAndGlyphs">Mean=−0.14 RMSE=0.81</text></g><g transform="translate(16.4 398.25)"><g clip-path="url(#frm)"><g clip-path="url(#land)"><g filter="url(#fD)"><g filter="url(#gb)"><g transform="translate(-8.71 -8.53) scale(8.71 8.53)"><path fill="#950000" d="M0 0h4v1h-4zM0 1h4v1h-4z"/><path fill="#990000" d="M4 0h3v1h-3zM4 1h3v1h-3zM4 2h3v1h-3zM4 3h3v1h-3zM4 4h3v1h-3zM7 6h1v1h-1zM10 6h2v1h-2zM7 7h5v1h-5zM7 8h1v1h-1zM9 8h3v1h-3zM9 9h3v1h-3zM9 10h3v1h-3zM9 11h3v1h-3z"/><path fill="#9d0000" d="M7 0h5v1h-5zM7 1h5v1h-5zM7 2h5v1h-5zM7 3h5v1h-5zM7 4h5v1h-5zM6 5h1v1h-1z"/><path fill="#970000" d="M0 2h4v1h-4zM0 3h4v1h-4zM0 4h4v1h-4zM0 5h4v1h-4zM2 6h2v1h-2z"/><path fill="#cc0000" d="M4 5h1v1h-1z"/><path fill="#bf0000" d="M5 5h1v1h-1z"/><path fill="#900000" d="M7 5h3v1h-3zM8 6h2v1h-2z"/><path fill="#ae0000" d="M10 5h2v1h-2z"/><path fill="#800000" d="M0 6h2v1h-2zM0 7h4v1h-4zM0 8h4v1h-4zM0 9h4v1h-4z"/><path fill="#770000" d="M4 6h2v1h-2z"/><path fill="#7b0000" d="M6 6h1v1h-1z"/><path fill="#660000" d="M4 7h1v1h-1zM4 8h1v1h-1zM4 9h1v1h-1z"/><path fill="#790000" d="M5 7h2v1h-2zM5 8h2v1h-2zM5 9h2v1h-2zM5 10h1v1h-1zM5 11h1v1h-1z"/><path fill="#aa0000" d="M8 8h1v1h-1zM7 9h2v1h-2zM7 10h2v1h-2zM7 11h2v1h-2z"/><path fill="#6a0000" d="M0 10h5v1h-5zM0 11h5v1h-5z"/><path fill="#8c0000" d="M6 10h1v1h-1zM6 11h1v1h-1z"/></g></g><g filter="url(#rb)"><path d="M26.54 45.97 L27.35 42.42 L28.82 38.51 L31.84 37.07 L33.89 36.86 L35.95 36.63 L38.02 36.16 L40.08 35.68 L41.64 35.51 L43.19 35.34 L44.75 35.16 L46.92 34.85 L49.09 34.53 L51.1 34.19 L53.1 33.82 L55.58 32.56" fill="none" stroke="rgb(230,0,0)" stroke-width="4" stroke-linecap="round" stroke-linejoin="round"/><path d="M52.15 41.49 L53.97 43.38 L55.81 45.26 L57.52 47.11 L59.25 48.96 L61.17 50.35 L63.11 51.72 L64.74 53.08 L66.39 54.43 L69.08 57.56 L70.84 61.6 L72.31 65.64 L73.8 69.22 L75.33 72.79 L76.3 75.02 L77.28 77.24" fill="none" stroke="rgb(246,0,0)" stroke-width="3.5" stroke-linecap="round" stroke-linejoin="round"/><path d="M31.07 46.1 L33.03 45.88 L34.99 45.64 L36.52 46.48 L38.05 47.32 L39.74 48.38 L41.43 49.44 L42.95 50.92 L44.48 52.4 L46.9 55.74 L49.38 59.05 L50.97 60.94 L52.58 62.83 L54.52 66.07 L55.44 69.72 L55.69 73.36" fill="none" stroke="rgb(119,0,0)" stroke-width="2.0" stroke-linecap="round" stroke-linejoin="round"/><path d="M-1.4 45.27 L0.2 46.35 L1.81 47.42 L3.48 48.26 L5.16 49.09 L6.7 49.76 L8.26 50.43 L9.84 50.97 L11.42 51.51" fill="none" stroke="rgb(204,0,0)" stroke-width="2.5" stroke-linecap="round" stroke-linejoin="round"/><path d="M61.69 27.24 L63.77 26.35 L65.83 25.43 L67.75 25.63 L69.67 25.82 L71.15 26.08 L72.64 26.34 L74.13 26.58 L76.11 27.63 L78.11 28.65 L79.85 30.14 L81.61 31.61 L84.31 35.04 L85.26 37.24 L86.22 39.43 L85.47 41.77 L83.76 42.13 L82.05 42.48 L80 42.61 L77.95 42.73 L75.79 43.74" fill="none" stroke="rgb(204,0,0)" stroke-width="2.5" stroke-linecap="round" stroke-linejoin="round"/><path d="M70.97 66.58 L72.79 70.16 L74.64 73.27 L76.19 76.83 L77.4 79.96" fill="none" stroke="rgb(238,0,0)" stroke-width="3" stroke-linecap="round" stroke-linejoin="round"/><path d="M32.74 45.62 L34.57 46.62 L36.41 47.61 L38.73 50.57 L40.24 52.07 L41.76 53.56 L44.46 57.39 L46.03 59.09 L47.61 60.77 L49.22 62.22 L50.85 63.66 L53.13 66.47 L54.73 70.16 L54.96 74.24" fill="none" stroke="rgb(89,0,0)" stroke-width="2.0" stroke-linecap="round" stroke-linejoin="round"/><path d="M49.6 42.28 L51.45 43.05 L52.65 44.69 L54.16 47.02" fill="none" stroke="rgb(72,0,0)" stroke-width="2.0" stroke-linecap="round" stroke-linejoin="round"/><path d="M29.27 39.94 L30.93 39.35 L32.58 38.76 L34.13 38.94 L35.68 39.11 L37.24 39.27 L38.79 39.42 L40.35 39.57 L41.91 39.7 L43.5 39.38 L45.09 39.04 L47.93 38.55" fill="none" stroke="rgb(102,0,0)" stroke-width="2.0" stroke-linecap="round" stroke-linejoin="round"/></g><g style="mix-blend-mode:lighten"><g filter="url(#gb)"><g transform="translate(-8.71 -8.53) scale(8.71 8.53)"><path fill="#001100" d="M0 0h2v1h-2zM0 1h2v1h-2zM5 4h1v1h-1zM9 4h1v1h-1zM2 5h1v1h-1zM9 5h1v1h-1zM5 6h1v1h-1zM9 6h3v1h-3zM6 7h1v1h-1zM9 7h3v1h-3zM4 8h1v1h-1zM10 8h2v1h-2zM4 9h1v1h-1zM10 9h2v1h-2zM4 10h3v1h-3zM9 10h3v1h-3zM4 11h3v1h-3zM9 11h3v1h-3z"/><path fill="#000800" d="M2 0h10v1h-10zM2 1h10v1h-10zM0 2h4v1h-4zM6 2h6v1h-6zM0 3h4v1h-4zM6 3h6v1h-6zM0 4h3v1h-3zM7 4h1v1h-1zM2 7h2v1h-2zM2 8h2v1h-2zM2 9h2v1h-2z"/><path fill="#000d00" d="M4 2h2v1h-2zM4 3h2v1h-2zM3 4h1v1h-1zM6 4h1v1h-1zM8 4h1v1h-1zM0 5h2v1h-2zM7 5h2v1h-2zM2 6h2v1h-2zM0 7h2v1h-2zM0 8h2v1h-2zM0 9h2v1h-2z"/><path fill="#001500" d="M4 4h1v1h-1zM6 5h1v1h-1zM4 6h1v1h-1zM8 6h1v1h-1zM4 7h2v1h-2zM8 7h1v1h-1zM5 8h2v1h-2zM9 8h1v1h-1zM5 9h2v1h-2zM9 9h1v1h-1zM0 10h4v1h-4zM0 11h4v1h-4z"/><path fill="#001900" d="M10 4h2v1h-2zM0 6h2v1h-2zM8 8h1v1h-1zM8 10h1v1h-1zM8 11h1v1h-1z"/><path fill="#002200" d="M3 5h1v1h-1zM6 6h1v1h-1zM7 10h1v1h-1zM7 11h1v1h-1z"/><path fill="#002a00" d="M4 5h1v1h-1zM7 6h1v1h-1z"/><path fill="#002600" d="M5 5h1v1h-1zM7 7h1v1h-1zM7 8h1v1h-1zM7 9h1v1h-1z"/><path fill="#001d00" d="M10 5h2v1h-2zM8 9h1v1h-1z"/></g></g><g filter="url(#rb)"><path d="M26.54 45.97 L27.35 42.42 L28.82 38.51 L31.84 37.07 L33.89 36.86 L35.95 36.63 L38.02 36.16 L40.08 35.68 L41.64 35.51 L43.19 35.34 L44.75 35.16 L46.92 34.85 L49.09 34.53 L51.1 34.19 L53.1 33.82 L55.58 32.56" fill="none" stroke="rgb(0,67,0)" stroke-width="4" stroke-linecap="round" stroke-linejoin="round"/><path d="M52.15 41.49 L53.97 43.38 L55.81 45.26 L57.52 47.11 L59.25 48.96 L61.17 50.35 L63.11 51.72 L64.74 53.08 L66.39 54.43 L69.08 57.56 L70.84 61.6 L72.31 65.64 L73.8 69.22 L75.33 72.79 L76.3 75.02 L77.28 77.24" fill="none" stroke="rgb(0,50,0)" stroke-width="3.5" stroke-linecap="round" stroke-linejoin="round"/><path d="M31.07 46.1 L33.03 45.88 L34.99 45.64 L36.52 46.48 L38.05 47.32 L39.74 48.38 L41.43 49.44 L42.95 50.92 L44.48 52.4 L46.9 55.74 L49.38 59.05 L50.97 60.94 L52.58 62.83 L54.52 66.07 L55.44 69.72 L55.69 73.36" fill="none" stroke="rgb(0,25,0)" stroke-width="2.0" stroke-linecap="round" stroke-linejoin="round"/><path d="M-1.4 45.27 L0.2 46.35 L1.81 47.42 L3.48 48.26 L5.16 49.09 L6.7 49.76 L8.26 50.43 L9.84 50.97 L11.42 51.51" fill="none" stroke="rgb(0,34,0)" stroke-width="2.5" stroke-linecap="round" stroke-linejoin="round"/><path d="M61.69 27.24 L63.77 26.35 L65.83 25.43 L67.75 25.63 L69.67 25.82 L71.15 26.08 L72.64 26.34 L74.13 26.58 L76.11 27.63 L78.11 28.65 L79.85 30.14 L81.61 31.61 L84.31 35.04 L85.26 37.24 L86.22 39.43 L85.47 41.77 L83.76 42.13 L82.05 42.48 L80 42.61 L77.95 42.73 L75.79 43.74" fill="none" stroke="rgb(0,50,0)" stroke-width="2.5" stroke-linecap="round" stroke-linejoin="round"/><path d="M70.97 66.58 L72.79 70.16 L74.64 73.27 L76.19 76.83 L77.4 79.96" fill="none" stroke="rgb(0,50,0)" stroke-width="3" stroke-linecap="round" stroke-linejoin="round"/><path d="M32.74 45.62 L34.57 46.62 L36.41 47.61 L38.73 50.57 L40.24 52.07 L41.76 53.56 L44.46 57.39 L46.03 59.09 L47.61 60.77 L49.22 62.22 L50.85 63.66 L53.13 66.47 L54.73 70.16 L54.96 74.24" fill="none" stroke="rgb(0,34,0)" stroke-width="2.0" stroke-linecap="round" stroke-linejoin="round"/><path d="M49.6 42.28 L51.45 43.05 L52.65 44.69 L54.16 47.02" fill="none" stroke="rgb(0,34,0)" stroke-width="2.0" stroke-linecap="round" stroke-linejoin="round"/><path d="M29.27 39.94 L30.93 39.35 L32.58 38.76 L34.13 38.94 L35.68 39.11 L37.24 39.27 L38.79 39.42 L40.35 39.57 L41.91 39.7 L43.5 39.38 L45.09 39.04 L47.93 38.55" fill="none" stroke="rgb(0,34,0)" stroke-width="2.0" stroke-linecap="round" stroke-linejoin="round"/></g></g></g></g><ellipse cx="7.8" cy="84.3" rx="3.3" ry="1.7" fill="#fff"/><use href="#grid" fill="none" stroke="#000" stroke-opacity="0.22" stroke-width="0.45"/><use href="#coast" fill="none" stroke="#000" stroke-width="0.5"/><use href="#bord" fill="none" stroke="#111" stroke-width="0.5"/></g><rect x="0" y="0" width="87.05" height="85.25" fill="none" stroke="#999" stroke-width="0.8"/><text x="-1.8" y="15.1" font-size="5.1" text-anchor="end" textLength="9.76" lengthAdjust="spacingAndGlyphs">50°N</text><text x="-1.8" y="38.4" font-size="5.1" text-anchor="end" textLength="9.76" lengthAdjust="spacingAndGlyphs">45°N</text><text x="-1.8" y="62.4" font-size="5.1" text-anchor="end" textLength="9.76" lengthAdjust="spacingAndGlyphs">40°N</text><text x="-1.8" y="84.9" font-size="5.1" text-anchor="end" textLength="9.76" lengthAdjust="spacingAndGlyphs">35°N</text><text x="88.6" y="22.7" font-size="5.1" textLength="9.76" lengthAdjust="spacingAndGlyphs">50°N</text><text x="88.6" y="45.7" font-size="5.1" textLength="9.76" lengthAdjust="spacingAndGlyphs">45°N</text><text x="88.6" y="68.3" font-size="5.1" textLength="9.76" lengthAdjust="spacingAndGlyphs">40°N</text><text x="13" y="90.7" font-size="5.1" text-anchor="middle" textLength="6.95" lengthAdjust="spacingAndGlyphs">5°E</text><text x="32.1" y="90.7" font-size="5.1" text-anchor="middle" textLength="9.25" lengthAdjust="spacingAndGlyphs">10°E</text><text x="50.7" y="90.7" font-size="5.1" text-anchor="middle" textLength="9.25" lengthAdjust="spacingAndGlyphs">15°E</text><text x="68.2" y="90.7" font-size="5.1" text-anchor="middle" textLength="9.25" lengthAdjust="spacingAndGlyphs">20°E</text><text x="43.52" y="-10.3" font-size="9.2" text-anchor="middle" textLength="87.76" lengthAdjust="spacingAndGlyphs">REMO2020<tspan font-size="6.2" dy="1.7">97</tspan><tspan dy="-1.7"> Shallow DJF</tspan></text><text x="43.52" y="-1.95" font-size="9.2" text-anchor="middle" textLength="77.05" lengthAdjust="spacingAndGlyphs">Mean=0.58 RMSE=1.09</text></g><g transform="translate(143.2 398.25)"><g clip-path="url(#frm)"><g clip-path="url(#land)"><g filter="url(#fD)"><g filter="url(#gb)"><g transform="translate(-8.71 -8.53) scale(8.71 8.53)"><path fill="#8c0000" d="M0 0h4v1h-4zM7 0h5v1h-5zM0 1h4v1h-4zM7 1h5v1h-5zM7 2h5v1h-5zM7 3h5v1h-5zM7 4h5v1h-5zM0 10h5v1h-5zM0 11h5v1h-5z"/><path fill="#8a0000" d="M4 0h3v1h-3zM4 1h3v1h-3zM4 2h3v1h-3zM4 3h3v1h-3zM4 4h3v1h-3z"/><path fill="#8e0000" d="M0 2h4v1h-4zM0 3h4v1h-4zM0 4h4v1h-4zM0 5h4v1h-4zM2 6h2v1h-2z"/><path fill="#b30000" d="M4 5h2v1h-2z"/><path fill="#900000" d="M6 5h1v1h-1z"/><path fill="#840000" d="M7 5h3v1h-3zM8 6h2v1h-2z"/><path fill="#aa0000" d="M10 5h2v1h-2z"/><path fill="#800000" d="M0 6h2v1h-2zM0 7h5v1h-5zM0 8h5v1h-5zM0 9h5v1h-5z"/><path fill="#590000" d="M4 6h2v1h-2z"/><path fill="#880000" d="M6 6h1v1h-1zM6 10h1v1h-1zM6 11h1v1h-1z"/><path fill="#950000" d="M7 6h1v1h-1zM10 6h2v1h-2zM7 7h5v1h-5zM7 8h1v1h-1zM9 8h3v1h-3zM9 9h3v1h-3zM9 10h3v1h-3zM9 11h3v1h-3z"/><path fill="#6e0000" d="M5 7h2v1h-2zM5 8h2v1h-2zM5 9h2v1h-2zM5 10h1v1h-1zM5 11h1v1h-1z"/><path fill="#a20000" d="M8 8h1v1h-1zM7 9h2v1h-2zM7 10h2v1h-2zM7 11h2v1h-2z"/></g></g><g filter="url(#rb)"><path d="M26.54 45.97 L27.35 42.42 L28.82 38.51 L31.84 37.07 L33.89 36.86 L35.95 36.63 L38.02 36.16 L40.08 35.68 L41.64 35.51 L43.19 35.34 L44.75 35.16 L46.92 34.85 L49.09 34.53 L51.1 34.19 L53.1 33.82 L55.58 32.56" fill="none" stroke="rgb(212,0,0)" stroke-width="4" stroke-linecap="round" stroke-linejoin="round"/><path d="M52.15 41.49 L53.97 43.38 L55.81 45.26 L57.52 47.11 L59.25 48.96 L61.17 50.35 L63.11 51.72 L64.74 53.08 L66.39 54.43 L69.08 57.56 L70.84 61.6 L72.31 65.64 L73.8 69.22 L75.33 72.79 L76.3 75.02 L77.28 77.24" fill="none" stroke="rgb(230,0,0)" stroke-width="3" stroke-linecap="round" stroke-linejoin="round"/><path d="M31.07 46.1 L33.03 45.88 L34.99 45.64 L36.52 46.48 L38.05 47.32 L39.74 48.38 L41.43 49.44 L42.95 50.92 L44.48 52.4 L46.9 55.74 L49.38 59.05 L50.97 60.94 L52.58 62.83 L54.52 66.07 L55.44 69.72 L55.69 73.36" fill="none" stroke="rgb(106,0,0)" stroke-width="2" stroke-linecap="round" stroke-linejoin="round"/><path d="M-1.4 45.27 L0.2 46.35 L1.81 47.42 L3.48 48.26 L5.16 49.09 L6.7 49.76 L8.26 50.43 L9.84 50.97 L11.42 51.51" fill="none" stroke="rgb(195,0,0)" stroke-width="2.5" stroke-linecap="round" stroke-linejoin="round"/><path d="M61.69 27.24 L63.77 26.35 L65.83 25.43 L67.75 25.63 L69.67 25.82 L71.15 26.08 L72.64 26.34 L74.13 26.58 L76.11 27.63 L78.11 28.65 L79.85 30.14 L81.61 31.61 L84.31 35.04 L85.26 37.24 L86.22 39.43 L85.47 41.77 L83.76 42.13 L82.05 42.48 L80 42.61 L77.95 42.73 L75.79 43.74" fill="none" stroke="rgb(195,0,0)" stroke-width="2.5" stroke-linecap="round" stroke-linejoin="round"/><path d="M49.6 42.28 L51.45 43.05 L52.65 44.69 L54.16 47.02" fill="none" stroke="rgb(85,0,0)" stroke-width="2.0" stroke-linecap="round" stroke-linejoin="round"/></g><g style="mix-blend-mode:lighten"><g filter="url(#gb)"><g transform="translate(-8.71 -8.53) scale(8.71 8.53)"><path fill="#000800" d="M0 0h12v1h-12zM0 1h12v1h-12zM0 2h12v1h-12zM0 3h4v1h-4zM6 3h6v1h-6zM0 4h3v1h-3zM7 4h1v1h-1zM7 5h1v1h-1zM2 6h2v1h-2zM0 7h4v1h-4zM0 8h5v1h-5zM0 9h5v1h-5zM4 10h1v1h-1zM4 11h1v1h-1z"/><path fill="#000d00" d="M4 3h2v1h-2zM3 4h1v1h-1zM5 4h2v1h-2zM8 4h1v1h-1zM0 5h3v1h-3zM8 5h1v1h-1zM4 6h2v1h-2zM9 6h3v1h-3zM4 7h1v1h-1zM6 7h1v1h-1zM9 7h3v1h-3zM5 8h2v1h-2zM5 9h1v1h-1zM0 10h4v1h-4zM5 10h2v1h-2zM0 11h4v1h-4zM5 11h2v1h-2z"/><path fill="#001100" d="M4 4h1v1h-1zM8 6h1v1h-1zM5 7h1v1h-1zM8 7h1v1h-1zM9 8h3v1h-3zM6 9h1v1h-1zM9 9h3v1h-3zM9 10h3v1h-3zM9 11h3v1h-3z"/><path fill="#001500" d="M9 4h1v1h-1zM6 5h1v1h-1zM9 5h1v1h-1zM8 8h1v1h-1zM8 10h1v1h-1zM8 11h1v1h-1z"/><path fill="#001d00" d="M10 4h2v1h-2zM3 5h1v1h-1zM10 5h2v1h-2zM6 6h1v1h-1zM7 10h1v1h-1zM7 11h1v1h-1z"/><path fill="#002600" d="M4 5h2v1h-2zM7 6h1v1h-1zM7 8h1v1h-1zM7 9h1v1h-1z"/><path fill="#001900" d="M0 6h2v1h-2zM8 9h1v1h-1z"/><path fill="#002200" d="M7 7h1v1h-1z"/></g></g><g filter="url(#rb)"><path d="M26.54 45.97 L27.35 42.42 L28.82 38.51 L31.84 37.07 L33.89 36.86 L35.95 36.63 L38.02 36.16 L40.08 35.68 L41.64 35.51 L43.19 35.34 L44.75 35.16 L46.92 34.85 L49.09 34.53 L51.1 34.19 L53.1 33.82 L55.58 32.56" fill="none" stroke="rgb(0,67,0)" stroke-width="4" stroke-linecap="round" stroke-linejoin="round"/><path d="M52.15 41.49 L53.97 43.38 L55.81 45.26 L57.52 47.11 L59.25 48.96 L61.17 50.35 L63.11 51.72 L64.74 53.08 L66.39 54.43 L69.08 57.56 L70.84 61.6 L72.31 65.64 L73.8 69.22 L75.33 72.79 L76.3 75.02 L77.28 77.24" fill="none" stroke="rgb(0,50,0)" stroke-width="3" stroke-linecap="round" stroke-linejoin="round"/><path d="M31.07 46.1 L33.03 45.88 L34.99 45.64 L36.52 46.48 L38.05 47.32 L39.74 48.38 L41.43 49.44 L42.95 50.92 L44.48 52.4 L46.9 55.74 L49.38 59.05 L50.97 60.94 L52.58 62.83 L54.52 66.07 L55.44 69.72 L55.69 73.36" fill="none" stroke="rgb(0,34,0)" stroke-width="2" stroke-linecap="round" stroke-linejoin="round"/><path d="M-1.4 45.27 L0.2 46.35 L1.81 47.42 L3.48 48.26 L5.16 49.09 L6.7 49.76 L8.26 50.43 L9.84 50.97 L11.42 51.51" fill="none" stroke="rgb(0,34,0)" stroke-width="2.5" stroke-linecap="round" stroke-linejoin="round"/><path d="M61.69 27.24 L63.77 26.35 L65.83 25.43 L67.75 25.63 L69.67 25.82 L71.15 26.08 L72.64 26.34 L74.13 26.58 L76.11 27.63 L78.11 28.65 L79.85 30.14 L81.61 31.61 L84.31 35.04 L85.26 37.24 L86.22 39.43 L85.47 41.77 L83.76 42.13 L82.05 42.48 L80 42.61 L77.95 42.73 L75.79 43.74" fill="none" stroke="rgb(0,50,0)" stroke-width="2.5" stroke-linecap="round" stroke-linejoin="round"/><path d="M49.6 42.28 L51.45 43.05 L52.65 44.69 L54.16 47.02" fill="none" stroke="rgb(0,34,0)" stroke-width="2.0" stroke-linecap="round" stroke-linejoin="round"/></g></g></g></g><ellipse cx="7.8" cy="84.3" rx="3.3" ry="1.7" fill="#fff"/><use href="#grid" fill="none" stroke="#000" stroke-opacity="0.22" stroke-width="0.45"/><use href="#coast" fill="none" stroke="#000" stroke-width="0.5"/><use href="#bord" fill="none" stroke="#111" stroke-width="0.5"/></g><rect x="0" y="0" width="87.05" height="85.25" fill="none" stroke="#999" stroke-width="0.8"/><text x="-1.8" y="15.1" font-size="5.1" text-anchor="end" textLength="9.76" lengthAdjust="spacingAndGlyphs">50°N</text><text x="-1.8" y="38.4" font-size="5.1" text-anchor="end" textLength="9.76" lengthAdjust="spacingAndGlyphs">45°N</text><text x="-1.8" y="62.4" font-size="5.1" text-anchor="end" textLength="9.76" lengthAdjust="spacingAndGlyphs">40°N</text><text x="-1.8" y="84.9" font-size="5.1" text-anchor="end" textLength="9.76" lengthAdjust="spacingAndGlyphs">35°N</text><text x="88.6" y="22.7" font-size="5.1" textLength="9.76" lengthAdjust="spacingAndGlyphs">50°N</text><text x="88.6" y="45.7" font-size="5.1" textLength="9.76" lengthAdjust="spacingAndGlyphs">45°N</text><text x="88.6" y="68.3" font-size="5.1" textLength="9.76" lengthAdjust="spacingAndGlyphs">40°N</text><text x="13" y="90.7" font-size="5.1" text-anchor="middle" textLength="6.95" lengthAdjust="spacingAndGlyphs">5°E</text><text x="32.1" y="90.7" font-size="5.1" text-anchor="middle" textLength="9.25" lengthAdjust="spacingAndGlyphs">10°E</text><text x="50.7" y="90.7" font-size="5.1" text-anchor="middle" textLength="9.25" lengthAdjust="spacingAndGlyphs">15°E</text><text x="68.2" y="90.7" font-size="5.1" text-anchor="middle" textLength="9.25" lengthAdjust="spacingAndGlyphs">20°E</text><text x="43.52" y="-10.3" font-size="9.2" text-anchor="middle" textLength="94.38" lengthAdjust="spacingAndGlyphs">REMO2020<tspan font-size="6.2" dy="1.7">97</tspan><tspan dy="-1.7"> Shallow MAM</tspan></text><text x="43.52" y="-1.95" font-size="9.2" text-anchor="middle" textLength="77.05" lengthAdjust="spacingAndGlyphs">Mean=0.35 RMSE=0.72</text></g><g transform="translate(270.15 398.25)"><g clip-path="url(#frm)"><g clip-path="url(#land)"><g filter="url(#fD)"><g filter="url(#gb)"><g transform="translate(-8.71 -8.53) scale(8.71 8.53)"><path fill="#880000" d="M0 0h4v1h-4zM0 1h4v1h-4zM4 6h2v1h-2zM6 10h1v1h-1zM6 11h1v1h-1z"/><path fill="#8c0000" d="M4 0h3v1h-3zM4 1h3v1h-3zM4 2h3v1h-3zM4 3h3v1h-3zM4 4h3v1h-3zM7 6h1v1h-1zM10 6h2v1h-2zM7 7h5v1h-5zM7 8h1v1h-1zM9 8h3v1h-3zM9 9h3v1h-3zM9 10h3v1h-3zM9 11h3v1h-3z"/><path fill="#8e0000" d="M7 0h5v1h-5zM7 1h5v1h-5zM7 2h5v1h-5zM7 3h5v1h-5zM7 4h5v1h-5z"/><path fill="#840000" d="M0 2h4v1h-4zM0 3h4v1h-4zM0 4h4v1h-4zM0 5h4v1h-4zM2 6h2v1h-2zM4 7h1v1h-1zM4 8h1v1h-1zM4 9h1v1h-1zM0 10h5v1h-5zM0 11h5v1h-5z"/><path fill="#c30000" d="M4 5h1v1h-1z"/><path fill="#cc0000" d="M5 5h1v1h-1z"/><path fill="#990000" d="M6 5h1v1h-1zM10 5h2v1h-2zM8 8h1v1h-1zM7 9h2v1h-2zM7 10h2v1h-2zM7 11h2v1h-2z"/><path fill="#6a0000" d="M7 5h3v1h-3zM8 6h2v1h-2z"/><path fill="#800000" d="M0 6h2v1h-2zM0 7h4v1h-4zM0 8h4v1h-4zM0 9h4v1h-4z"/><path fill="#770000" d="M6 6h1v1h-1z"/><path fill="#950000" d="M5 7h2v1h-2zM5 8h2v1h-2zM5 9h2v1h-2zM5 10h1v1h-1zM5 11h1v1h-1z"/></g></g><g filter="url(#rb)"><path d="M26.54 45.97 L27.35 42.42 L28.82 38.51 L31.84 37.07 L33.89 36.86 L35.95 36.63 L38.02 36.16 L40.08 35.68 L41.64 35.51 L43.19 35.34 L44.75 35.16 L46.92 34.85 L49.09 34.53 L51.1 34.19 L53.1 33.82 L55.58 32.56" fill="none" stroke="rgb(238,0,0)" stroke-width="4" stroke-linecap="round" stroke-linejoin="round"/><path d="M26.73 35.47 L28.38 34.79 L30.03 34.1 L31.65 33.54 L33.26 32.98 L34.86 32.41 L36.41 32.28 L37.96 32.13 L39.5 31.98 L41.04 31.82 L42.57 31.65 L44.11 31.47 L45.63 31.43 L47.15 31.39 L48.67 31.33 L50.18 31.27 L51.7 31.19 L53.21 31.11" fill="none" stroke="rgb(94,0,0)" stroke-width="2.5" stroke-linecap="round" stroke-linejoin="round"/><path d="M60.81 25.87 L62.49 25.74 L64.16 25.59 L65.83 25.43 L67.9 25.86 L69.97 26.27 L72.05 26.43 L74.13 26.58 L76.09 27.17 L78.06 27.75 L79.9 28.55 L81.75 29.33" fill="none" stroke="rgb(94,0,0)" stroke-width="3" stroke-linecap="round" stroke-linejoin="round"/><path d="M66.39 54.43 L69.08 57.56 L70.84 61.6 L72.31 65.64 L73.8 69.22 L75.33 72.79 L76.3 75.02 L77.28 77.24" fill="none" stroke="rgb(179,0,0)" stroke-width="3" stroke-linecap="round" stroke-linejoin="round"/><path d="M-1.4 45.27 L0.2 46.35 L1.81 47.42 L3.48 48.26 L5.16 49.09 L6.7 49.76 L8.26 50.43 L9.84 50.97 L11.42 51.51" fill="none" stroke="rgb(221,0,0)" stroke-width="2" stroke-linecap="round" stroke-linejoin="round"/><ellipse cx="46.51" cy="56.62" rx="4" ry="1.5" transform="rotate(30 46.51 56.62)" fill="rgb(191,0,0)"/></g><g style="mix-blend-mode:lighten"><g filter="url(#gb)"><g transform="translate(-8.71 -8.53) scale(8.71 8.53)"><path fill="#000800" d="M0 0h12v1h-12zM0 1h12v1h-12zM0 2h3v1h-3zM5 2h7v1h-7zM0 3h12v1h-12zM0 4h4v1h-4zM0 5h2v1h-2zM2 6h2v1h-2zM0 7h5v1h-5zM0 8h5v1h-5zM0 9h5v1h-5zM0 10h7v1h-7zM0 11h7v1h-7z"/><path fill="#000d00" d="M3 2h2v1h-2zM4 4h4v1h-4zM2 5h1v1h-1zM7 5h1v1h-1zM4 6h2v1h-2zM9 6h3v1h-3zM5 7h2v1h-2zM9 7h3v1h-3zM6 8h1v1h-1zM5 9h2v1h-2z"/><path fill="#001100" d="M8 4h1v1h-1zM8 5h2v1h-2zM8 6h1v1h-1zM8 7h1v1h-1zM5 8h1v1h-1zM9 8h3v1h-3zM9 9h3v1h-3zM9 10h3v1h-3zM9 11h3v1h-3z"/><path fill="#001500" d="M9 4h3v1h-3zM6 6h2v1h-2zM7 7h1v1h-1zM8 8h1v1h-1zM8 9h1v1h-1zM7 10h2v1h-2zM7 11h2v1h-2z"/><path fill="#001900" d="M3 5h1v1h-1zM6 5h1v1h-1zM10 5h2v1h-2zM0 6h2v1h-2zM7 8h1v1h-1zM7 9h1v1h-1z"/><path fill="#001d00" d="M4 5h2v1h-2z"/></g></g><g filter="url(#rb)"><path d="M26.54 45.97 L27.35 42.42 L28.82 38.51 L31.84 37.07 L33.89 36.86 L35.95 36.63 L38.02 36.16 L40.08 35.68 L41.64 35.51 L43.19 35.34 L44.75 35.16 L46.92 34.85 L49.09 34.53 L51.1 34.19 L53.1 33.82 L55.58 32.56" fill="none" stroke="rgb(0,50,0)" stroke-width="4" stroke-linecap="round" stroke-linejoin="round"/><path d="M26.73 35.47 L28.38 34.79 L30.03 34.1 L31.65 33.54 L33.26 32.98 L34.86 32.41 L36.41 32.28 L37.96 32.13 L39.5 31.98 L41.04 31.82 L42.57 31.65 L44.11 31.47 L45.63 31.43 L47.15 31.39 L48.67 31.33 L50.18 31.27 L51.7 31.19 L53.21 31.11" fill="none" stroke="rgb(0,42,0)" stroke-width="2.5" stroke-linecap="round" stroke-linejoin="round"/><path d="M60.81 25.87 L62.49 25.74 L64.16 25.59 L65.83 25.43 L67.9 25.86 L69.97 26.27 L72.05 26.43 L74.13 26.58 L76.09 27.17 L78.06 27.75 L79.9 28.55 L81.75 29.33" fill="none" stroke="rgb(0,50,0)" stroke-width="3" stroke-linecap="round" stroke-linejoin="round"/><path d="M66.39 54.43 L69.08 57.56 L70.84 61.6 L72.31 65.64 L73.8 69.22 L75.33 72.79 L76.3 75.02 L77.28 77.24" fill="none" stroke="rgb(0,42,0)" stroke-width="3" stroke-linecap="round" stroke-linejoin="round"/><path d="M-1.4 45.27 L0.2 46.35 L1.81 47.42 L3.48 48.26 L5.16 49.09 L6.7 49.76 L8.26 50.43 L9.84 50.97 L11.42 51.51" fill="none" stroke="rgb(0,34,0)" stroke-width="2" stroke-linecap="round" stroke-linejoin="round"/><ellipse cx="46.51" cy="56.62" rx="4" ry="1.5" transform="rotate(30 46.51 56.62)" fill="rgb(0,34,0)"/></g></g></g></g><ellipse cx="7.8" cy="84.3" rx="3.3" ry="1.7" fill="#fff"/><use href="#grid" fill="none" stroke="#000" stroke-opacity="0.22" stroke-width="0.45"/><use href="#coast" fill="none" stroke="#000" stroke-width="0.5"/><use href="#bord" fill="none" stroke="#111" stroke-width="0.5"/></g><rect x="0" y="0" width="87.05" height="85.25" fill="none" stroke="#999" stroke-width="0.8"/><text x="-1.8" y="15.1" font-size="5.1" text-anchor="end" textLength="9.76" lengthAdjust="spacingAndGlyphs">50°N</text><text x="-1.8" y="38.4" font-size="5.1" text-anchor="end" textLength="9.76" lengthAdjust="spacingAndGlyphs">45°N</text><text x="-1.8" y="62.4" font-size="5.1" text-anchor="end" textLength="9.76" lengthAdjust="spacingAndGlyphs">40°N</text><text x="-1.8" y="84.9" font-size="5.1" text-anchor="end" textLength="9.76" lengthAdjust="spacingAndGlyphs">35°N</text><text x="88.6" y="22.7" font-size="5.1" textLength="9.76" lengthAdjust="spacingAndGlyphs">50°N</text><text x="88.6" y="45.7" font-size="5.1" textLength="9.76" lengthAdjust="spacingAndGlyphs">45°N</text><text x="88.6" y="68.3" font-size="5.1" textLength="9.76" lengthAdjust="spacingAndGlyphs">40°N</text><text x="13" y="90.7" font-size="5.1" text-anchor="middle" textLength="6.95" lengthAdjust="spacingAndGlyphs">5°E</text><text x="32.1" y="90.7" font-size="5.1" text-anchor="middle" textLength="9.25" lengthAdjust="spacingAndGlyphs">10°E</text><text x="50.7" y="90.7" font-size="5.1" text-anchor="middle" textLength="9.25" lengthAdjust="spacingAndGlyphs">15°E</text><text x="68.2" y="90.7" font-size="5.1" text-anchor="middle" textLength="9.25" lengthAdjust="spacingAndGlyphs">20°E</text><text x="43.52" y="-10.3" font-size="9.2" text-anchor="middle" textLength="86.43" lengthAdjust="spacingAndGlyphs">REMO2020<tspan font-size="6.2" dy="1.7">97</tspan><tspan dy="-1.7"> Shallow JJA</tspan></text><text x="43.52" y="-1.95" font-size="9.2" text-anchor="middle" textLength="77.05" lengthAdjust="spacingAndGlyphs">Mean=0.21 RMSE=0.69</text></g><g transform="translate(396.85 398.25)"><g clip-path="url(#frm)"><g clip-path="url(#land)"><g filter="url(#fD)"><g filter="url(#gb)"><g transform="translate(-8.71 -8.53) scale(8.71 8.53)"><path fill="#840000" d="M0 0h7v1h-7zM0 1h7v1h-7zM4 2h3v1h-3zM4 3h3v1h-3zM4 4h3v1h-3z"/><path fill="#860000" d="M7 0h5v1h-5zM7 1h5v1h-5zM7 2h5v1h-5zM7 3h5v1h-5zM7 4h5v1h-5z"/><path fill="#7b0000" d="M0 2h4v1h-4zM0 3h4v1h-4zM0 4h4v1h-4zM0 5h4v1h-4zM3 6h1v1h-1z"/><path fill="#a20000" d="M4 5h1v1h-1z"/><path fill="#8c0000" d="M5 5h1v1h-1zM6 10h1v1h-1zM6 11h1v1h-1z"/><path fill="#5e0000" d="M6 5h1v1h-1zM5 7h1v1h-1z"/><path fill="#770000" d="M7 5h3v1h-3zM8 6h2v1h-2z"/><path fill="#9d0000" d="M10 5h2v1h-2z"/><path fill="#800000" d="M0 6h2v1h-2zM0 7h5v1h-5zM0 8h5v1h-5zM0 9h5v1h-5z"/><path fill="#590000" d="M2 6h1v1h-1z"/><path fill="#660000" d="M4 6h2v1h-2z"/><path fill="#550000" d="M6 6h1v1h-1z"/><path fill="#880000" d="M7 6h1v1h-1zM10 6h2v1h-2zM6 7h6v1h-6zM5 8h3v1h-3zM9 8h3v1h-3zM5 9h2v1h-2zM9 9h3v1h-3zM5 10h1v1h-1zM9 10h3v1h-3zM5 11h1v1h-1zM9 11h3v1h-3z"/><path fill="#b30000" d="M8 8h1v1h-1zM7 9h2v1h-2zM7 10h2v1h-2zM7 11h2v1h-2z"/><path fill="#900000" d="M0 10h5v1h-5zM0 11h5v1h-5z"/></g></g><g filter="url(#rb)"><path d="M26.54 45.97 L27.35 42.42 L28.82 38.51 L31.84 37.07 L33.89 36.86 L35.95 36.63 L38.02 36.16 L40.08 35.68" fill="none" stroke="rgb(204,0,0)" stroke-width="4" stroke-linecap="round" stroke-linejoin="round"/><path d="M42.26 35.41 L44.75 35.16 L46.89 35.31 L49.04 35.44 L50.7 35.98 L52.37 36.51 L54.48 37.96" fill="none" stroke="rgb(64,0,0)" stroke-width="3" stroke-linecap="round" stroke-linejoin="round"/><path d="M49.23 43.16 L51.38 44.63 L53.18 47.43 L55.34 50.23 L58.22 52.12 L59.83 53.28 L61.46 54.43" fill="none" stroke="rgb(76,0,0)" stroke-width="2.5" stroke-linecap="round" stroke-linejoin="round"/><path d="M66.39 54.43 L69.08 57.56 L70.84 61.6 L72.31 65.64 L73.8 69.22 L75.33 72.79 L76.3 75.02 L77.28 77.24" fill="none" stroke="rgb(212,0,0)" stroke-width="3" stroke-linecap="round" stroke-linejoin="round"/><path d="M28.72 46.72 L31.76 45.73 L33.35 45.92 L34.94 46.09 L37.05 47.68" fill="none" stroke="rgb(42,0,0)" stroke-width="3" stroke-linecap="round" stroke-linejoin="round"/><ellipse cx="17.07" cy="44.03" rx="3" ry="2.5" fill="rgb(51,0,0)"/><path d="M-1.4 45.27 L0.2 46.35 L1.81 47.42 L3.48 48.26 L5.16 49.09 L6.7 49.76 L8.26 50.43 L9.84 50.97 L11.42 51.51" fill="none" stroke="rgb(179,0,0)" stroke-width="2.5" stroke-linecap="round" stroke-linejoin="round"/></g><g style="mix-blend-mode:lighten"><g filter="url(#gb)"><g transform="translate(-8.71 -8.53) scale(8.71 8.53)"><path fill="#001100" d="M0 0h2v1h-2zM0 1h2v1h-2zM4 4h1v1h-1zM9 4h1v1h-1zM2 5h1v1h-1zM9 5h1v1h-1zM8 6h1v1h-1zM6 7h1v1h-1zM8 7h1v1h-1zM5 8h2v1h-2zM9 8h3v1h-3zM5 9h2v1h-2zM9 9h3v1h-3zM9 10h3v1h-3zM9 11h3v1h-3z"/><path fill="#000800" d="M2 0h10v1h-10zM2 1h10v1h-10zM0 2h12v1h-12zM0 3h4v1h-4zM5 3h7v1h-7zM0 4h3v1h-3zM7 4h1v1h-1zM0 7h4v1h-4zM0 8h5v1h-5zM0 9h5v1h-5z"/><path fill="#000d00" d="M4 3h1v1h-1zM3 4h1v1h-1zM5 4h2v1h-2zM8 4h1v1h-1zM0 5h2v1h-2zM7 5h2v1h-2zM9 6h3v1h-3zM4 7h1v1h-1zM9 7h3v1h-3zM0 10h7v1h-7zM0 11h7v1h-7z"/><path fill="#001500" d="M10 4h2v1h-2zM3 6h1v1h-1zM5 6h1v1h-1zM5 7h1v1h-1zM8 8h1v1h-1zM8 10h1v1h-1zM8 11h1v1h-1z"/><path fill="#001d00" d="M3 5h1v1h-1zM7 10h1v1h-1zM7 11h1v1h-1z"/><path fill="#002600" d="M4 5h2v1h-2zM7 7h1v1h-1zM7 8h1v1h-1zM7 9h1v1h-1z"/><path fill="#002200" d="M6 5h1v1h-1zM6 6h2v1h-2z"/><path fill="#001900" d="M10 5h2v1h-2zM0 6h3v1h-3zM4 6h1v1h-1zM8 9h1v1h-1z"/></g></g><g filter="url(#rb)"><path d="M26.54 45.97 L27.35 42.42 L28.82 38.51 L31.84 37.07 L33.89 36.86 L35.95 36.63 L38.02 36.16 L40.08 35.68" fill="none" stroke="rgb(0,67,0)" stroke-width="4" stroke-linecap="round" stroke-linejoin="round"/><path d="M42.26 35.41 L44.75 35.16 L46.89 35.31 L49.04 35.44 L50.7 35.98 L52.37 36.51 L54.48 37.96" fill="none" stroke="rgb(0,59,0)" stroke-width="3" stroke-linecap="round" stroke-linejoin="round"/><path d="M49.23 43.16 L51.38 44.63 L53.18 47.43 L55.34 50.23 L58.22 52.12 L59.83 53.28 L61.46 54.43" fill="none" stroke="rgb(0,42,0)" stroke-width="2.5" stroke-linecap="round" stroke-linejoin="round"/><path d="M66.39 54.43 L69.08 57.56 L70.84 61.6 L72.31 65.64 L73.8 69.22 L75.33 72.79 L76.3 75.02 L77.28 77.24" fill="none" stroke="rgb(0,50,0)" stroke-width="3" stroke-linecap="round" stroke-linejoin="round"/><path d="M28.72 46.72 L31.76 45.73 L33.35 45.92 L34.94 46.09 L37.05 47.68" fill="none" stroke="rgb(0,42,0)" stroke-width="3" stroke-linecap="round" stroke-linejoin="round"/><ellipse cx="17.07" cy="44.03" rx="3" ry="2.5" fill="rgb(0,50,0)"/><path d="M-1.4 45.27 L0.2 46.35 L1.81 47.42 L3.48 48.26 L5.16 49.09 L6.7 49.76 L8.26 50.43 L9.84 50.97 L11.42 51.51" fill="none" stroke="rgb(0,34,0)" stroke-width="2.5" stroke-linecap="round" stroke-linejoin="round"/></g></g></g></g><ellipse cx="7.8" cy="84.3" rx="3.3" ry="1.7" fill="#fff"/><use href="#grid" fill="none" stroke="#000" stroke-opacity="0.22" stroke-width="0.45"/><use href="#coast" fill="none" stroke="#000" stroke-width="0.5"/><use href="#bord" fill="none" stroke="#111" stroke-width="0.5"/></g><rect x="0" y="0" width="87.05" height="85.25" fill="none" stroke="#999" stroke-width="0.8"/><text x="-1.8" y="15.1" font-size="5.1" text-anchor="end" textLength="9.76" lengthAdjust="spacingAndGlyphs">50°N</text><text x="-1.8" y="38.4" font-size="5.1" text-anchor="end" textLength="9.76" lengthAdjust="spacingAndGlyphs">45°N</text><text x="-1.8" y="62.4" font-size="5.1" text-anchor="end" textLength="9.76" lengthAdjust="spacingAndGlyphs">40°N</text><text x="-1.8" y="84.9" font-size="5.1" text-anchor="end" textLength="9.76" lengthAdjust="spacingAndGlyphs">35°N</text><text x="88.6" y="22.7" font-size="5.1" textLength="9.76" lengthAdjust="spacingAndGlyphs">50°N</text><text x="88.6" y="45.7" font-size="5.1" textLength="9.76" lengthAdjust="spacingAndGlyphs">45°N</text><text x="88.6" y="68.3" font-size="5.1" textLength="9.76" lengthAdjust="spacingAndGlyphs">40°N</text><text x="13" y="90.7" font-size="5.1" text-anchor="middle" textLength="6.95" lengthAdjust="spacingAndGlyphs">5°E</text><text x="32.1" y="90.7" font-size="5.1" text-anchor="middle" textLength="9.25" lengthAdjust="spacingAndGlyphs">10°E</text><text x="50.7" y="90.7" font-size="5.1" text-anchor="middle" textLength="9.25" lengthAdjust="spacingAndGlyphs">15°E</text><text x="68.2" y="90.7" font-size="5.1" text-anchor="middle" textLength="9.25" lengthAdjust="spacingAndGlyphs">20°E</text><text x="43.52" y="-10.3" font-size="9.2" text-anchor="middle" textLength="90.41" lengthAdjust="spacingAndGlyphs">REMO2020<tspan font-size="6.2" dy="1.7">97</tspan><tspan dy="-1.7"> Shallow SON</tspan></text><text x="43.52" y="-1.95" font-size="9.2" text-anchor="middle" textLength="77.05" lengthAdjust="spacingAndGlyphs">Mean=0.15 RMSE=0.70</text></g><rect x="105.8" y="122.2" width="28.85" height="5.7" fill="rgb(134,97,42)"/><rect x="134.6" y="122.2" width="28.85" height="5.7" fill="rgb(203,165,80)"/><rect x="163.4" y="122.2" width="28.85" height="5.7" fill="rgb(218,212,111)"/><rect x="192.2" y="122.2" width="28.85" height="5.7" fill="rgb(180,238,135)"/><rect x="221" y="122.2" width="28.85" height="5.7" fill="rgb(93,238,201)"/><rect x="249.8" y="122.2" width="28.85" height="5.7" fill="rgb(37,198,236)"/><rect x="278.6" y="122.2" width="28.85" height="5.7" fill="rgb(12,120,238)"/><rect x="307.4" y="122.2" width="28.85" height="5.7" fill="rgb(29,40,201)"/><rect x="336.2" y="122.2" width="28.85" height="5.7" fill="rgb(28,17,159)"/><rect x="365" y="122.2" width="28.85" height="5.7" fill="rgb(8,51,113)"/><rect x="105.8" y="122.2" width="288.0" height="5.7" fill="none" stroke="#888" stroke-width="0.5"/><line x1="105.8" y1="127.9" x2="105.8" y2="129.6" stroke="#333" stroke-width="0.4"/><text x="105.8" y="134.4" font-size="6.6" text-anchor="middle">0</text><line x1="163.4" y1="127.9" x2="163.4" y2="129.6" stroke="#333" stroke-width="0.4"/><text x="163.4" y="134.4" font-size="6.6" text-anchor="middle">1</text><line x1="221" y1="127.9" x2="221" y2="129.6" stroke="#333" stroke-width="0.4"/><text x="221" y="134.4" font-size="6.6" text-anchor="middle">2</text><line x1="278.6" y1="127.9" x2="278.6" y2="129.6" stroke="#333" stroke-width="0.4"/><text x="278.6" y="134.4" font-size="6.6" text-anchor="middle">3</text><line x1="336.2" y1="127.9" x2="336.2" y2="129.6" stroke="#333" stroke-width="0.4"/><text x="336.2" y="134.4" font-size="6.6" text-anchor="middle">4</text><line x1="393.8" y1="127.9" x2="393.8" y2="129.6" stroke="#333" stroke-width="0.4"/><text x="393.8" y="134.4" font-size="6.6" text-anchor="middle">5</text><text x="246.5" y="143.2" font-size="8.3" text-anchor="middle">Precipitation [mm/d]</text><rect x="105.8" y="499.4" width="9.65" height="5.4" fill="rgb(150,22,28)"/><rect x="115.4" y="499.4" width="9.65" height="5.4" fill="rgb(170,28,36)"/><rect x="125" y="499.4" width="9.65" height="5.4" fill="rgb(196,30,38)"/><rect x="134.6" y="499.4" width="9.65" height="5.4" fill="rgb(220,48,40)"/><rect x="144.2" y="499.4" width="9.65" height="5.4" fill="rgb(232,80,42)"/><rect x="153.8" y="499.4" width="9.65" height="5.4" fill="rgb(240,100,44)"/><rect x="163.4" y="499.4" width="9.65" height="5.4" fill="rgb(248,132,50)"/><rect x="173" y="499.4" width="9.65" height="5.4" fill="rgb(251,156,52)"/><rect x="182.6" y="499.4" width="9.65" height="5.4" fill="rgb(253,184,68)"/><rect x="192.2" y="499.4" width="9.65" height="5.4" fill="rgb(253,200,102)"/><rect x="201.8" y="499.4" width="9.65" height="5.4" fill="rgb(253,216,120)"/><rect x="211.4" y="499.4" width="9.65" height="5.4" fill="rgb(254,230,160)"/><rect x="221" y="499.4" width="9.65" height="5.4" fill="rgb(254,242,204)"/><rect x="230.6" y="499.4" width="9.65" height="5.4" fill="rgb(255,250,240)"/><rect x="240.2" y="499.4" width="9.65" height="5.4" fill="rgb(255,255,255)"/><rect x="249.8" y="499.4" width="9.65" height="5.4" fill="rgb(255,255,255)"/><rect x="259.4" y="499.4" width="9.65" height="5.4" fill="rgb(242,249,253)"/><rect x="269" y="499.4" width="9.65" height="5.4" fill="rgb(228,242,251)"/><rect x="278.6" y="499.4" width="9.65" height="5.4" fill="rgb(210,234,247)"/><rect x="288.2" y="499.4" width="9.65" height="5.4" fill="rgb(192,226,244)"/><rect x="297.8" y="499.4" width="9.65" height="5.4" fill="rgb(170,220,244)"/><rect x="307.4" y="499.4" width="9.65" height="5.4" fill="rgb(150,208,240)"/><rect x="317" y="499.4" width="9.65" height="5.4" fill="rgb(128,192,230)"/><rect x="326.6" y="499.4" width="9.65" height="5.4" fill="rgb(102,174,220)"/><rect x="336.2" y="499.4" width="9.65" height="5.4" fill="rgb(80,148,208)"/><rect x="345.8" y="499.4" width="9.65" height="5.4" fill="rgb(60,128,196)"/><rect x="355.4" y="499.4" width="9.65" height="5.4" fill="rgb(44,100,176)"/><rect x="365" y="499.4" width="9.65" height="5.4" fill="rgb(34,80,154)"/><rect x="374.6" y="499.4" width="9.65" height="5.4" fill="rgb(28,60,128)"/><rect x="384.2" y="499.4" width="9.65" height="5.4" fill="rgb(24,44,104)"/><rect x="105.8" y="499.4" width="288.0" height="5.4" fill="none" stroke="#888" stroke-width="0.5"/><line x1="105.8" y1="504.8" x2="105.8" y2="506.4" stroke="#333" stroke-width="0.4"/><text x="105.8" y="512.5" font-size="6.6" text-anchor="middle" textLength="9.4" lengthAdjust="spacingAndGlyphs">−3</text><line x1="153.8" y1="504.8" x2="153.8" y2="506.4" stroke="#333" stroke-width="0.4"/><text x="153.8" y="512.5" font-size="6.6" text-anchor="middle" textLength="9.4" lengthAdjust="spacingAndGlyphs">−2</text><line x1="201.8" y1="504.8" x2="201.8" y2="506.4" stroke="#333" stroke-width="0.4"/><text x="201.8" y="512.5" font-size="6.6" text-anchor="middle" textLength="9.4" lengthAdjust="spacingAndGlyphs">−1</text><line x1="249.8" y1="504.8" x2="249.8" y2="506.4" stroke="#333" stroke-width="0.4"/><text x="249.8" y="512.5" font-size="6.6" text-anchor="middle">0</text><line x1="297.8" y1="504.8" x2="297.8" y2="506.4" stroke="#333" stroke-width="0.4"/><text x="297.8" y="512.5" font-size="6.6" text-anchor="middle">1</text><line x1="345.8" y1="504.8" x2="345.8" y2="506.4" stroke="#333" stroke-width="0.4"/><text x="345.8" y="512.5" font-size="6.6" text-anchor="middle">2</text><line x1="393.8" y1="504.8" x2="393.8" y2="506.4" stroke="#333" stroke-width="0.4"/><text x="393.8" y="512.5" font-size="6.6" text-anchor="middle">3</text><text x="246" y="521.6" font-size="8.3" text-anchor="middle">ΔPrecipitation [mm/d]</text></svg></body></html>
